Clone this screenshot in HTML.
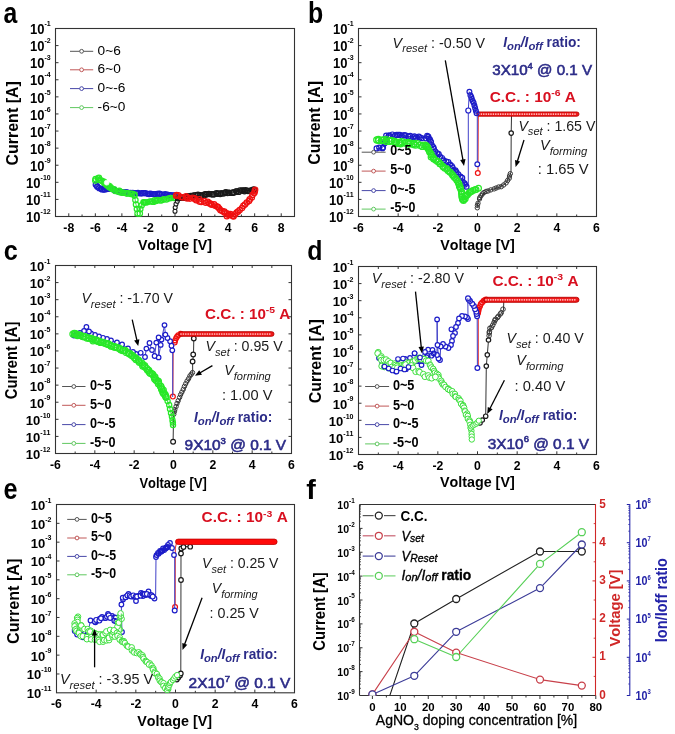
<!DOCTYPE html>
<html><head><meta charset="utf-8"><style>
html,body{margin:0;padding:0;background:#fff;}
svg{display:block;filter:blur(0.3px);}
svg text{font-family:"Liberation Sans", sans-serif;font-kerning:none;font-variant-ligatures:none;}
</style></head><body>
<svg width="675" height="734" viewBox="0 0 675 734">
<rect width="675" height="734" fill="#fff"/>
<text transform="translate(3.40,22.71) scale(0.8626,1)" font-size="28.73" font-weight="bold" font-style="normal" fill="#000">a</text>
<text transform="translate(308.00,22.91) scale(0.8518,1)" font-size="29.25" font-weight="bold" font-style="normal" fill="#000">b</text>
<text transform="translate(3.70,260.12) scale(0.9128,1)" font-size="27.64" font-weight="bold" font-style="normal" fill="#000">c</text>
<text transform="translate(307.20,259.72) scale(0.8763,1)" font-size="28.44" font-weight="bold" font-style="normal" fill="#000">d</text>
<text transform="translate(3.40,498.71) scale(0.8781,1)" font-size="28.73" font-weight="bold" font-style="normal" fill="#000">e</text>
<text transform="translate(306.30,498.60) scale(1.0235,1)" font-size="28.00" font-weight="bold" font-style="normal" fill="#000">f</text>
<rect x="55.5" y="28.5" width="239.00" height="188.00" fill="none" stroke="#333333" stroke-width="1.1"/>
<line x1="68.78" y1="216.50" x2="68.78" y2="213.30" stroke="#333333" stroke-width="1" />
<text transform="translate(63.33,231.70) scale(0.9,1)" font-size="13.6" font-weight="bold" fill="#000">-8</text>
<line x1="82.06" y1="216.50" x2="82.06" y2="214.50" stroke="#333333" stroke-width="1" />
<line x1="95.33" y1="216.50" x2="95.33" y2="213.30" stroke="#333333" stroke-width="1" />
<text transform="translate(89.89,231.70) scale(0.9,1)" font-size="13.6" font-weight="bold" fill="#000">-6</text>
<line x1="108.61" y1="216.50" x2="108.61" y2="214.50" stroke="#333333" stroke-width="1" />
<line x1="121.89" y1="216.50" x2="121.89" y2="213.30" stroke="#333333" stroke-width="1" />
<text transform="translate(116.44,231.70) scale(0.9,1)" font-size="13.6" font-weight="bold" fill="#000">-4</text>
<line x1="135.17" y1="216.50" x2="135.17" y2="214.50" stroke="#333333" stroke-width="1" />
<line x1="148.44" y1="216.50" x2="148.44" y2="213.30" stroke="#333333" stroke-width="1" />
<text transform="translate(143.00,231.70) scale(0.9,1)" font-size="13.6" font-weight="bold" fill="#000">-2</text>
<line x1="161.72" y1="216.50" x2="161.72" y2="214.50" stroke="#333333" stroke-width="1" />
<line x1="175.00" y1="216.50" x2="175.00" y2="213.30" stroke="#333333" stroke-width="1" />
<text transform="translate(171.60,231.70) scale(0.9,1)" font-size="13.6" font-weight="bold" fill="#000">0</text>
<line x1="188.28" y1="216.50" x2="188.28" y2="214.50" stroke="#333333" stroke-width="1" />
<line x1="201.56" y1="216.50" x2="201.56" y2="213.30" stroke="#333333" stroke-width="1" />
<text transform="translate(198.16,231.70) scale(0.9,1)" font-size="13.6" font-weight="bold" fill="#000">2</text>
<line x1="214.83" y1="216.50" x2="214.83" y2="214.50" stroke="#333333" stroke-width="1" />
<line x1="228.11" y1="216.50" x2="228.11" y2="213.30" stroke="#333333" stroke-width="1" />
<text transform="translate(224.71,231.70) scale(0.9,1)" font-size="13.6" font-weight="bold" fill="#000">4</text>
<line x1="241.39" y1="216.50" x2="241.39" y2="214.50" stroke="#333333" stroke-width="1" />
<line x1="254.67" y1="216.50" x2="254.67" y2="213.30" stroke="#333333" stroke-width="1" />
<text transform="translate(251.27,231.70) scale(0.9,1)" font-size="13.6" font-weight="bold" fill="#000">6</text>
<line x1="267.94" y1="216.50" x2="267.94" y2="214.50" stroke="#333333" stroke-width="1" />
<line x1="281.22" y1="216.50" x2="281.22" y2="213.30" stroke="#333333" stroke-width="1" />
<text transform="translate(277.83,231.70) scale(0.9,1)" font-size="13.6" font-weight="bold" fill="#000">8</text>
<text transform="translate(26.10,222.20) scale(0.91,1)" font-size="14.3" font-weight="bold" fill="#000"><tspan>10</tspan><tspan font-size="7.72" dy="-8.0">-12</tspan></text>
<line x1="55.50" y1="199.41" x2="58.50" y2="199.41" stroke="#333333" stroke-width="1" />
<text transform="translate(26.10,205.11) scale(0.91,1)" font-size="14.3" font-weight="bold" fill="#000"><tspan>10</tspan><tspan font-size="7.72" dy="-8.0">-11</tspan></text>
<line x1="55.50" y1="182.32" x2="58.50" y2="182.32" stroke="#333333" stroke-width="1" />
<text transform="translate(26.10,188.02) scale(0.91,1)" font-size="14.3" font-weight="bold" fill="#000"><tspan>10</tspan><tspan font-size="7.72" dy="-8.0">-10</tspan></text>
<line x1="55.50" y1="165.23" x2="58.50" y2="165.23" stroke="#333333" stroke-width="1" />
<text transform="translate(30.00,170.93) scale(0.91,1)" font-size="14.3" font-weight="bold" fill="#000"><tspan>10</tspan><tspan font-size="7.72" dy="-8.0">-9</tspan></text>
<line x1="55.50" y1="148.14" x2="58.50" y2="148.14" stroke="#333333" stroke-width="1" />
<text transform="translate(30.00,153.84) scale(0.91,1)" font-size="14.3" font-weight="bold" fill="#000"><tspan>10</tspan><tspan font-size="7.72" dy="-8.0">-8</tspan></text>
<line x1="55.50" y1="131.05" x2="58.50" y2="131.05" stroke="#333333" stroke-width="1" />
<text transform="translate(30.00,136.75) scale(0.91,1)" font-size="14.3" font-weight="bold" fill="#000"><tspan>10</tspan><tspan font-size="7.72" dy="-8.0">-7</tspan></text>
<line x1="55.50" y1="113.95" x2="58.50" y2="113.95" stroke="#333333" stroke-width="1" />
<text transform="translate(30.00,119.65) scale(0.91,1)" font-size="14.3" font-weight="bold" fill="#000"><tspan>10</tspan><tspan font-size="7.72" dy="-8.0">-6</tspan></text>
<line x1="55.50" y1="96.86" x2="58.50" y2="96.86" stroke="#333333" stroke-width="1" />
<text transform="translate(30.00,102.56) scale(0.91,1)" font-size="14.3" font-weight="bold" fill="#000"><tspan>10</tspan><tspan font-size="7.72" dy="-8.0">-5</tspan></text>
<line x1="55.50" y1="79.77" x2="58.50" y2="79.77" stroke="#333333" stroke-width="1" />
<text transform="translate(30.00,85.47) scale(0.91,1)" font-size="14.3" font-weight="bold" fill="#000"><tspan>10</tspan><tspan font-size="7.72" dy="-8.0">-4</tspan></text>
<line x1="55.50" y1="62.68" x2="58.50" y2="62.68" stroke="#333333" stroke-width="1" />
<text transform="translate(30.00,68.38) scale(0.91,1)" font-size="14.3" font-weight="bold" fill="#000"><tspan>10</tspan><tspan font-size="7.72" dy="-8.0">-3</tspan></text>
<line x1="55.50" y1="45.59" x2="58.50" y2="45.59" stroke="#333333" stroke-width="1" />
<text transform="translate(30.00,51.29) scale(0.91,1)" font-size="14.3" font-weight="bold" fill="#000"><tspan>10</tspan><tspan font-size="7.72" dy="-8.0">-2</tspan></text>
<text transform="translate(30.00,34.20) scale(0.91,1)" font-size="14.3" font-weight="bold" fill="#000"><tspan>10</tspan><tspan font-size="7.72" dy="-8.0">-1</tspan></text>
<text transform="translate(137.90,249.80) scale(0.9794,1)" fill="#000" ><tspan font-size="14.50" font-weight="bold">Voltage [V]</tspan></text>
<text transform="translate(18.40,123.30) rotate(-90) scale(0.9583,1) translate(-44.09,0)" fill="#000"><tspan font-size="16.70" font-weight="bold">Current [A]</tspan></text>
<polyline points="175.0,195.5 165.0,194.5 150.0,193.7 140.0,193.2 134.0,193.2 124.0,192.5 117.0,191.0 111.0,188.5 107.0,189.5 102.0,189.5 97.5,187.0 96.0,185.0" fill="none" stroke="#4040c8" stroke-width="1" stroke-linejoin="round" />
<circle cx="175.0" cy="195.6" r="2.5" fill="none" stroke="#1c1cc8" stroke-width="1.2" />
<circle cx="174.0" cy="195.3" r="2.5" fill="none" stroke="#1c1cc8" stroke-width="1.2" />
<circle cx="172.2" cy="195.3" r="2.5" fill="none" stroke="#1c1cc8" stroke-width="1.2" />
<circle cx="170.4" cy="195.1" r="2.5" fill="none" stroke="#1c1cc8" stroke-width="1.2" />
<circle cx="169.4" cy="195.2" r="2.5" fill="none" stroke="#1c1cc8" stroke-width="1.2" />
<circle cx="167.5" cy="194.6" r="2.5" fill="none" stroke="#1c1cc8" stroke-width="1.2" />
<circle cx="166.0" cy="195.0" r="2.5" fill="none" stroke="#1c1cc8" stroke-width="1.2" />
<circle cx="165.2" cy="194.0" r="2.5" fill="none" stroke="#1c1cc8" stroke-width="1.2" />
<circle cx="164.0" cy="194.9" r="2.5" fill="none" stroke="#1c1cc8" stroke-width="1.2" />
<circle cx="162.2" cy="194.5" r="2.5" fill="none" stroke="#1c1cc8" stroke-width="1.2" />
<circle cx="160.2" cy="193.8" r="2.5" fill="none" stroke="#1c1cc8" stroke-width="1.2" />
<circle cx="159.0" cy="193.7" r="2.5" fill="none" stroke="#1c1cc8" stroke-width="1.2" />
<circle cx="157.2" cy="193.8" r="2.5" fill="none" stroke="#1c1cc8" stroke-width="1.2" />
<circle cx="155.5" cy="194.0" r="2.5" fill="none" stroke="#1c1cc8" stroke-width="1.2" />
<circle cx="154.4" cy="194.3" r="2.5" fill="none" stroke="#1c1cc8" stroke-width="1.2" />
<circle cx="153.0" cy="194.0" r="2.5" fill="none" stroke="#1c1cc8" stroke-width="1.2" />
<circle cx="151.5" cy="193.9" r="2.5" fill="none" stroke="#1c1cc8" stroke-width="1.2" />
<circle cx="150.0" cy="193.5" r="2.5" fill="none" stroke="#1c1cc8" stroke-width="1.2" />
<circle cx="149.1" cy="194.1" r="2.5" fill="none" stroke="#1c1cc8" stroke-width="1.2" />
<circle cx="147.5" cy="193.8" r="2.5" fill="none" stroke="#1c1cc8" stroke-width="1.2" />
<circle cx="145.5" cy="193.2" r="2.5" fill="none" stroke="#1c1cc8" stroke-width="1.2" />
<circle cx="144.1" cy="193.0" r="2.5" fill="none" stroke="#1c1cc8" stroke-width="1.2" />
<circle cx="143.1" cy="193.2" r="2.5" fill="none" stroke="#1c1cc8" stroke-width="1.2" />
<circle cx="141.8" cy="193.2" r="2.5" fill="none" stroke="#1c1cc8" stroke-width="1.2" />
<circle cx="140.5" cy="193.5" r="2.5" fill="none" stroke="#1c1cc8" stroke-width="1.2" />
<circle cx="138.0" cy="192.9" r="2.5" fill="none" stroke="#1c1cc8" stroke-width="1.2" />
<circle cx="137.4" cy="193.2" r="2.5" fill="none" stroke="#1c1cc8" stroke-width="1.2" />
<circle cx="136.0" cy="193.1" r="2.5" fill="none" stroke="#1c1cc8" stroke-width="1.2" />
<circle cx="133.6" cy="193.3" r="2.5" fill="none" stroke="#1c1cc8" stroke-width="1.2" />
<circle cx="132.8" cy="192.9" r="2.5" fill="none" stroke="#1c1cc8" stroke-width="1.2" />
<circle cx="130.7" cy="192.8" r="2.5" fill="none" stroke="#1c1cc8" stroke-width="1.2" />
<circle cx="130.2" cy="193.2" r="2.5" fill="none" stroke="#1c1cc8" stroke-width="1.2" />
<circle cx="127.9" cy="192.5" r="2.5" fill="none" stroke="#1c1cc8" stroke-width="1.2" />
<circle cx="126.5" cy="192.3" r="2.5" fill="none" stroke="#1c1cc8" stroke-width="1.2" />
<circle cx="125.7" cy="192.3" r="2.5" fill="none" stroke="#1c1cc8" stroke-width="1.2" />
<circle cx="124.1" cy="192.4" r="2.5" fill="none" stroke="#1c1cc8" stroke-width="1.2" />
<circle cx="122.3" cy="192.4" r="2.5" fill="none" stroke="#1c1cc8" stroke-width="1.2" />
<circle cx="120.8" cy="192.0" r="2.5" fill="none" stroke="#1c1cc8" stroke-width="1.2" />
<circle cx="119.4" cy="191.5" r="2.5" fill="none" stroke="#1c1cc8" stroke-width="1.2" />
<circle cx="118.1" cy="191.1" r="2.5" fill="none" stroke="#1c1cc8" stroke-width="1.2" />
<circle cx="117.5" cy="191.3" r="2.5" fill="none" stroke="#1c1cc8" stroke-width="1.2" />
<circle cx="115.3" cy="190.8" r="2.5" fill="none" stroke="#1c1cc8" stroke-width="1.2" />
<circle cx="113.7" cy="189.6" r="2.5" fill="none" stroke="#1c1cc8" stroke-width="1.2" />
<circle cx="112.9" cy="189.3" r="2.5" fill="none" stroke="#1c1cc8" stroke-width="1.2" />
<circle cx="110.6" cy="189.0" r="2.5" fill="none" stroke="#1c1cc8" stroke-width="1.2" />
<circle cx="109.4" cy="188.6" r="2.5" fill="none" stroke="#1c1cc8" stroke-width="1.2" />
<circle cx="108.6" cy="189.0" r="2.5" fill="none" stroke="#1c1cc8" stroke-width="1.2" />
<circle cx="106.8" cy="189.1" r="2.5" fill="none" stroke="#1c1cc8" stroke-width="1.2" />
<circle cx="104.9" cy="189.6" r="2.5" fill="none" stroke="#1c1cc8" stroke-width="1.2" />
<circle cx="103.4" cy="189.6" r="2.5" fill="none" stroke="#1c1cc8" stroke-width="1.2" />
<circle cx="101.9" cy="189.5" r="2.5" fill="none" stroke="#1c1cc8" stroke-width="1.2" />
<circle cx="101.0" cy="188.7" r="2.5" fill="none" stroke="#1c1cc8" stroke-width="1.2" />
<circle cx="99.1" cy="188.2" r="2.5" fill="none" stroke="#1c1cc8" stroke-width="1.2" />
<circle cx="97.2" cy="186.7" r="2.5" fill="none" stroke="#1c1cc8" stroke-width="1.2" />
<circle cx="97.2" cy="186.3" r="2.5" fill="none" stroke="#1c1cc8" stroke-width="1.2" />
<circle cx="95.7" cy="184.7" r="2.5" fill="none" stroke="#1c1cc8" stroke-width="1.2" />
<polyline points="95.0,180.0 96.0,178.5 99.0,178.5 103.0,181.0 107.0,185.0 111.0,188.5 117.0,191.0 124.0,192.5 132.0,193.5 134.0,194.0" fill="none" stroke="#50d850" stroke-width="1" stroke-linejoin="round" />
<circle cx="95.3" cy="180.6" r="2.7" fill="none" stroke="#28e828" stroke-width="1.2" />
<circle cx="95.6" cy="179.1" r="2.7" fill="none" stroke="#28e828" stroke-width="1.2" />
<circle cx="98.0" cy="178.6" r="2.7" fill="none" stroke="#28e828" stroke-width="1.2" />
<circle cx="98.9" cy="177.9" r="2.7" fill="none" stroke="#28e828" stroke-width="1.2" />
<circle cx="99.7" cy="180.0" r="2.7" fill="none" stroke="#28e828" stroke-width="1.2" />
<circle cx="101.3" cy="180.5" r="2.7" fill="none" stroke="#28e828" stroke-width="1.2" />
<circle cx="102.7" cy="181.5" r="2.7" fill="none" stroke="#28e828" stroke-width="1.2" />
<circle cx="104.1" cy="181.7" r="2.7" fill="none" stroke="#28e828" stroke-width="1.2" />
<circle cx="104.5" cy="183.3" r="2.7" fill="none" stroke="#28e828" stroke-width="1.2" />
<circle cx="105.4" cy="183.6" r="2.7" fill="none" stroke="#28e828" stroke-width="1.2" />
<circle cx="107.1" cy="185.5" r="2.7" fill="none" stroke="#28e828" stroke-width="1.2" />
<circle cx="108.2" cy="185.6" r="2.7" fill="none" stroke="#28e828" stroke-width="1.2" />
<circle cx="109.6" cy="186.3" r="2.7" fill="none" stroke="#28e828" stroke-width="1.2" />
<circle cx="109.3" cy="187.3" r="2.7" fill="none" stroke="#28e828" stroke-width="1.2" />
<circle cx="110.9" cy="187.9" r="2.7" fill="none" stroke="#28e828" stroke-width="1.2" />
<circle cx="112.0" cy="188.9" r="2.7" fill="none" stroke="#28e828" stroke-width="1.2" />
<circle cx="114.1" cy="189.2" r="2.7" fill="none" stroke="#28e828" stroke-width="1.2" />
<circle cx="115.3" cy="190.9" r="2.7" fill="none" stroke="#28e828" stroke-width="1.2" />
<circle cx="117.7" cy="191.2" r="2.7" fill="none" stroke="#28e828" stroke-width="1.2" />
<circle cx="118.7" cy="191.4" r="2.7" fill="none" stroke="#28e828" stroke-width="1.2" />
<circle cx="119.3" cy="190.9" r="2.7" fill="none" stroke="#28e828" stroke-width="1.2" />
<circle cx="120.5" cy="192.5" r="2.7" fill="none" stroke="#28e828" stroke-width="1.2" />
<circle cx="122.9" cy="192.8" r="2.7" fill="none" stroke="#28e828" stroke-width="1.2" />
<circle cx="123.3" cy="192.7" r="2.7" fill="none" stroke="#28e828" stroke-width="1.2" />
<circle cx="125.6" cy="193.0" r="2.7" fill="none" stroke="#28e828" stroke-width="1.2" />
<circle cx="126.9" cy="193.6" r="2.7" fill="none" stroke="#28e828" stroke-width="1.2" />
<circle cx="128.2" cy="193.2" r="2.7" fill="none" stroke="#28e828" stroke-width="1.2" />
<circle cx="130.7" cy="193.9" r="2.7" fill="none" stroke="#28e828" stroke-width="1.2" />
<circle cx="132.3" cy="193.8" r="2.7" fill="none" stroke="#28e828" stroke-width="1.2" />
<circle cx="134.4" cy="194.6" r="2.7" fill="none" stroke="#28e828" stroke-width="1.2" />
<circle cx="106.7" cy="182.7" r="2.4" fill="#ffffff" stroke="#f4fff4" stroke-width="0.8" />
<polyline points="134.5,195.5 135.2,200.0 136.0,204.5 136.8,209.0 137.6,213.5" fill="none" stroke="#50d850" stroke-width="1" stroke-linejoin="round" />
<circle cx="134.4" cy="195.6" r="2.7" fill="none" stroke="#28e828" stroke-width="1.2" />
<circle cx="135.4" cy="200.1" r="2.7" fill="none" stroke="#28e828" stroke-width="1.2" />
<circle cx="136.0" cy="204.6" r="2.7" fill="none" stroke="#28e828" stroke-width="1.2" />
<circle cx="136.9" cy="209.0" r="2.7" fill="none" stroke="#28e828" stroke-width="1.2" />
<circle cx="137.6" cy="213.5" r="2.7" fill="none" stroke="#28e828" stroke-width="1.2" />
<polyline points="139.8,213.5 140.5,209.0 141.5,205.0 143.5,202.3" fill="none" stroke="#50d850" stroke-width="1" stroke-linejoin="round" />
<circle cx="139.8" cy="213.5" r="2.7" fill="none" stroke="#28e828" stroke-width="1.2" />
<circle cx="140.3" cy="209.1" r="2.7" fill="none" stroke="#28e828" stroke-width="1.2" />
<circle cx="141.7" cy="205.2" r="2.7" fill="none" stroke="#28e828" stroke-width="1.2" />
<circle cx="143.6" cy="202.3" r="2.7" fill="none" stroke="#28e828" stroke-width="1.2" />
<polyline points="143.5,202.3 150.0,201.8 158.0,200.5 166.0,199.0 172.0,198.0 175.0,197.3" fill="none" stroke="#50d850" stroke-width="1" stroke-linejoin="round" />
<circle cx="143.8" cy="202.4" r="2.6" fill="none" stroke="#28e828" stroke-width="1.2" />
<circle cx="145.0" cy="202.6" r="2.6" fill="none" stroke="#28e828" stroke-width="1.2" />
<circle cx="146.2" cy="202.4" r="2.6" fill="none" stroke="#28e828" stroke-width="1.2" />
<circle cx="147.7" cy="202.1" r="2.6" fill="none" stroke="#28e828" stroke-width="1.2" />
<circle cx="150.0" cy="201.4" r="2.6" fill="none" stroke="#28e828" stroke-width="1.2" />
<circle cx="151.9" cy="201.5" r="2.6" fill="none" stroke="#28e828" stroke-width="1.2" />
<circle cx="153.4" cy="201.9" r="2.6" fill="none" stroke="#28e828" stroke-width="1.2" />
<circle cx="154.5" cy="200.3" r="2.6" fill="none" stroke="#28e828" stroke-width="1.2" />
<circle cx="156.1" cy="201.0" r="2.6" fill="none" stroke="#28e828" stroke-width="1.2" />
<circle cx="157.6" cy="200.0" r="2.6" fill="none" stroke="#28e828" stroke-width="1.2" />
<circle cx="160.2" cy="200.4" r="2.6" fill="none" stroke="#28e828" stroke-width="1.2" />
<circle cx="161.1" cy="200.4" r="2.6" fill="none" stroke="#28e828" stroke-width="1.2" />
<circle cx="162.6" cy="199.8" r="2.6" fill="none" stroke="#28e828" stroke-width="1.2" />
<circle cx="164.0" cy="199.2" r="2.6" fill="none" stroke="#28e828" stroke-width="1.2" />
<circle cx="166.4" cy="199.6" r="2.6" fill="none" stroke="#28e828" stroke-width="1.2" />
<circle cx="168.5" cy="198.5" r="2.6" fill="none" stroke="#28e828" stroke-width="1.2" />
<circle cx="170.1" cy="198.1" r="2.6" fill="none" stroke="#28e828" stroke-width="1.2" />
<circle cx="171.5" cy="198.0" r="2.6" fill="none" stroke="#28e828" stroke-width="1.2" />
<circle cx="174.0" cy="198.1" r="2.6" fill="none" stroke="#28e828" stroke-width="1.2" />
<circle cx="175.3" cy="197.9" r="2.6" fill="none" stroke="#28e828" stroke-width="1.2" />
<circle cx="175.0" cy="211.3" r="2.0" fill="#fff" stroke="#1a1a1a" stroke-width="1.1" />
<circle cx="175.2" cy="207.5" r="2.0" fill="#fff" stroke="#1a1a1a" stroke-width="1.1" />
<circle cx="176.0" cy="204.0" r="2.0" fill="#fff" stroke="#1a1a1a" stroke-width="1.1" />
<circle cx="177.3" cy="201.3" r="2.0" fill="#fff" stroke="#1a1a1a" stroke-width="1.1" />
<polyline points="178.5,198.8 182.0,197.8 190.0,196.6 200.0,195.3 210.0,194.3 220.0,193.3 230.0,192.3 240.0,191.3 248.0,190.6 254.5,190.0" fill="none" stroke="#333333" stroke-width="1" stroke-linejoin="round" />
<circle cx="178.1" cy="198.3" r="2.6" fill="none" stroke="#1a1a1a" stroke-width="1.2" />
<circle cx="180.2" cy="197.9" r="2.6" fill="none" stroke="#1a1a1a" stroke-width="1.2" />
<circle cx="181.5" cy="197.7" r="2.6" fill="none" stroke="#1a1a1a" stroke-width="1.2" />
<circle cx="183.8" cy="197.6" r="2.6" fill="none" stroke="#1a1a1a" stroke-width="1.2" />
<circle cx="184.9" cy="197.9" r="2.6" fill="none" stroke="#1a1a1a" stroke-width="1.2" />
<circle cx="187.6" cy="197.0" r="2.6" fill="none" stroke="#1a1a1a" stroke-width="1.2" />
<circle cx="187.7" cy="196.1" r="2.6" fill="none" stroke="#1a1a1a" stroke-width="1.2" />
<circle cx="190.6" cy="195.9" r="2.6" fill="none" stroke="#1a1a1a" stroke-width="1.2" />
<circle cx="191.8" cy="196.5" r="2.6" fill="none" stroke="#1a1a1a" stroke-width="1.2" />
<circle cx="192.6" cy="196.7" r="2.6" fill="none" stroke="#1a1a1a" stroke-width="1.2" />
<circle cx="193.5" cy="195.5" r="2.6" fill="none" stroke="#1a1a1a" stroke-width="1.2" />
<circle cx="195.6" cy="195.1" r="2.6" fill="none" stroke="#1a1a1a" stroke-width="1.2" />
<circle cx="197.7" cy="195.3" r="2.6" fill="none" stroke="#1a1a1a" stroke-width="1.2" />
<circle cx="198.0" cy="194.8" r="2.6" fill="none" stroke="#1a1a1a" stroke-width="1.2" />
<circle cx="200.2" cy="195.2" r="2.6" fill="none" stroke="#1a1a1a" stroke-width="1.2" />
<circle cx="201.6" cy="195.4" r="2.6" fill="none" stroke="#1a1a1a" stroke-width="1.2" />
<circle cx="203.3" cy="195.7" r="2.6" fill="none" stroke="#1a1a1a" stroke-width="1.2" />
<circle cx="204.6" cy="194.4" r="2.6" fill="none" stroke="#1a1a1a" stroke-width="1.2" />
<circle cx="205.7" cy="194.2" r="2.6" fill="none" stroke="#1a1a1a" stroke-width="1.2" />
<circle cx="206.4" cy="194.5" r="2.6" fill="none" stroke="#1a1a1a" stroke-width="1.2" />
<circle cx="208.9" cy="193.9" r="2.6" fill="none" stroke="#1a1a1a" stroke-width="1.2" />
<circle cx="209.6" cy="194.1" r="2.6" fill="none" stroke="#1a1a1a" stroke-width="1.2" />
<circle cx="211.7" cy="194.2" r="2.6" fill="none" stroke="#1a1a1a" stroke-width="1.2" />
<circle cx="213.0" cy="194.4" r="2.6" fill="none" stroke="#1a1a1a" stroke-width="1.2" />
<circle cx="214.1" cy="194.3" r="2.6" fill="none" stroke="#1a1a1a" stroke-width="1.2" />
<circle cx="216.4" cy="193.1" r="2.6" fill="none" stroke="#1a1a1a" stroke-width="1.2" />
<circle cx="217.8" cy="193.9" r="2.6" fill="none" stroke="#1a1a1a" stroke-width="1.2" />
<circle cx="218.0" cy="193.4" r="2.6" fill="none" stroke="#1a1a1a" stroke-width="1.2" />
<circle cx="220.2" cy="194.0" r="2.6" fill="none" stroke="#1a1a1a" stroke-width="1.2" />
<circle cx="221.2" cy="193.3" r="2.6" fill="none" stroke="#1a1a1a" stroke-width="1.2" />
<circle cx="223.5" cy="193.5" r="2.6" fill="none" stroke="#1a1a1a" stroke-width="1.2" />
<circle cx="225.0" cy="192.8" r="2.6" fill="none" stroke="#1a1a1a" stroke-width="1.2" />
<circle cx="226.0" cy="192.3" r="2.6" fill="none" stroke="#1a1a1a" stroke-width="1.2" />
<circle cx="227.5" cy="193.1" r="2.6" fill="none" stroke="#1a1a1a" stroke-width="1.2" />
<circle cx="228.8" cy="192.8" r="2.6" fill="none" stroke="#1a1a1a" stroke-width="1.2" />
<circle cx="229.5" cy="192.9" r="2.6" fill="none" stroke="#1a1a1a" stroke-width="1.2" />
<circle cx="232.2" cy="192.9" r="2.6" fill="none" stroke="#1a1a1a" stroke-width="1.2" />
<circle cx="232.9" cy="192.5" r="2.6" fill="none" stroke="#1a1a1a" stroke-width="1.2" />
<circle cx="234.0" cy="192.5" r="2.6" fill="none" stroke="#1a1a1a" stroke-width="1.2" />
<circle cx="236.3" cy="191.5" r="2.6" fill="none" stroke="#1a1a1a" stroke-width="1.2" />
<circle cx="236.5" cy="191.5" r="2.6" fill="none" stroke="#1a1a1a" stroke-width="1.2" />
<circle cx="238.7" cy="191.9" r="2.6" fill="none" stroke="#1a1a1a" stroke-width="1.2" />
<circle cx="240.0" cy="190.5" r="2.6" fill="none" stroke="#1a1a1a" stroke-width="1.2" />
<circle cx="242.1" cy="190.5" r="2.6" fill="none" stroke="#1a1a1a" stroke-width="1.2" />
<circle cx="243.7" cy="190.5" r="2.6" fill="none" stroke="#1a1a1a" stroke-width="1.2" />
<circle cx="244.5" cy="191.3" r="2.6" fill="none" stroke="#1a1a1a" stroke-width="1.2" />
<circle cx="245.8" cy="190.2" r="2.6" fill="none" stroke="#1a1a1a" stroke-width="1.2" />
<circle cx="248.0" cy="191.0" r="2.6" fill="none" stroke="#1a1a1a" stroke-width="1.2" />
<circle cx="250.2" cy="190.8" r="2.6" fill="none" stroke="#1a1a1a" stroke-width="1.2" />
<circle cx="252.0" cy="190.3" r="2.6" fill="none" stroke="#1a1a1a" stroke-width="1.2" />
<circle cx="253.6" cy="189.5" r="2.6" fill="none" stroke="#1a1a1a" stroke-width="1.2" />
<circle cx="254.1" cy="190.0" r="2.6" fill="none" stroke="#1a1a1a" stroke-width="1.2" />
<polyline points="255.3,189.6 254.0,193.0 251.5,197.0 248.5,201.0 245.0,204.5 241.5,208.0 238.0,211.5 235.0,214.5 233.0,216.0" fill="none" stroke="#e03030" stroke-width="1" stroke-linejoin="round" />
<circle cx="255.1" cy="189.8" r="2.7" fill="none" stroke="#f01010" stroke-width="1.2" />
<circle cx="254.8" cy="191.3" r="2.7" fill="none" stroke="#f01010" stroke-width="1.2" />
<circle cx="254.3" cy="193.1" r="2.7" fill="none" stroke="#f01010" stroke-width="1.2" />
<circle cx="252.6" cy="194.9" r="2.7" fill="none" stroke="#f01010" stroke-width="1.2" />
<circle cx="251.8" cy="197.4" r="2.7" fill="none" stroke="#f01010" stroke-width="1.2" />
<circle cx="249.7" cy="199.4" r="2.7" fill="none" stroke="#f01010" stroke-width="1.2" />
<circle cx="249.0" cy="201.0" r="2.7" fill="none" stroke="#f01010" stroke-width="1.2" />
<circle cx="246.8" cy="202.5" r="2.7" fill="none" stroke="#f01010" stroke-width="1.2" />
<circle cx="245.0" cy="204.5" r="2.7" fill="none" stroke="#f01010" stroke-width="1.2" />
<circle cx="243.4" cy="205.8" r="2.7" fill="none" stroke="#f01010" stroke-width="1.2" />
<circle cx="242.0" cy="208.0" r="2.7" fill="none" stroke="#f01010" stroke-width="1.2" />
<circle cx="239.7" cy="210.1" r="2.7" fill="none" stroke="#f01010" stroke-width="1.2" />
<circle cx="238.1" cy="211.5" r="2.7" fill="none" stroke="#f01010" stroke-width="1.2" />
<circle cx="236.7" cy="212.6" r="2.7" fill="none" stroke="#f01010" stroke-width="1.2" />
<circle cx="235.0" cy="214.4" r="2.7" fill="none" stroke="#f01010" stroke-width="1.2" />
<circle cx="233.5" cy="216.4" r="2.7" fill="none" stroke="#f01010" stroke-width="1.2" />
<polyline points="233.0,216.0 230.0,213.5 227.3,216.0" fill="none" stroke="#e03030" stroke-width="1" stroke-linejoin="round" />
<circle cx="232.7" cy="216.0" r="2.7" fill="none" stroke="#f01010" stroke-width="1.2" />
<circle cx="231.0" cy="214.7" r="2.7" fill="none" stroke="#f01010" stroke-width="1.2" />
<circle cx="230.4" cy="214.1" r="2.7" fill="none" stroke="#f01010" stroke-width="1.2" />
<circle cx="228.6" cy="214.5" r="2.7" fill="none" stroke="#f01010" stroke-width="1.2" />
<circle cx="226.9" cy="216.2" r="2.7" fill="none" stroke="#f01010" stroke-width="1.2" />
<polyline points="227.3,215.5 224.0,212.0 220.0,208.5 214.0,205.0 207.0,202.5 200.0,200.5 192.0,198.5 185.0,197.2 179.0,196.3 176.0,195.8" fill="none" stroke="#e03030" stroke-width="1" stroke-linejoin="round" />
<circle cx="228.2" cy="214.7" r="2.7" fill="none" stroke="#f01010" stroke-width="1.2" />
<circle cx="226.8" cy="213.3" r="2.7" fill="none" stroke="#f01010" stroke-width="1.2" />
<circle cx="224.4" cy="212.6" r="2.7" fill="none" stroke="#f01010" stroke-width="1.2" />
<circle cx="224.4" cy="211.6" r="2.7" fill="none" stroke="#f01010" stroke-width="1.2" />
<circle cx="222.3" cy="211.1" r="2.7" fill="none" stroke="#f01010" stroke-width="1.2" />
<circle cx="220.5" cy="210.2" r="2.7" fill="none" stroke="#f01010" stroke-width="1.2" />
<circle cx="219.2" cy="208.5" r="2.7" fill="none" stroke="#f01010" stroke-width="1.2" />
<circle cx="218.0" cy="207.0" r="2.7" fill="none" stroke="#f01010" stroke-width="1.2" />
<circle cx="217.1" cy="206.6" r="2.7" fill="none" stroke="#f01010" stroke-width="1.2" />
<circle cx="215.2" cy="205.7" r="2.7" fill="none" stroke="#f01010" stroke-width="1.2" />
<circle cx="214.1" cy="204.3" r="2.7" fill="none" stroke="#f01010" stroke-width="1.2" />
<circle cx="211.6" cy="204.7" r="2.7" fill="none" stroke="#f01010" stroke-width="1.2" />
<circle cx="210.8" cy="203.8" r="2.7" fill="none" stroke="#f01010" stroke-width="1.2" />
<circle cx="209.5" cy="203.4" r="2.7" fill="none" stroke="#f01010" stroke-width="1.2" />
<circle cx="207.8" cy="201.9" r="2.7" fill="none" stroke="#f01010" stroke-width="1.2" />
<circle cx="205.8" cy="202.7" r="2.7" fill="none" stroke="#f01010" stroke-width="1.2" />
<circle cx="204.4" cy="201.1" r="2.7" fill="none" stroke="#f01010" stroke-width="1.2" />
<circle cx="201.3" cy="201.9" r="2.7" fill="none" stroke="#f01010" stroke-width="1.2" />
<circle cx="199.4" cy="201.6" r="2.7" fill="none" stroke="#f01010" stroke-width="1.2" />
<circle cx="199.3" cy="199.3" r="2.7" fill="none" stroke="#f01010" stroke-width="1.2" />
<circle cx="196.2" cy="200.2" r="2.7" fill="none" stroke="#f01010" stroke-width="1.2" />
<circle cx="194.7" cy="198.4" r="2.7" fill="none" stroke="#f01010" stroke-width="1.2" />
<circle cx="194.3" cy="198.7" r="2.7" fill="none" stroke="#f01010" stroke-width="1.2" />
<circle cx="192.6" cy="197.7" r="2.7" fill="none" stroke="#f01010" stroke-width="1.2" />
<circle cx="190.0" cy="198.6" r="2.7" fill="none" stroke="#f01010" stroke-width="1.2" />
<circle cx="187.4" cy="197.2" r="2.7" fill="none" stroke="#f01010" stroke-width="1.2" />
<circle cx="187.2" cy="198.4" r="2.7" fill="none" stroke="#f01010" stroke-width="1.2" />
<circle cx="186.0" cy="196.4" r="2.7" fill="none" stroke="#f01010" stroke-width="1.2" />
<circle cx="183.0" cy="197.5" r="2.7" fill="none" stroke="#f01010" stroke-width="1.2" />
<circle cx="181.0" cy="197.0" r="2.7" fill="none" stroke="#f01010" stroke-width="1.2" />
<circle cx="178.3" cy="195.4" r="2.7" fill="none" stroke="#f01010" stroke-width="1.2" />
<circle cx="176.6" cy="195.0" r="2.7" fill="none" stroke="#f01010" stroke-width="1.2" />
<circle cx="176.1" cy="195.8" r="2.7" fill="none" stroke="#f01010" stroke-width="1.2" />
<line x1="70.00" y1="51.30" x2="93.20" y2="51.30" stroke="#555555" stroke-width="1" />
<circle cx="81.6" cy="51.3" r="1.9" fill="#fff" stroke="#555555" stroke-width="1.0" />
<text transform="translate(97.60,54.90) scale(1.0064,1)" fill="#000" ><tspan font-size="13.60" font-weight="normal">0~6</tspan></text>
<line x1="70.00" y1="69.80" x2="93.20" y2="69.80" stroke="#c05858" stroke-width="1" />
<circle cx="81.6" cy="69.8" r="1.9" fill="#fff" stroke="#c05858" stroke-width="1.0" />
<text transform="translate(97.60,73.40) scale(1.0064,1)" fill="#000" ><tspan font-size="13.60" font-weight="normal">6~0</tspan></text>
<line x1="70.00" y1="88.60" x2="93.20" y2="88.60" stroke="#4848a8" stroke-width="1" />
<circle cx="81.6" cy="88.6" r="1.9" fill="#fff" stroke="#4848a8" stroke-width="1.0" />
<text transform="translate(97.60,92.20) scale(1.0064,1)" fill="#000" ><tspan font-size="13.60" font-weight="normal">0~-6</tspan></text>
<line x1="70.00" y1="107.60" x2="93.20" y2="107.60" stroke="#60c860" stroke-width="1" />
<circle cx="81.6" cy="107.6" r="1.9" fill="#fff" stroke="#60c860" stroke-width="1.0" />
<text transform="translate(97.60,111.20) scale(1.0064,1)" fill="#000" ><tspan font-size="13.60" font-weight="normal">-6~0</tspan></text>
<rect x="358.5" y="28.5" width="238.00" height="188.00" fill="none" stroke="#333333" stroke-width="1.1"/>
<text transform="translate(353.05,231.70) scale(0.9,1)" font-size="13.6" font-weight="bold" fill="#000">-6</text>
<line x1="378.33" y1="216.50" x2="378.33" y2="214.50" stroke="#333333" stroke-width="1" />
<line x1="398.17" y1="216.50" x2="398.17" y2="213.30" stroke="#333333" stroke-width="1" />
<text transform="translate(392.72,231.70) scale(0.9,1)" font-size="13.6" font-weight="bold" fill="#000">-4</text>
<line x1="418.00" y1="216.50" x2="418.00" y2="214.50" stroke="#333333" stroke-width="1" />
<line x1="437.83" y1="216.50" x2="437.83" y2="213.30" stroke="#333333" stroke-width="1" />
<text transform="translate(432.39,231.70) scale(0.9,1)" font-size="13.6" font-weight="bold" fill="#000">-2</text>
<line x1="457.67" y1="216.50" x2="457.67" y2="214.50" stroke="#333333" stroke-width="1" />
<line x1="477.50" y1="216.50" x2="477.50" y2="213.30" stroke="#333333" stroke-width="1" />
<text transform="translate(474.10,231.70) scale(0.9,1)" font-size="13.6" font-weight="bold" fill="#000">0</text>
<line x1="497.33" y1="216.50" x2="497.33" y2="214.50" stroke="#333333" stroke-width="1" />
<line x1="517.17" y1="216.50" x2="517.17" y2="213.30" stroke="#333333" stroke-width="1" />
<text transform="translate(513.77,231.70) scale(0.9,1)" font-size="13.6" font-weight="bold" fill="#000">2</text>
<line x1="537.00" y1="216.50" x2="537.00" y2="214.50" stroke="#333333" stroke-width="1" />
<line x1="556.83" y1="216.50" x2="556.83" y2="213.30" stroke="#333333" stroke-width="1" />
<text transform="translate(553.44,231.70) scale(0.9,1)" font-size="13.6" font-weight="bold" fill="#000">4</text>
<line x1="576.67" y1="216.50" x2="576.67" y2="214.50" stroke="#333333" stroke-width="1" />
<text transform="translate(593.10,231.70) scale(0.9,1)" font-size="13.6" font-weight="bold" fill="#000">6</text>
<text transform="translate(329.10,222.20) scale(0.91,1)" font-size="14.3" font-weight="bold" fill="#000"><tspan>10</tspan><tspan font-size="7.72" dy="-8.0">-12</tspan></text>
<line x1="358.50" y1="199.41" x2="361.50" y2="199.41" stroke="#333333" stroke-width="1" />
<text transform="translate(329.10,205.11) scale(0.91,1)" font-size="14.3" font-weight="bold" fill="#000"><tspan>10</tspan><tspan font-size="7.72" dy="-8.0">-11</tspan></text>
<line x1="358.50" y1="182.32" x2="361.50" y2="182.32" stroke="#333333" stroke-width="1" />
<text transform="translate(329.10,188.02) scale(0.91,1)" font-size="14.3" font-weight="bold" fill="#000"><tspan>10</tspan><tspan font-size="7.72" dy="-8.0">-10</tspan></text>
<line x1="358.50" y1="165.23" x2="361.50" y2="165.23" stroke="#333333" stroke-width="1" />
<text transform="translate(333.00,170.93) scale(0.91,1)" font-size="14.3" font-weight="bold" fill="#000"><tspan>10</tspan><tspan font-size="7.72" dy="-8.0">-9</tspan></text>
<line x1="358.50" y1="148.14" x2="361.50" y2="148.14" stroke="#333333" stroke-width="1" />
<text transform="translate(333.00,153.84) scale(0.91,1)" font-size="14.3" font-weight="bold" fill="#000"><tspan>10</tspan><tspan font-size="7.72" dy="-8.0">-8</tspan></text>
<line x1="358.50" y1="131.05" x2="361.50" y2="131.05" stroke="#333333" stroke-width="1" />
<text transform="translate(333.00,136.75) scale(0.91,1)" font-size="14.3" font-weight="bold" fill="#000"><tspan>10</tspan><tspan font-size="7.72" dy="-8.0">-7</tspan></text>
<line x1="358.50" y1="113.95" x2="361.50" y2="113.95" stroke="#333333" stroke-width="1" />
<text transform="translate(333.00,119.65) scale(0.91,1)" font-size="14.3" font-weight="bold" fill="#000"><tspan>10</tspan><tspan font-size="7.72" dy="-8.0">-6</tspan></text>
<line x1="358.50" y1="96.86" x2="361.50" y2="96.86" stroke="#333333" stroke-width="1" />
<text transform="translate(333.00,102.56) scale(0.91,1)" font-size="14.3" font-weight="bold" fill="#000"><tspan>10</tspan><tspan font-size="7.72" dy="-8.0">-5</tspan></text>
<line x1="358.50" y1="79.77" x2="361.50" y2="79.77" stroke="#333333" stroke-width="1" />
<text transform="translate(333.00,85.47) scale(0.91,1)" font-size="14.3" font-weight="bold" fill="#000"><tspan>10</tspan><tspan font-size="7.72" dy="-8.0">-4</tspan></text>
<line x1="358.50" y1="62.68" x2="361.50" y2="62.68" stroke="#333333" stroke-width="1" />
<text transform="translate(333.00,68.38) scale(0.91,1)" font-size="14.3" font-weight="bold" fill="#000"><tspan>10</tspan><tspan font-size="7.72" dy="-8.0">-3</tspan></text>
<line x1="358.50" y1="45.59" x2="361.50" y2="45.59" stroke="#333333" stroke-width="1" />
<text transform="translate(333.00,51.29) scale(0.91,1)" font-size="14.3" font-weight="bold" fill="#000"><tspan>10</tspan><tspan font-size="7.72" dy="-8.0">-2</tspan></text>
<text transform="translate(333.00,34.20) scale(0.91,1)" font-size="14.3" font-weight="bold" fill="#000"><tspan>10</tspan><tspan font-size="7.72" dy="-8.0">-1</tspan></text>
<text transform="translate(440.20,249.60) scale(0.9847,1)" fill="#000" ><tspan font-size="14.50" font-weight="bold">Voltage [V]</tspan></text>
<text transform="translate(320.10,122.80) rotate(-90) scale(0.9526,1) translate(-44.09,0)" fill="#000"><tspan font-size="16.70" font-weight="bold">Current [A]</tspan></text>
<polyline points="477.3,207.6 477.5,204.0 479.0,200.0 481.0,198.5 484.0,192.5 488.0,190.5 494.0,189.0 501.0,186.5 506.0,183.0 509.5,176.5 511.0,172.0 511.2,133.1 511.5,116.0" fill="none" stroke="#333333" stroke-width="1" stroke-linejoin="round" />
<circle cx="477.3" cy="207.8" r="2.2" fill="none" stroke="#383838" stroke-width="1.0" />
<circle cx="477.4" cy="205.3" r="2.2" fill="none" stroke="#383838" stroke-width="1.0" />
<circle cx="478.0" cy="203.3" r="2.2" fill="none" stroke="#383838" stroke-width="1.0" />
<circle cx="479.5" cy="199.0" r="2.2" fill="none" stroke="#383838" stroke-width="1.0" />
<circle cx="479.8" cy="197.6" r="2.2" fill="none" stroke="#383838" stroke-width="1.0" />
<circle cx="481.0" cy="195.7" r="2.2" fill="none" stroke="#383838" stroke-width="1.0" />
<circle cx="482.4" cy="194.0" r="2.2" fill="none" stroke="#383838" stroke-width="1.0" />
<circle cx="484.0" cy="192.5" r="2.2" fill="none" stroke="#383838" stroke-width="1.0" />
<circle cx="486.1" cy="191.4" r="2.2" fill="none" stroke="#383838" stroke-width="1.0" />
<circle cx="488.1" cy="191.0" r="2.2" fill="none" stroke="#383838" stroke-width="1.0" />
<circle cx="490.8" cy="189.9" r="2.2" fill="none" stroke="#383838" stroke-width="1.0" />
<circle cx="494.1" cy="188.9" r="2.2" fill="none" stroke="#383838" stroke-width="1.0" />
<circle cx="496.2" cy="188.0" r="2.2" fill="none" stroke="#383838" stroke-width="1.0" />
<circle cx="498.7" cy="187.0" r="2.2" fill="none" stroke="#383838" stroke-width="1.0" />
<circle cx="501.2" cy="186.7" r="2.2" fill="none" stroke="#383838" stroke-width="1.0" />
<circle cx="503.6" cy="185.0" r="2.2" fill="none" stroke="#383838" stroke-width="1.0" />
<circle cx="506.1" cy="182.9" r="2.2" fill="none" stroke="#383838" stroke-width="1.0" />
<circle cx="507.6" cy="180.5" r="2.2" fill="none" stroke="#383838" stroke-width="1.0" />
<circle cx="509.3" cy="178.2" r="2.2" fill="none" stroke="#383838" stroke-width="1.0" />
<circle cx="509.5" cy="176.0" r="2.2" fill="none" stroke="#383838" stroke-width="1.0" />
<circle cx="510.3" cy="173.7" r="2.2" fill="none" stroke="#383838" stroke-width="1.0" />
<circle cx="511.2" cy="133.1" r="2.2" fill="#fff" stroke="#1a1a1a" stroke-width="1.2" />
<polyline points="478.0,172.0 478.3,118.0 478.6,114.0" fill="none" stroke="#e03030" stroke-width="1" stroke-linejoin="round" />
<circle cx="477.8" cy="173.1" r="2.4" fill="#fff" stroke="#f01010" stroke-width="1.2" />
<rect x="477.0" y="112.0" width="102.0" height="4.2" rx="2.1" fill="#f01818" stroke="#b80000" stroke-width="0.9"/>
<circle cx="479.0" cy="114.1" r="0.85" fill="#ffc8c8"/>
<circle cx="481.4" cy="114.1" r="0.85" fill="#ffc8c8"/>
<circle cx="483.8" cy="114.1" r="0.85" fill="#ffc8c8"/>
<circle cx="486.2" cy="114.1" r="0.85" fill="#ffc8c8"/>
<circle cx="488.6" cy="114.1" r="0.85" fill="#ffc8c8"/>
<circle cx="491.0" cy="114.1" r="0.85" fill="#ffc8c8"/>
<circle cx="493.4" cy="114.1" r="0.85" fill="#ffc8c8"/>
<circle cx="495.8" cy="114.1" r="0.85" fill="#ffc8c8"/>
<circle cx="498.2" cy="114.1" r="0.85" fill="#ffc8c8"/>
<circle cx="500.6" cy="114.1" r="0.85" fill="#ffc8c8"/>
<circle cx="503.0" cy="114.1" r="0.85" fill="#ffc8c8"/>
<circle cx="505.4" cy="114.1" r="0.85" fill="#ffc8c8"/>
<circle cx="507.8" cy="114.1" r="0.85" fill="#ffc8c8"/>
<circle cx="510.2" cy="114.1" r="0.85" fill="#ffc8c8"/>
<circle cx="512.6" cy="114.1" r="0.85" fill="#ffc8c8"/>
<circle cx="515.0" cy="114.1" r="0.85" fill="#ffc8c8"/>
<circle cx="517.4" cy="114.1" r="0.85" fill="#ffc8c8"/>
<circle cx="519.8" cy="114.1" r="0.85" fill="#ffc8c8"/>
<circle cx="522.2" cy="114.1" r="0.85" fill="#ffc8c8"/>
<circle cx="524.6" cy="114.1" r="0.85" fill="#ffc8c8"/>
<circle cx="527.0" cy="114.1" r="0.85" fill="#ffc8c8"/>
<circle cx="529.4" cy="114.1" r="0.85" fill="#ffc8c8"/>
<circle cx="531.8" cy="114.1" r="0.85" fill="#ffc8c8"/>
<circle cx="534.2" cy="114.1" r="0.85" fill="#ffc8c8"/>
<circle cx="536.6" cy="114.1" r="0.85" fill="#ffc8c8"/>
<circle cx="539.0" cy="114.1" r="0.85" fill="#ffc8c8"/>
<circle cx="541.4" cy="114.1" r="0.85" fill="#ffc8c8"/>
<circle cx="543.8" cy="114.1" r="0.85" fill="#ffc8c8"/>
<circle cx="546.2" cy="114.1" r="0.85" fill="#ffc8c8"/>
<circle cx="548.6" cy="114.1" r="0.85" fill="#ffc8c8"/>
<circle cx="551.0" cy="114.1" r="0.85" fill="#ffc8c8"/>
<circle cx="553.4" cy="114.1" r="0.85" fill="#ffc8c8"/>
<circle cx="555.8" cy="114.1" r="0.85" fill="#ffc8c8"/>
<circle cx="558.2" cy="114.1" r="0.85" fill="#ffc8c8"/>
<circle cx="560.6" cy="114.1" r="0.85" fill="#ffc8c8"/>
<circle cx="563.0" cy="114.1" r="0.85" fill="#ffc8c8"/>
<circle cx="565.4" cy="114.1" r="0.85" fill="#ffc8c8"/>
<circle cx="567.8" cy="114.1" r="0.85" fill="#ffc8c8"/>
<circle cx="570.2" cy="114.1" r="0.85" fill="#ffc8c8"/>
<circle cx="572.6" cy="114.1" r="0.85" fill="#ffc8c8"/>
<circle cx="575.0" cy="114.1" r="0.85" fill="#ffc8c8"/>
<polyline points="477.3,164.3 477.3,116.0 476.5,113.3" fill="none" stroke="#4040c8" stroke-width="1" stroke-linejoin="round" />
<circle cx="477.3" cy="164.3" r="2.4" fill="#fff" stroke="#1c1cc8" stroke-width="1.2" />
<polyline points="476.5,113.3 475.0,108.0 473.5,103.0 472.0,99.0 470.5,95.0 469.3,91.8" fill="none" stroke="#4040c8" stroke-width="1" stroke-linejoin="round" />
<circle cx="476.6" cy="113.3" r="2.4" fill="none" stroke="#1c1cc8" stroke-width="1.2" />
<circle cx="475.9" cy="110.8" r="2.4" fill="none" stroke="#1c1cc8" stroke-width="1.2" />
<circle cx="475.1" cy="108.1" r="2.4" fill="none" stroke="#1c1cc8" stroke-width="1.2" />
<circle cx="474.4" cy="105.5" r="2.4" fill="none" stroke="#1c1cc8" stroke-width="1.2" />
<circle cx="473.6" cy="102.8" r="2.4" fill="none" stroke="#1c1cc8" stroke-width="1.2" />
<circle cx="472.7" cy="101.0" r="2.4" fill="none" stroke="#1c1cc8" stroke-width="1.2" />
<circle cx="471.8" cy="98.9" r="2.4" fill="none" stroke="#1c1cc8" stroke-width="1.2" />
<circle cx="471.3" cy="97.0" r="2.4" fill="none" stroke="#1c1cc8" stroke-width="1.2" />
<circle cx="470.4" cy="95.2" r="2.4" fill="none" stroke="#1c1cc8" stroke-width="1.2" />
<circle cx="469.4" cy="91.7" r="2.4" fill="none" stroke="#1c1cc8" stroke-width="1.2" />
<polyline points="469.3,91.8 468.3,110.5 468.3,186.6" fill="none" stroke="#4040c8" stroke-width="1" stroke-linejoin="round" />
<circle cx="468.3" cy="110.5" r="2.5" fill="#fff" stroke="#1c1cc8" stroke-width="1.2" />
<polyline points="466.2,186.6 462.3,181.2 460.3,176.3 452.5,167.5 444.6,159.6 436.5,153.5 433.0,147.0 430.5,140.5 428.5,136.0 425.0,137.5 420.0,137.5 414.0,136.5 408.0,136.5 402.0,135.5 396.0,134.8 390.0,135.0 386.5,136.0 385.0,141.0 383.5,146.5 380.0,148.5 377.0,148.5" fill="none" stroke="#4040c8" stroke-width="1" stroke-linejoin="round" />
<circle cx="466.5" cy="186.7" r="2.5" fill="none" stroke="#1c1cc8" stroke-width="1.2" />
<circle cx="465.0" cy="184.6" r="2.5" fill="none" stroke="#1c1cc8" stroke-width="1.2" />
<circle cx="464.5" cy="183.3" r="2.5" fill="none" stroke="#1c1cc8" stroke-width="1.2" />
<circle cx="462.7" cy="181.7" r="2.5" fill="none" stroke="#1c1cc8" stroke-width="1.2" />
<circle cx="462.2" cy="177.9" r="2.5" fill="none" stroke="#1c1cc8" stroke-width="1.2" />
<circle cx="460.5" cy="176.7" r="2.5" fill="none" stroke="#1c1cc8" stroke-width="1.2" />
<circle cx="458.3" cy="174.4" r="2.5" fill="none" stroke="#1c1cc8" stroke-width="1.2" />
<circle cx="456.4" cy="172.2" r="2.5" fill="none" stroke="#1c1cc8" stroke-width="1.2" />
<circle cx="455.4" cy="170.3" r="2.5" fill="none" stroke="#1c1cc8" stroke-width="1.2" />
<circle cx="453.6" cy="170.0" r="2.5" fill="none" stroke="#1c1cc8" stroke-width="1.2" />
<circle cx="452.6" cy="167.5" r="2.5" fill="none" stroke="#1c1cc8" stroke-width="1.2" />
<circle cx="451.8" cy="166.0" r="2.5" fill="none" stroke="#1c1cc8" stroke-width="1.2" />
<circle cx="450.2" cy="164.6" r="2.5" fill="none" stroke="#1c1cc8" stroke-width="1.2" />
<circle cx="448.3" cy="162.0" r="2.5" fill="none" stroke="#1c1cc8" stroke-width="1.2" />
<circle cx="446.4" cy="161.6" r="2.5" fill="none" stroke="#1c1cc8" stroke-width="1.2" />
<circle cx="443.8" cy="160.4" r="2.5" fill="none" stroke="#1c1cc8" stroke-width="1.2" />
<circle cx="442.0" cy="158.0" r="2.5" fill="none" stroke="#1c1cc8" stroke-width="1.2" />
<circle cx="440.0" cy="156.5" r="2.5" fill="none" stroke="#1c1cc8" stroke-width="1.2" />
<circle cx="438.7" cy="154.2" r="2.5" fill="none" stroke="#1c1cc8" stroke-width="1.2" />
<circle cx="437.3" cy="153.4" r="2.5" fill="none" stroke="#1c1cc8" stroke-width="1.2" />
<circle cx="435.4" cy="151.5" r="2.5" fill="none" stroke="#1c1cc8" stroke-width="1.2" />
<circle cx="433.9" cy="148.8" r="2.5" fill="none" stroke="#1c1cc8" stroke-width="1.2" />
<circle cx="433.3" cy="147.1" r="2.5" fill="none" stroke="#1c1cc8" stroke-width="1.2" />
<circle cx="431.8" cy="145.2" r="2.5" fill="none" stroke="#1c1cc8" stroke-width="1.2" />
<circle cx="431.0" cy="141.8" r="2.5" fill="none" stroke="#1c1cc8" stroke-width="1.2" />
<circle cx="430.0" cy="139.7" r="2.5" fill="none" stroke="#1c1cc8" stroke-width="1.2" />
<circle cx="428.9" cy="138.7" r="2.5" fill="none" stroke="#1c1cc8" stroke-width="1.2" />
<circle cx="428.3" cy="136.7" r="2.5" fill="none" stroke="#1c1cc8" stroke-width="1.2" />
<circle cx="427.2" cy="135.9" r="2.5" fill="none" stroke="#1c1cc8" stroke-width="1.2" />
<circle cx="425.9" cy="138.3" r="2.5" fill="none" stroke="#1c1cc8" stroke-width="1.2" />
<circle cx="421.7" cy="138.2" r="2.5" fill="none" stroke="#1c1cc8" stroke-width="1.2" />
<circle cx="419.9" cy="137.5" r="2.5" fill="none" stroke="#1c1cc8" stroke-width="1.2" />
<circle cx="418.9" cy="136.7" r="2.5" fill="none" stroke="#1c1cc8" stroke-width="1.2" />
<circle cx="416.0" cy="137.6" r="2.5" fill="none" stroke="#1c1cc8" stroke-width="1.2" />
<circle cx="414.4" cy="136.4" r="2.5" fill="none" stroke="#1c1cc8" stroke-width="1.2" />
<circle cx="412.9" cy="137.1" r="2.5" fill="none" stroke="#1c1cc8" stroke-width="1.2" />
<circle cx="410.2" cy="135.8" r="2.5" fill="none" stroke="#1c1cc8" stroke-width="1.2" />
<circle cx="408.2" cy="136.4" r="2.5" fill="none" stroke="#1c1cc8" stroke-width="1.2" />
<circle cx="405.5" cy="135.4" r="2.5" fill="none" stroke="#1c1cc8" stroke-width="1.2" />
<circle cx="404.1" cy="135.2" r="2.5" fill="none" stroke="#1c1cc8" stroke-width="1.2" />
<circle cx="401.9" cy="135.8" r="2.5" fill="none" stroke="#1c1cc8" stroke-width="1.2" />
<circle cx="399.9" cy="134.8" r="2.5" fill="none" stroke="#1c1cc8" stroke-width="1.2" />
<circle cx="398.1" cy="134.9" r="2.5" fill="none" stroke="#1c1cc8" stroke-width="1.2" />
<circle cx="396.5" cy="134.9" r="2.5" fill="none" stroke="#1c1cc8" stroke-width="1.2" />
<circle cx="394.9" cy="135.7" r="2.5" fill="none" stroke="#1c1cc8" stroke-width="1.2" />
<circle cx="392.4" cy="134.5" r="2.5" fill="none" stroke="#1c1cc8" stroke-width="1.2" />
<circle cx="389.3" cy="135.7" r="2.5" fill="none" stroke="#1c1cc8" stroke-width="1.2" />
<circle cx="388.8" cy="135.7" r="2.5" fill="none" stroke="#1c1cc8" stroke-width="1.2" />
<circle cx="386.2" cy="135.6" r="2.5" fill="none" stroke="#1c1cc8" stroke-width="1.2" />
<circle cx="386.1" cy="138.6" r="2.5" fill="none" stroke="#1c1cc8" stroke-width="1.2" />
<circle cx="385.2" cy="141.2" r="2.5" fill="none" stroke="#1c1cc8" stroke-width="1.2" />
<circle cx="384.7" cy="143.2" r="2.5" fill="none" stroke="#1c1cc8" stroke-width="1.2" />
<circle cx="383.0" cy="147.4" r="2.5" fill="none" stroke="#1c1cc8" stroke-width="1.2" />
<circle cx="382.5" cy="148.2" r="2.5" fill="none" stroke="#1c1cc8" stroke-width="1.2" />
<circle cx="379.2" cy="147.7" r="2.5" fill="none" stroke="#1c1cc8" stroke-width="1.2" />
<circle cx="376.6" cy="148.4" r="2.5" fill="none" stroke="#1c1cc8" stroke-width="1.2" />
<polyline points="376.5,141.0 380.0,140.0 386.0,140.5 392.0,141.5 400.0,142.5 408.0,143.5 416.0,144.5 423.0,145.5 427.0,146.5" fill="none" stroke="#50d850" stroke-width="1" stroke-linejoin="round" />
<circle cx="376.8" cy="140.0" r="3.1" fill="none" stroke="#28e828" stroke-width="1.2" />
<circle cx="378.4" cy="139.4" r="3.1" fill="none" stroke="#28e828" stroke-width="1.2" />
<circle cx="378.9" cy="140.5" r="3.1" fill="none" stroke="#28e828" stroke-width="1.2" />
<circle cx="381.6" cy="140.5" r="3.1" fill="none" stroke="#28e828" stroke-width="1.2" />
<circle cx="382.7" cy="140.2" r="3.1" fill="none" stroke="#28e828" stroke-width="1.2" />
<circle cx="383.7" cy="140.0" r="3.1" fill="none" stroke="#28e828" stroke-width="1.2" />
<circle cx="386.6" cy="141.4" r="3.1" fill="none" stroke="#28e828" stroke-width="1.2" />
<circle cx="386.4" cy="139.8" r="3.1" fill="none" stroke="#28e828" stroke-width="1.2" />
<circle cx="389.8" cy="141.3" r="3.1" fill="none" stroke="#28e828" stroke-width="1.2" />
<circle cx="391.2" cy="140.5" r="3.1" fill="none" stroke="#28e828" stroke-width="1.2" />
<circle cx="391.8" cy="140.9" r="3.1" fill="none" stroke="#28e828" stroke-width="1.2" />
<circle cx="394.4" cy="141.4" r="3.1" fill="none" stroke="#28e828" stroke-width="1.2" />
<circle cx="395.6" cy="143.2" r="3.1" fill="none" stroke="#28e828" stroke-width="1.2" />
<circle cx="396.3" cy="142.2" r="3.1" fill="none" stroke="#28e828" stroke-width="1.2" />
<circle cx="399.0" cy="143.4" r="3.1" fill="none" stroke="#28e828" stroke-width="1.2" />
<circle cx="399.8" cy="142.2" r="3.1" fill="none" stroke="#28e828" stroke-width="1.2" />
<circle cx="400.6" cy="143.7" r="3.1" fill="none" stroke="#28e828" stroke-width="1.2" />
<circle cx="402.1" cy="141.8" r="3.1" fill="none" stroke="#28e828" stroke-width="1.2" />
<circle cx="405.0" cy="143.1" r="3.1" fill="none" stroke="#28e828" stroke-width="1.2" />
<circle cx="406.9" cy="142.8" r="3.1" fill="none" stroke="#28e828" stroke-width="1.2" />
<circle cx="408.7" cy="142.4" r="3.1" fill="none" stroke="#28e828" stroke-width="1.2" />
<circle cx="408.9" cy="144.1" r="3.1" fill="none" stroke="#28e828" stroke-width="1.2" />
<circle cx="410.1" cy="143.4" r="3.1" fill="none" stroke="#28e828" stroke-width="1.2" />
<circle cx="413.4" cy="144.6" r="3.1" fill="none" stroke="#28e828" stroke-width="1.2" />
<circle cx="413.8" cy="143.4" r="3.1" fill="none" stroke="#28e828" stroke-width="1.2" />
<circle cx="415.6" cy="145.1" r="3.1" fill="none" stroke="#28e828" stroke-width="1.2" />
<circle cx="417.4" cy="143.8" r="3.1" fill="none" stroke="#28e828" stroke-width="1.2" />
<circle cx="420.0" cy="145.2" r="3.1" fill="none" stroke="#28e828" stroke-width="1.2" />
<circle cx="422.3" cy="146.4" r="3.1" fill="none" stroke="#28e828" stroke-width="1.2" />
<circle cx="424.1" cy="145.3" r="3.1" fill="none" stroke="#28e828" stroke-width="1.2" />
<circle cx="425.8" cy="145.5" r="3.1" fill="none" stroke="#28e828" stroke-width="1.2" />
<circle cx="426.5" cy="146.2" r="3.1" fill="none" stroke="#28e828" stroke-width="1.2" />
<polyline points="427.0,146.5 430.0,152.0 431.5,156.7 439.7,163.5 449.5,171.4 457.4,181.2 461.3,191.0 463.2,200.8 466.0,197.0 469.1,193.0 473.0,190.5 478.0,188.5" fill="none" stroke="#50d850" stroke-width="1" stroke-linejoin="round" />
<circle cx="427.5" cy="147.0" r="2.9" fill="none" stroke="#28e828" stroke-width="1.2" />
<circle cx="427.4" cy="147.7" r="2.9" fill="none" stroke="#28e828" stroke-width="1.2" />
<circle cx="428.3" cy="149.1" r="2.9" fill="none" stroke="#28e828" stroke-width="1.2" />
<circle cx="429.1" cy="150.5" r="2.9" fill="none" stroke="#28e828" stroke-width="1.2" />
<circle cx="429.6" cy="152.1" r="2.9" fill="none" stroke="#28e828" stroke-width="1.2" />
<circle cx="430.9" cy="153.6" r="2.9" fill="none" stroke="#28e828" stroke-width="1.2" />
<circle cx="431.4" cy="155.2" r="2.9" fill="none" stroke="#28e828" stroke-width="1.2" />
<circle cx="431.1" cy="157.0" r="2.9" fill="none" stroke="#28e828" stroke-width="1.2" />
<circle cx="433.3" cy="157.6" r="2.9" fill="none" stroke="#28e828" stroke-width="1.2" />
<circle cx="433.7" cy="159.0" r="2.9" fill="none" stroke="#28e828" stroke-width="1.2" />
<circle cx="435.7" cy="160.2" r="2.9" fill="none" stroke="#28e828" stroke-width="1.2" />
<circle cx="437.5" cy="161.4" r="2.9" fill="none" stroke="#28e828" stroke-width="1.2" />
<circle cx="438.7" cy="161.8" r="2.9" fill="none" stroke="#28e828" stroke-width="1.2" />
<circle cx="439.8" cy="163.8" r="2.9" fill="none" stroke="#28e828" stroke-width="1.2" />
<circle cx="440.6" cy="164.1" r="2.9" fill="none" stroke="#28e828" stroke-width="1.2" />
<circle cx="442.8" cy="166.2" r="2.9" fill="none" stroke="#28e828" stroke-width="1.2" />
<circle cx="443.4" cy="167.0" r="2.9" fill="none" stroke="#28e828" stroke-width="1.2" />
<circle cx="444.9" cy="168.3" r="2.9" fill="none" stroke="#28e828" stroke-width="1.2" />
<circle cx="446.9" cy="168.8" r="2.9" fill="none" stroke="#28e828" stroke-width="1.2" />
<circle cx="447.8" cy="170.6" r="2.9" fill="none" stroke="#28e828" stroke-width="1.2" />
<circle cx="449.5" cy="171.7" r="2.9" fill="none" stroke="#28e828" stroke-width="1.2" />
<circle cx="450.5" cy="172.6" r="2.9" fill="none" stroke="#28e828" stroke-width="1.2" />
<circle cx="452.3" cy="174.4" r="2.9" fill="none" stroke="#28e828" stroke-width="1.2" />
<circle cx="452.9" cy="175.6" r="2.9" fill="none" stroke="#28e828" stroke-width="1.2" />
<circle cx="454.3" cy="177.2" r="2.9" fill="none" stroke="#28e828" stroke-width="1.2" />
<circle cx="455.6" cy="178.3" r="2.9" fill="none" stroke="#28e828" stroke-width="1.2" />
<circle cx="456.7" cy="180.0" r="2.9" fill="none" stroke="#28e828" stroke-width="1.2" />
<circle cx="457.8" cy="181.6" r="2.9" fill="none" stroke="#28e828" stroke-width="1.2" />
<circle cx="458.5" cy="183.3" r="2.9" fill="none" stroke="#28e828" stroke-width="1.2" />
<circle cx="459.2" cy="184.6" r="2.9" fill="none" stroke="#28e828" stroke-width="1.2" />
<circle cx="459.4" cy="186.4" r="2.9" fill="none" stroke="#28e828" stroke-width="1.2" />
<circle cx="460.4" cy="187.6" r="2.9" fill="none" stroke="#28e828" stroke-width="1.2" />
<circle cx="460.6" cy="188.9" r="2.9" fill="none" stroke="#28e828" stroke-width="1.2" />
<circle cx="461.6" cy="191.6" r="2.9" fill="none" stroke="#28e828" stroke-width="1.2" />
<circle cx="461.5" cy="192.2" r="2.9" fill="none" stroke="#28e828" stroke-width="1.2" />
<circle cx="461.6" cy="194.2" r="2.9" fill="none" stroke="#28e828" stroke-width="1.2" />
<circle cx="462.0" cy="196.5" r="2.9" fill="none" stroke="#28e828" stroke-width="1.2" />
<circle cx="462.0" cy="197.3" r="2.9" fill="none" stroke="#28e828" stroke-width="1.2" />
<circle cx="462.4" cy="199.3" r="2.9" fill="none" stroke="#28e828" stroke-width="1.2" />
<circle cx="463.5" cy="200.4" r="2.9" fill="none" stroke="#28e828" stroke-width="1.2" />
<circle cx="463.6" cy="199.5" r="2.9" fill="none" stroke="#28e828" stroke-width="1.2" />
<circle cx="465.2" cy="198.8" r="2.9" fill="none" stroke="#28e828" stroke-width="1.2" />
<circle cx="465.4" cy="196.5" r="2.9" fill="none" stroke="#28e828" stroke-width="1.2" />
<circle cx="466.7" cy="195.3" r="2.9" fill="none" stroke="#28e828" stroke-width="1.2" />
<circle cx="467.7" cy="194.6" r="2.9" fill="none" stroke="#28e828" stroke-width="1.2" />
<circle cx="469.2" cy="192.7" r="2.9" fill="none" stroke="#28e828" stroke-width="1.2" />
<circle cx="470.0" cy="191.9" r="2.9" fill="none" stroke="#28e828" stroke-width="1.2" />
<circle cx="471.3" cy="191.6" r="2.9" fill="none" stroke="#28e828" stroke-width="1.2" />
<circle cx="472.8" cy="190.6" r="2.9" fill="none" stroke="#28e828" stroke-width="1.2" />
<circle cx="475.0" cy="189.8" r="2.9" fill="none" stroke="#28e828" stroke-width="1.2" />
<circle cx="476.0" cy="189.6" r="2.9" fill="none" stroke="#28e828" stroke-width="1.2" />
<circle cx="478.5" cy="188.3" r="2.9" fill="none" stroke="#28e828" stroke-width="1.2" />
<text transform="translate(392.60,47.60) scale(0.9888,1)" fill="#1a1a1a" ><tspan font-size="14.50" font-weight="normal" font-style="italic">V</tspan><tspan font-size="11.31" font-weight="normal" font-style="italic" dy="4.80">reset</tspan><tspan font-size="14.50" font-weight="normal" dy="-4.80"> : -0.50 V</tspan></text>
<line x1="445.30" y1="60.40" x2="463.13" y2="161.08" stroke="#000" stroke-width="1.3" />
<polygon points="464.0,166.0 460.2,160.1 465.5,159.1" fill="#000"/>
<text transform="translate(503.20,46.80) scale(0.9818,1)" fill="#2c2c88" ><tspan font-size="14.00" font-weight="bold" font-style="italic">I</tspan><tspan font-size="11.48" font-weight="bold" font-style="italic" dy="3.20">on</tspan><tspan font-size="14.00" font-weight="bold" font-style="italic" dy="-3.20">/I</tspan><tspan font-size="11.48" font-weight="bold" font-style="italic" dy="3.20">off</tspan><tspan font-size="14.00" font-weight="bold" dy="-3.20"> ratio:</tspan></text>
<text transform="translate(492.20,75.40) scale(1.0838,1)" fill="#2c2c88" stroke="#2c2c88" stroke-width="0.55"><tspan font-size="14.00" font-weight="normal">3X10</tspan><tspan font-size="8.68" font-weight="normal" dy="-6.20">4</tspan><tspan font-size="14.00" font-weight="normal" dy="6.20"> @ 0.1 V</tspan></text>
<text transform="translate(489.70,101.60) scale(1.1000,1)" fill="#d81020" ><tspan font-size="14.00" font-weight="bold">C.C. : 10</tspan><tspan font-size="9.52" font-weight="bold" dy="-5.80">-6</tspan><tspan font-size="14.00" font-weight="bold" dy="5.80"> A</tspan></text>
<text transform="translate(518.40,130.60) scale(0.9781,1)" fill="#1a1a1a" ><tspan font-size="14.50" font-weight="normal" font-style="italic">V</tspan><tspan font-size="11.31" font-weight="normal" font-style="italic" dy="4.80">set</tspan><tspan font-size="14.50" font-weight="normal" dy="-4.80"> : 1.65 V</tspan></text>
<text transform="translate(540.00,150.00) scale(1.0008,1)" fill="#1a1a1a" ><tspan font-size="14.50" font-weight="normal" font-style="italic">V</tspan><tspan font-size="11.31" font-weight="normal" font-style="italic" dy="4.80">forming</tspan></text>
<text transform="translate(537.80,173.50) scale(1.0175,1)" fill="#1a1a1a" ><tspan font-size="14.50" font-weight="normal">: 1.65 V</tspan></text>
<line x1="524.00" y1="140.00" x2="517.09" y2="162.23" stroke="#000" stroke-width="1.3" />
<polygon points="515.6,167.0 515.0,160.0 520.1,161.6" fill="#000"/>
<line x1="361.70" y1="152.20" x2="385.60" y2="152.20" stroke="#555555" stroke-width="1" />
<circle cx="373.6" cy="152.2" r="1.9" fill="#fff" stroke="#555555" stroke-width="1.0" />
<text transform="translate(390.30,155.30) scale(0.8892,1)" fill="#000" ><tspan font-size="14.00" font-weight="bold">0~5</tspan></text>
<line x1="361.70" y1="171.10" x2="385.60" y2="171.10" stroke="#c05858" stroke-width="1" />
<circle cx="373.6" cy="171.1" r="1.9" fill="#fff" stroke="#c05858" stroke-width="1.0" />
<text transform="translate(390.30,174.20) scale(0.8892,1)" fill="#000" ><tspan font-size="14.00" font-weight="bold">5~0</tspan></text>
<line x1="361.70" y1="190.60" x2="385.60" y2="190.60" stroke="#4848a8" stroke-width="1" />
<circle cx="373.6" cy="190.6" r="1.9" fill="#fff" stroke="#4848a8" stroke-width="1.0" />
<text transform="translate(390.30,193.70) scale(0.8892,1)" fill="#000" ><tspan font-size="14.00" font-weight="bold">0~-5</tspan></text>
<line x1="361.70" y1="209.10" x2="385.60" y2="209.10" stroke="#60c860" stroke-width="1" />
<circle cx="373.6" cy="209.1" r="1.9" fill="#fff" stroke="#60c860" stroke-width="1.0" />
<text transform="translate(390.30,212.20) scale(0.8892,1)" fill="#000" ><tspan font-size="14.00" font-weight="bold">-5~0</tspan></text>
<rect x="55.5" y="265.5" width="236.00" height="188.00" fill="none" stroke="#333333" stroke-width="1.1"/>
<text transform="translate(50.05,468.70) scale(0.9,1)" font-size="13.6" font-weight="bold" fill="#000">-6</text>
<line x1="75.17" y1="453.50" x2="75.17" y2="451.50" stroke="#333333" stroke-width="1" />
<line x1="75.17" y1="265.50" x2="75.17" y2="268.00" stroke="#333333" stroke-width="1" />
<line x1="94.83" y1="453.50" x2="94.83" y2="450.30" stroke="#333333" stroke-width="1" />
<line x1="94.83" y1="265.50" x2="94.83" y2="268.00" stroke="#333333" stroke-width="1" />
<text transform="translate(89.39,468.70) scale(0.9,1)" font-size="13.6" font-weight="bold" fill="#000">-4</text>
<line x1="114.50" y1="453.50" x2="114.50" y2="451.50" stroke="#333333" stroke-width="1" />
<line x1="114.50" y1="265.50" x2="114.50" y2="268.00" stroke="#333333" stroke-width="1" />
<line x1="134.17" y1="453.50" x2="134.17" y2="450.30" stroke="#333333" stroke-width="1" />
<line x1="134.17" y1="265.50" x2="134.17" y2="268.00" stroke="#333333" stroke-width="1" />
<text transform="translate(128.72,468.70) scale(0.9,1)" font-size="13.6" font-weight="bold" fill="#000">-2</text>
<line x1="153.83" y1="453.50" x2="153.83" y2="451.50" stroke="#333333" stroke-width="1" />
<line x1="153.83" y1="265.50" x2="153.83" y2="268.00" stroke="#333333" stroke-width="1" />
<line x1="173.50" y1="453.50" x2="173.50" y2="450.30" stroke="#333333" stroke-width="1" />
<line x1="173.50" y1="265.50" x2="173.50" y2="268.00" stroke="#333333" stroke-width="1" />
<text transform="translate(170.10,468.70) scale(0.9,1)" font-size="13.6" font-weight="bold" fill="#000">0</text>
<line x1="193.17" y1="453.50" x2="193.17" y2="451.50" stroke="#333333" stroke-width="1" />
<line x1="193.17" y1="265.50" x2="193.17" y2="268.00" stroke="#333333" stroke-width="1" />
<line x1="212.83" y1="453.50" x2="212.83" y2="450.30" stroke="#333333" stroke-width="1" />
<line x1="212.83" y1="265.50" x2="212.83" y2="268.00" stroke="#333333" stroke-width="1" />
<text transform="translate(209.44,468.70) scale(0.9,1)" font-size="13.6" font-weight="bold" fill="#000">2</text>
<line x1="232.50" y1="453.50" x2="232.50" y2="451.50" stroke="#333333" stroke-width="1" />
<line x1="232.50" y1="265.50" x2="232.50" y2="268.00" stroke="#333333" stroke-width="1" />
<line x1="252.17" y1="453.50" x2="252.17" y2="450.30" stroke="#333333" stroke-width="1" />
<line x1="252.17" y1="265.50" x2="252.17" y2="268.00" stroke="#333333" stroke-width="1" />
<text transform="translate(248.77,468.70) scale(0.9,1)" font-size="13.6" font-weight="bold" fill="#000">4</text>
<line x1="271.83" y1="453.50" x2="271.83" y2="451.50" stroke="#333333" stroke-width="1" />
<line x1="271.83" y1="265.50" x2="271.83" y2="268.00" stroke="#333333" stroke-width="1" />
<text transform="translate(288.10,468.70) scale(0.9,1)" font-size="13.6" font-weight="bold" fill="#000">6</text>
<text transform="translate(25.82,458.90) scale(0.96,1)" font-size="13.6" font-weight="bold" fill="#000"><tspan>10</tspan><tspan font-size="7.34" dy="-7.2">-12</tspan></text>
<line x1="55.50" y1="436.41" x2="58.50" y2="436.41" stroke="#333333" stroke-width="1" />
<line x1="291.50" y1="436.41" x2="288.50" y2="436.41" stroke="#333333" stroke-width="1" />
<text transform="translate(25.82,441.81) scale(0.96,1)" font-size="13.6" font-weight="bold" fill="#000"><tspan>10</tspan><tspan font-size="7.34" dy="-7.2">-11</tspan></text>
<line x1="55.50" y1="419.32" x2="58.50" y2="419.32" stroke="#333333" stroke-width="1" />
<line x1="291.50" y1="419.32" x2="288.50" y2="419.32" stroke="#333333" stroke-width="1" />
<text transform="translate(25.82,424.72) scale(0.96,1)" font-size="13.6" font-weight="bold" fill="#000"><tspan>10</tspan><tspan font-size="7.34" dy="-7.2">-10</tspan></text>
<line x1="55.50" y1="402.23" x2="58.50" y2="402.23" stroke="#333333" stroke-width="1" />
<line x1="291.50" y1="402.23" x2="288.50" y2="402.23" stroke="#333333" stroke-width="1" />
<text transform="translate(29.73,407.63) scale(0.96,1)" font-size="13.6" font-weight="bold" fill="#000"><tspan>10</tspan><tspan font-size="7.34" dy="-7.2">-9</tspan></text>
<line x1="55.50" y1="385.14" x2="58.50" y2="385.14" stroke="#333333" stroke-width="1" />
<line x1="291.50" y1="385.14" x2="288.50" y2="385.14" stroke="#333333" stroke-width="1" />
<text transform="translate(29.73,390.54) scale(0.96,1)" font-size="13.6" font-weight="bold" fill="#000"><tspan>10</tspan><tspan font-size="7.34" dy="-7.2">-8</tspan></text>
<line x1="55.50" y1="368.05" x2="58.50" y2="368.05" stroke="#333333" stroke-width="1" />
<line x1="291.50" y1="368.05" x2="288.50" y2="368.05" stroke="#333333" stroke-width="1" />
<text transform="translate(29.73,373.45) scale(0.96,1)" font-size="13.6" font-weight="bold" fill="#000"><tspan>10</tspan><tspan font-size="7.34" dy="-7.2">-7</tspan></text>
<line x1="55.50" y1="350.95" x2="58.50" y2="350.95" stroke="#333333" stroke-width="1" />
<line x1="291.50" y1="350.95" x2="288.50" y2="350.95" stroke="#333333" stroke-width="1" />
<text transform="translate(29.73,356.35) scale(0.96,1)" font-size="13.6" font-weight="bold" fill="#000"><tspan>10</tspan><tspan font-size="7.34" dy="-7.2">-6</tspan></text>
<line x1="55.50" y1="333.86" x2="58.50" y2="333.86" stroke="#333333" stroke-width="1" />
<line x1="291.50" y1="333.86" x2="288.50" y2="333.86" stroke="#333333" stroke-width="1" />
<text transform="translate(29.73,339.26) scale(0.96,1)" font-size="13.6" font-weight="bold" fill="#000"><tspan>10</tspan><tspan font-size="7.34" dy="-7.2">-5</tspan></text>
<line x1="55.50" y1="316.77" x2="58.50" y2="316.77" stroke="#333333" stroke-width="1" />
<line x1="291.50" y1="316.77" x2="288.50" y2="316.77" stroke="#333333" stroke-width="1" />
<text transform="translate(29.73,322.17) scale(0.96,1)" font-size="13.6" font-weight="bold" fill="#000"><tspan>10</tspan><tspan font-size="7.34" dy="-7.2">-4</tspan></text>
<line x1="55.50" y1="299.68" x2="58.50" y2="299.68" stroke="#333333" stroke-width="1" />
<line x1="291.50" y1="299.68" x2="288.50" y2="299.68" stroke="#333333" stroke-width="1" />
<text transform="translate(29.73,305.08) scale(0.96,1)" font-size="13.6" font-weight="bold" fill="#000"><tspan>10</tspan><tspan font-size="7.34" dy="-7.2">-3</tspan></text>
<line x1="55.50" y1="282.59" x2="58.50" y2="282.59" stroke="#333333" stroke-width="1" />
<line x1="291.50" y1="282.59" x2="288.50" y2="282.59" stroke="#333333" stroke-width="1" />
<text transform="translate(29.73,287.99) scale(0.96,1)" font-size="13.6" font-weight="bold" fill="#000"><tspan>10</tspan><tspan font-size="7.34" dy="-7.2">-2</tspan></text>
<text transform="translate(29.73,270.90) scale(0.96,1)" font-size="13.6" font-weight="bold" fill="#000"><tspan>10</tspan><tspan font-size="7.34" dy="-7.2">-1</tspan></text>
<text transform="translate(139.40,487.70) scale(0.8909,1)" fill="#000" ><tspan font-size="14.50" font-weight="bold">Voltage [V]</tspan></text>
<text transform="translate(16.90,360.40) rotate(-90) scale(0.8789,1) translate(-44.09,0)" fill="#000"><tspan font-size="16.70" font-weight="bold">Current [A]</tspan></text>
<polyline points="173.1,441.7 173.4,425.0 173.8,414.0 175.0,410.0 192.7,372.5 192.6,361.5 193.5,355.0 193.8,338.5 194.0,334.0" fill="none" stroke="#333333" stroke-width="1" stroke-linejoin="round" />
<circle cx="173.1" cy="441.7" r="2.4" fill="#fff" stroke="#1a1a1a" stroke-width="1.2" />
<circle cx="173.8" cy="414.2" r="2.2" fill="none" stroke="#3a3a3a" stroke-width="1.0" />
<circle cx="174.4" cy="411.6" r="2.2" fill="none" stroke="#3a3a3a" stroke-width="1.0" />
<circle cx="174.8" cy="409.7" r="2.2" fill="none" stroke="#3a3a3a" stroke-width="1.0" />
<circle cx="176.1" cy="406.5" r="2.2" fill="none" stroke="#3a3a3a" stroke-width="1.0" />
<circle cx="177.0" cy="403.5" r="2.2" fill="none" stroke="#3a3a3a" stroke-width="1.0" />
<circle cx="178.2" cy="400.7" r="2.2" fill="none" stroke="#3a3a3a" stroke-width="1.0" />
<circle cx="179.6" cy="397.4" r="2.2" fill="none" stroke="#3a3a3a" stroke-width="1.0" />
<circle cx="180.6" cy="394.7" r="2.2" fill="none" stroke="#3a3a3a" stroke-width="1.0" />
<circle cx="181.9" cy="392.1" r="2.2" fill="none" stroke="#3a3a3a" stroke-width="1.0" />
<circle cx="183.3" cy="389.3" r="2.2" fill="none" stroke="#3a3a3a" stroke-width="1.0" />
<circle cx="184.4" cy="386.4" r="2.2" fill="none" stroke="#3a3a3a" stroke-width="1.0" />
<circle cx="185.7" cy="383.7" r="2.2" fill="none" stroke="#3a3a3a" stroke-width="1.0" />
<circle cx="187.1" cy="381.0" r="2.2" fill="none" stroke="#3a3a3a" stroke-width="1.0" />
<circle cx="188.6" cy="378.7" r="2.2" fill="none" stroke="#3a3a3a" stroke-width="1.0" />
<circle cx="189.9" cy="376.0" r="2.2" fill="none" stroke="#3a3a3a" stroke-width="1.0" />
<circle cx="191.2" cy="374.4" r="2.2" fill="none" stroke="#3a3a3a" stroke-width="1.0" />
<circle cx="192.5" cy="372.6" r="2.2" fill="none" stroke="#3a3a3a" stroke-width="1.0" />
<circle cx="192.6" cy="361.5" r="2.3" fill="#fff" stroke="#1a1a1a" stroke-width="1.2" />
<circle cx="193.2" cy="354.5" r="2.3" fill="#fff" stroke="#1a1a1a" stroke-width="1.2" />
<circle cx="193.8" cy="338.5" r="2.3" fill="#fff" stroke="#1a1a1a" stroke-width="1.2" />
<polyline points="172.9,396.6 173.2,345.0 174.5,342.0" fill="none" stroke="#e03030" stroke-width="1" stroke-linejoin="round" />
<circle cx="172.9" cy="396.6" r="2.4" fill="#fff" stroke="#f01010" stroke-width="1.2" />
<circle cx="174.7" cy="342.6" r="2.4" fill="none" stroke="#f01010" stroke-width="1.2" />
<circle cx="175.1" cy="340.4" r="2.4" fill="none" stroke="#f01010" stroke-width="1.2" />
<circle cx="176.1" cy="338.3" r="2.4" fill="none" stroke="#f01010" stroke-width="1.2" />
<circle cx="177.0" cy="336.8" r="2.4" fill="none" stroke="#f01010" stroke-width="1.2" />
<circle cx="178.2" cy="335.2" r="2.4" fill="none" stroke="#f01010" stroke-width="1.2" />
<circle cx="180.6" cy="333.7" r="2.4" fill="none" stroke="#f01010" stroke-width="1.2" />
<rect x="179.0" y="331.7" width="95.0" height="4.6" rx="2.3" fill="#f01818" stroke="#b80000" stroke-width="0.9"/>
<circle cx="181.0" cy="334.0" r="0.85" fill="#ffc8c8"/>
<circle cx="183.4" cy="334.0" r="0.85" fill="#ffc8c8"/>
<circle cx="185.8" cy="334.0" r="0.85" fill="#ffc8c8"/>
<circle cx="188.2" cy="334.0" r="0.85" fill="#ffc8c8"/>
<circle cx="190.6" cy="334.0" r="0.85" fill="#ffc8c8"/>
<circle cx="193.0" cy="334.0" r="0.85" fill="#ffc8c8"/>
<circle cx="195.4" cy="334.0" r="0.85" fill="#ffc8c8"/>
<circle cx="197.8" cy="334.0" r="0.85" fill="#ffc8c8"/>
<circle cx="200.2" cy="334.0" r="0.85" fill="#ffc8c8"/>
<circle cx="202.6" cy="334.0" r="0.85" fill="#ffc8c8"/>
<circle cx="205.0" cy="334.0" r="0.85" fill="#ffc8c8"/>
<circle cx="207.4" cy="334.0" r="0.85" fill="#ffc8c8"/>
<circle cx="209.8" cy="334.0" r="0.85" fill="#ffc8c8"/>
<circle cx="212.2" cy="334.0" r="0.85" fill="#ffc8c8"/>
<circle cx="214.6" cy="334.0" r="0.85" fill="#ffc8c8"/>
<circle cx="217.0" cy="334.0" r="0.85" fill="#ffc8c8"/>
<circle cx="219.4" cy="334.0" r="0.85" fill="#ffc8c8"/>
<circle cx="221.8" cy="334.0" r="0.85" fill="#ffc8c8"/>
<circle cx="224.2" cy="334.0" r="0.85" fill="#ffc8c8"/>
<circle cx="226.6" cy="334.0" r="0.85" fill="#ffc8c8"/>
<circle cx="229.0" cy="334.0" r="0.85" fill="#ffc8c8"/>
<circle cx="231.4" cy="334.0" r="0.85" fill="#ffc8c8"/>
<circle cx="233.8" cy="334.0" r="0.85" fill="#ffc8c8"/>
<circle cx="236.2" cy="334.0" r="0.85" fill="#ffc8c8"/>
<circle cx="238.6" cy="334.0" r="0.85" fill="#ffc8c8"/>
<circle cx="241.0" cy="334.0" r="0.85" fill="#ffc8c8"/>
<circle cx="243.4" cy="334.0" r="0.85" fill="#ffc8c8"/>
<circle cx="245.8" cy="334.0" r="0.85" fill="#ffc8c8"/>
<circle cx="248.2" cy="334.0" r="0.85" fill="#ffc8c8"/>
<circle cx="250.6" cy="334.0" r="0.85" fill="#ffc8c8"/>
<circle cx="253.0" cy="334.0" r="0.85" fill="#ffc8c8"/>
<circle cx="255.4" cy="334.0" r="0.85" fill="#ffc8c8"/>
<circle cx="257.8" cy="334.0" r="0.85" fill="#ffc8c8"/>
<circle cx="260.2" cy="334.0" r="0.85" fill="#ffc8c8"/>
<circle cx="262.6" cy="334.0" r="0.85" fill="#ffc8c8"/>
<circle cx="265.0" cy="334.0" r="0.85" fill="#ffc8c8"/>
<circle cx="267.4" cy="334.0" r="0.85" fill="#ffc8c8"/>
<circle cx="269.8" cy="334.0" r="0.85" fill="#ffc8c8"/>
<polyline points="172.7,397.0 172.7,352.0" fill="none" stroke="#4040c8" stroke-width="1" stroke-linejoin="round" />
<polyline points="172.3,350.3 171.5,345.7 170.1,341.2 167.5,338.0 165.4,334.6 164.5,325.1 161.5,339.6 160.7,344.9 158.6,357.4 158.6,337.4 156.3,342.6 154.6,356.0 152.0,350.0 149.5,343.0 146.4,348.6 145.0,357.0 140.7,352.8 136.0,354.0 133.0,352.0 128.0,348.5 122.1,344.5 117.0,342.5 111.0,340.5 107.0,339.0 103.0,337.8 99.0,336.5 95.0,335.0 91.0,333.5 89.0,331.5 86.4,327.0 84.0,331.0 80.0,333.0 76.0,335.0 74.0,335.5" fill="none" stroke="#4040c8" stroke-width="1" stroke-linejoin="round" />
<circle cx="172.3" cy="350.3" r="2.3" fill="#fff" stroke="#1c1cc8" stroke-width="1.2" />
<circle cx="171.5" cy="345.7" r="2.3" fill="#fff" stroke="#1c1cc8" stroke-width="1.2" />
<circle cx="170.1" cy="341.2" r="2.3" fill="#fff" stroke="#1c1cc8" stroke-width="1.2" />
<circle cx="167.5" cy="338.0" r="2.3" fill="#fff" stroke="#1c1cc8" stroke-width="1.2" />
<circle cx="165.4" cy="334.6" r="2.3" fill="#fff" stroke="#1c1cc8" stroke-width="1.2" />
<circle cx="164.5" cy="325.1" r="2.3" fill="#fff" stroke="#1c1cc8" stroke-width="1.2" />
<circle cx="161.5" cy="339.6" r="2.3" fill="#fff" stroke="#1c1cc8" stroke-width="1.2" />
<circle cx="160.7" cy="344.9" r="2.3" fill="#fff" stroke="#1c1cc8" stroke-width="1.2" />
<circle cx="158.6" cy="357.4" r="2.3" fill="#fff" stroke="#1c1cc8" stroke-width="1.2" />
<circle cx="158.6" cy="337.4" r="2.3" fill="#fff" stroke="#1c1cc8" stroke-width="1.2" />
<circle cx="156.3" cy="342.6" r="2.3" fill="#fff" stroke="#1c1cc8" stroke-width="1.2" />
<circle cx="154.6" cy="356.0" r="2.3" fill="#fff" stroke="#1c1cc8" stroke-width="1.2" />
<circle cx="152.0" cy="350.0" r="2.3" fill="#fff" stroke="#1c1cc8" stroke-width="1.2" />
<circle cx="149.5" cy="343.0" r="2.3" fill="#fff" stroke="#1c1cc8" stroke-width="1.2" />
<circle cx="146.4" cy="348.6" r="2.3" fill="#fff" stroke="#1c1cc8" stroke-width="1.2" />
<circle cx="145.0" cy="357.0" r="2.3" fill="#fff" stroke="#1c1cc8" stroke-width="1.2" />
<circle cx="140.7" cy="352.8" r="2.3" fill="#fff" stroke="#1c1cc8" stroke-width="1.2" />
<circle cx="136.0" cy="354.0" r="2.3" fill="#fff" stroke="#1c1cc8" stroke-width="1.2" />
<circle cx="133.0" cy="352.0" r="2.3" fill="#fff" stroke="#1c1cc8" stroke-width="1.2" />
<circle cx="128.0" cy="348.5" r="2.3" fill="#fff" stroke="#1c1cc8" stroke-width="1.2" />
<circle cx="122.1" cy="344.5" r="2.3" fill="#fff" stroke="#1c1cc8" stroke-width="1.2" />
<circle cx="117.0" cy="342.5" r="2.3" fill="#fff" stroke="#1c1cc8" stroke-width="1.2" />
<circle cx="111.0" cy="340.5" r="2.3" fill="#fff" stroke="#1c1cc8" stroke-width="1.2" />
<circle cx="107.0" cy="339.0" r="2.3" fill="#fff" stroke="#1c1cc8" stroke-width="1.2" />
<circle cx="103.0" cy="337.8" r="2.3" fill="#fff" stroke="#1c1cc8" stroke-width="1.2" />
<circle cx="99.0" cy="336.5" r="2.3" fill="#fff" stroke="#1c1cc8" stroke-width="1.2" />
<circle cx="95.0" cy="335.0" r="2.3" fill="#fff" stroke="#1c1cc8" stroke-width="1.2" />
<circle cx="91.0" cy="333.5" r="2.3" fill="#fff" stroke="#1c1cc8" stroke-width="1.2" />
<circle cx="89.0" cy="331.5" r="2.3" fill="#fff" stroke="#1c1cc8" stroke-width="1.2" />
<circle cx="86.4" cy="327.0" r="2.3" fill="#fff" stroke="#1c1cc8" stroke-width="1.2" />
<circle cx="84.0" cy="331.0" r="2.3" fill="#fff" stroke="#1c1cc8" stroke-width="1.2" />
<circle cx="80.0" cy="333.0" r="2.3" fill="#fff" stroke="#1c1cc8" stroke-width="1.2" />
<circle cx="76.0" cy="335.0" r="2.3" fill="#fff" stroke="#1c1cc8" stroke-width="1.2" />
<circle cx="74.0" cy="335.5" r="2.3" fill="#fff" stroke="#1c1cc8" stroke-width="1.2" />
<polyline points="72.5,334.2 75.0,334.2 85.7,336.8 95.1,340.4 105.0,343.5 114.8,347.2 125.2,351.3 132.0,355.0 140.0,362.0 150.0,371.5 157.0,380.5 162.0,389.5 166.0,397.5" fill="none" stroke="#50d850" stroke-width="1" stroke-linejoin="round" />
<circle cx="73.0" cy="334.1" r="3.1" fill="none" stroke="#28e828" stroke-width="1.2" />
<circle cx="74.4" cy="333.5" r="3.1" fill="none" stroke="#28e828" stroke-width="1.2" />
<circle cx="75.5" cy="333.7" r="3.1" fill="none" stroke="#28e828" stroke-width="1.2" />
<circle cx="76.6" cy="334.6" r="3.1" fill="none" stroke="#28e828" stroke-width="1.2" />
<circle cx="77.5" cy="335.5" r="3.1" fill="none" stroke="#28e828" stroke-width="1.2" />
<circle cx="79.3" cy="335.0" r="3.1" fill="none" stroke="#28e828" stroke-width="1.2" />
<circle cx="80.4" cy="335.4" r="3.1" fill="none" stroke="#28e828" stroke-width="1.2" />
<circle cx="82.6" cy="336.4" r="3.1" fill="none" stroke="#28e828" stroke-width="1.2" />
<circle cx="83.9" cy="336.7" r="3.1" fill="none" stroke="#28e828" stroke-width="1.2" />
<circle cx="85.1" cy="336.6" r="3.1" fill="none" stroke="#28e828" stroke-width="1.2" />
<circle cx="87.0" cy="338.1" r="3.1" fill="none" stroke="#28e828" stroke-width="1.2" />
<circle cx="88.9" cy="338.1" r="3.1" fill="none" stroke="#28e828" stroke-width="1.2" />
<circle cx="88.9" cy="338.1" r="3.1" fill="none" stroke="#28e828" stroke-width="1.2" />
<circle cx="91.4" cy="338.4" r="3.1" fill="none" stroke="#28e828" stroke-width="1.2" />
<circle cx="92.5" cy="339.3" r="3.1" fill="none" stroke="#28e828" stroke-width="1.2" />
<circle cx="93.0" cy="340.7" r="3.1" fill="none" stroke="#28e828" stroke-width="1.2" />
<circle cx="95.6" cy="339.9" r="3.1" fill="none" stroke="#28e828" stroke-width="1.2" />
<circle cx="96.7" cy="340.5" r="3.1" fill="none" stroke="#28e828" stroke-width="1.2" />
<circle cx="97.7" cy="341.3" r="3.1" fill="none" stroke="#28e828" stroke-width="1.2" />
<circle cx="99.0" cy="341.5" r="3.1" fill="none" stroke="#28e828" stroke-width="1.2" />
<circle cx="100.6" cy="342.4" r="3.1" fill="none" stroke="#28e828" stroke-width="1.2" />
<circle cx="101.8" cy="342.1" r="3.1" fill="none" stroke="#28e828" stroke-width="1.2" />
<circle cx="104.0" cy="342.8" r="3.1" fill="none" stroke="#28e828" stroke-width="1.2" />
<circle cx="105.7" cy="343.6" r="3.1" fill="none" stroke="#28e828" stroke-width="1.2" />
<circle cx="106.8" cy="343.8" r="3.1" fill="none" stroke="#28e828" stroke-width="1.2" />
<circle cx="108.3" cy="343.9" r="3.1" fill="none" stroke="#28e828" stroke-width="1.2" />
<circle cx="108.6" cy="344.4" r="3.1" fill="none" stroke="#28e828" stroke-width="1.2" />
<circle cx="110.9" cy="345.9" r="3.1" fill="none" stroke="#28e828" stroke-width="1.2" />
<circle cx="111.5" cy="346.0" r="3.1" fill="none" stroke="#28e828" stroke-width="1.2" />
<circle cx="113.9" cy="346.8" r="3.1" fill="none" stroke="#28e828" stroke-width="1.2" />
<circle cx="114.1" cy="346.8" r="3.1" fill="none" stroke="#28e828" stroke-width="1.2" />
<circle cx="115.7" cy="347.2" r="3.1" fill="none" stroke="#28e828" stroke-width="1.2" />
<circle cx="117.6" cy="347.7" r="3.1" fill="none" stroke="#28e828" stroke-width="1.2" />
<circle cx="119.9" cy="348.8" r="3.1" fill="none" stroke="#28e828" stroke-width="1.2" />
<circle cx="120.8" cy="349.8" r="3.1" fill="none" stroke="#28e828" stroke-width="1.2" />
<circle cx="122.7" cy="350.6" r="3.1" fill="none" stroke="#28e828" stroke-width="1.2" />
<circle cx="123.5" cy="350.4" r="3.1" fill="none" stroke="#28e828" stroke-width="1.2" />
<circle cx="125.1" cy="350.5" r="3.1" fill="none" stroke="#28e828" stroke-width="1.2" />
<circle cx="126.4" cy="352.4" r="3.1" fill="none" stroke="#28e828" stroke-width="1.2" />
<circle cx="128.7" cy="353.2" r="3.1" fill="none" stroke="#28e828" stroke-width="1.2" />
<circle cx="129.5" cy="353.7" r="3.1" fill="none" stroke="#28e828" stroke-width="1.2" />
<circle cx="129.9" cy="354.0" r="3.1" fill="none" stroke="#28e828" stroke-width="1.2" />
<circle cx="131.7" cy="355.2" r="3.1" fill="none" stroke="#28e828" stroke-width="1.2" />
<circle cx="132.5" cy="355.8" r="3.1" fill="none" stroke="#28e828" stroke-width="1.2" />
<circle cx="134.3" cy="357.5" r="3.1" fill="none" stroke="#28e828" stroke-width="1.2" />
<circle cx="135.9" cy="358.2" r="3.1" fill="none" stroke="#28e828" stroke-width="1.2" />
<circle cx="136.0" cy="359.4" r="3.1" fill="none" stroke="#28e828" stroke-width="1.2" />
<circle cx="138.4" cy="360.1" r="3.1" fill="none" stroke="#28e828" stroke-width="1.2" />
<circle cx="138.6" cy="361.0" r="3.1" fill="none" stroke="#28e828" stroke-width="1.2" />
<circle cx="139.4" cy="362.3" r="3.1" fill="none" stroke="#28e828" stroke-width="1.2" />
<circle cx="141.9" cy="363.1" r="3.1" fill="none" stroke="#28e828" stroke-width="1.2" />
<circle cx="142.6" cy="364.6" r="3.1" fill="none" stroke="#28e828" stroke-width="1.2" />
<circle cx="142.8" cy="365.9" r="3.1" fill="none" stroke="#28e828" stroke-width="1.2" />
<circle cx="144.6" cy="365.7" r="3.1" fill="none" stroke="#28e828" stroke-width="1.2" />
<circle cx="144.9" cy="366.9" r="3.1" fill="none" stroke="#28e828" stroke-width="1.2" />
<circle cx="146.8" cy="368.6" r="3.1" fill="none" stroke="#28e828" stroke-width="1.2" />
<circle cx="147.5" cy="370.1" r="3.1" fill="none" stroke="#28e828" stroke-width="1.2" />
<circle cx="148.7" cy="370.4" r="3.1" fill="none" stroke="#28e828" stroke-width="1.2" />
<circle cx="149.4" cy="372.3" r="3.1" fill="none" stroke="#28e828" stroke-width="1.2" />
<circle cx="150.3" cy="373.3" r="3.1" fill="none" stroke="#28e828" stroke-width="1.2" />
<circle cx="151.8" cy="373.8" r="3.1" fill="none" stroke="#28e828" stroke-width="1.2" />
<circle cx="152.7" cy="374.5" r="3.1" fill="none" stroke="#28e828" stroke-width="1.2" />
<circle cx="154.2" cy="376.8" r="3.1" fill="none" stroke="#28e828" stroke-width="1.2" />
<circle cx="154.9" cy="377.3" r="3.1" fill="none" stroke="#28e828" stroke-width="1.2" />
<circle cx="154.6" cy="378.8" r="3.1" fill="none" stroke="#28e828" stroke-width="1.2" />
<circle cx="155.8" cy="380.0" r="3.1" fill="none" stroke="#28e828" stroke-width="1.2" />
<circle cx="156.6" cy="380.6" r="3.1" fill="none" stroke="#28e828" stroke-width="1.2" />
<circle cx="158.2" cy="381.3" r="3.1" fill="none" stroke="#28e828" stroke-width="1.2" />
<circle cx="158.5" cy="382.4" r="3.1" fill="none" stroke="#28e828" stroke-width="1.2" />
<circle cx="158.4" cy="383.8" r="3.1" fill="none" stroke="#28e828" stroke-width="1.2" />
<circle cx="160.6" cy="386.3" r="3.1" fill="none" stroke="#28e828" stroke-width="1.2" />
<circle cx="160.8" cy="386.6" r="3.1" fill="none" stroke="#28e828" stroke-width="1.2" />
<circle cx="161.6" cy="388.6" r="3.1" fill="none" stroke="#28e828" stroke-width="1.2" />
<circle cx="161.8" cy="389.6" r="3.1" fill="none" stroke="#28e828" stroke-width="1.2" />
<circle cx="163.2" cy="390.1" r="3.1" fill="none" stroke="#28e828" stroke-width="1.2" />
<circle cx="162.9" cy="392.1" r="3.1" fill="none" stroke="#28e828" stroke-width="1.2" />
<circle cx="163.4" cy="393.3" r="3.1" fill="none" stroke="#28e828" stroke-width="1.2" />
<circle cx="164.8" cy="394.3" r="3.1" fill="none" stroke="#28e828" stroke-width="1.2" />
<circle cx="165.4" cy="395.8" r="3.1" fill="none" stroke="#28e828" stroke-width="1.2" />
<circle cx="166.1" cy="397.2" r="3.1" fill="none" stroke="#28e828" stroke-width="1.2" />
<polyline points="166.0,397.5 169.0,405.0 171.0,413.0 172.5,420.0 173.0,425.0" fill="none" stroke="#50d850" stroke-width="1" stroke-linejoin="round" />
<circle cx="166.1" cy="397.3" r="2.6" fill="none" stroke="#28e828" stroke-width="1.2" />
<circle cx="167.6" cy="401.1" r="2.6" fill="none" stroke="#28e828" stroke-width="1.2" />
<circle cx="169.2" cy="405.0" r="2.6" fill="none" stroke="#28e828" stroke-width="1.2" />
<circle cx="170.0" cy="409.0" r="2.6" fill="none" stroke="#28e828" stroke-width="1.2" />
<circle cx="171.0" cy="413.1" r="2.6" fill="none" stroke="#28e828" stroke-width="1.2" />
<circle cx="171.9" cy="416.6" r="2.6" fill="none" stroke="#28e828" stroke-width="1.2" />
<circle cx="172.5" cy="420.2" r="2.6" fill="none" stroke="#28e828" stroke-width="1.2" />
<circle cx="172.9" cy="422.6" r="2.6" fill="none" stroke="#28e828" stroke-width="1.2" />
<circle cx="173.0" cy="425.0" r="2.6" fill="none" stroke="#28e828" stroke-width="1.2" />
<line x1="62.10" y1="386.50" x2="85.50" y2="386.50" stroke="#555555" stroke-width="1" />
<circle cx="73.8" cy="386.5" r="1.9" fill="#fff" stroke="#555555" stroke-width="1.0" />
<text transform="translate(90.00,390.00) scale(0.9018,1)" fill="#000" ><tspan font-size="14.00" font-weight="bold">0~5</tspan></text>
<line x1="62.10" y1="405.30" x2="85.50" y2="405.30" stroke="#c05858" stroke-width="1" />
<circle cx="73.8" cy="405.3" r="1.9" fill="#fff" stroke="#c05858" stroke-width="1.0" />
<text transform="translate(90.00,408.80) scale(0.9018,1)" fill="#000" ><tspan font-size="14.00" font-weight="bold">5~0</tspan></text>
<line x1="62.10" y1="424.60" x2="85.50" y2="424.60" stroke="#4848a8" stroke-width="1" />
<circle cx="73.8" cy="424.6" r="1.9" fill="#fff" stroke="#4848a8" stroke-width="1.0" />
<text transform="translate(90.00,428.10) scale(0.9018,1)" fill="#000" ><tspan font-size="14.00" font-weight="bold">0~-5</tspan></text>
<line x1="62.10" y1="443.40" x2="85.50" y2="443.40" stroke="#60c860" stroke-width="1" />
<circle cx="73.8" cy="443.4" r="1.9" fill="#fff" stroke="#60c860" stroke-width="1.0" />
<text transform="translate(90.00,446.90) scale(0.9018,1)" fill="#000" ><tspan font-size="14.00" font-weight="bold">-5~0</tspan></text>
<text transform="translate(81.40,302.90) scale(0.9792,1)" fill="#1a1a1a" ><tspan font-size="14.50" font-weight="normal" font-style="italic">V</tspan><tspan font-size="11.31" font-weight="normal" font-style="italic" dy="4.80">reset</tspan><tspan font-size="14.50" font-weight="normal" dy="-4.80"> : -1.70 V</tspan></text>
<line x1="132.20" y1="319.70" x2="137.09" y2="341.22" stroke="#000" stroke-width="1.3" />
<polygon points="138.2,346.1 134.1,340.4 139.4,339.2" fill="#000"/>
<text transform="translate(205.00,318.70) scale(1.0873,1)" fill="#d81020" ><tspan font-size="14.00" font-weight="bold">C.C. : 10</tspan><tspan font-size="9.52" font-weight="bold" dy="-5.80">-5</tspan><tspan font-size="14.00" font-weight="bold" dy="5.80"> A</tspan></text>
<text transform="translate(205.50,351.10) scale(0.9794,1)" fill="#1a1a1a" ><tspan font-size="14.50" font-weight="normal" font-style="italic">V</tspan><tspan font-size="11.31" font-weight="normal" font-style="italic" dy="4.80">set</tspan><tspan font-size="14.50" font-weight="normal" dy="-4.80"> : 0.95 V</tspan></text>
<text transform="translate(224.30,375.00) scale(0.9818,1)" fill="#1a1a1a" ><tspan font-size="14.50" font-weight="normal" font-style="italic">V</tspan><tspan font-size="11.31" font-weight="normal" font-style="italic" dy="4.80">forming</tspan></text>
<text transform="translate(222.00,400.30) scale(1.0095,1)" fill="#1a1a1a" ><tspan font-size="14.50" font-weight="normal">: 1.00 V</tspan></text>
<line x1="212.40" y1="365.60" x2="199.31" y2="373.27" stroke="#000" stroke-width="1.3" />
<polygon points="195.0,375.8 199.2,370.2 202.0,374.8" fill="#000"/>
<text transform="translate(194.00,422.00) scale(0.9881,1)" fill="#2c2c88" ><tspan font-size="14.00" font-weight="bold" font-style="italic">I</tspan><tspan font-size="11.48" font-weight="bold" font-style="italic" dy="3.20">on</tspan><tspan font-size="14.00" font-weight="bold" font-style="italic" dy="-3.20">/I</tspan><tspan font-size="11.48" font-weight="bold" font-style="italic" dy="3.20">off</tspan><tspan font-size="14.00" font-weight="bold" dy="-3.20"> ratio:</tspan></text>
<text transform="translate(184.60,450.00) scale(1.1022,1)" fill="#2c2c88" stroke="#2c2c88" stroke-width="0.55"><tspan font-size="14.00" font-weight="normal">9X10</tspan><tspan font-size="8.68" font-weight="normal" dy="-6.20">3</tspan><tspan font-size="14.00" font-weight="normal" dy="6.20"> @ 0.1 V</tspan></text>
<rect x="358.5" y="266.5" width="238.00" height="188.00" fill="none" stroke="#333333" stroke-width="1.1"/>
<text transform="translate(353.05,469.70) scale(0.9,1)" font-size="13.6" font-weight="bold" fill="#000">-6</text>
<line x1="378.33" y1="454.50" x2="378.33" y2="452.50" stroke="#333333" stroke-width="1" />
<line x1="378.33" y1="266.50" x2="378.33" y2="269.00" stroke="#333333" stroke-width="1" />
<line x1="398.17" y1="454.50" x2="398.17" y2="451.30" stroke="#333333" stroke-width="1" />
<line x1="398.17" y1="266.50" x2="398.17" y2="269.00" stroke="#333333" stroke-width="1" />
<text transform="translate(392.72,469.70) scale(0.9,1)" font-size="13.6" font-weight="bold" fill="#000">-4</text>
<line x1="418.00" y1="454.50" x2="418.00" y2="452.50" stroke="#333333" stroke-width="1" />
<line x1="418.00" y1="266.50" x2="418.00" y2="269.00" stroke="#333333" stroke-width="1" />
<line x1="437.83" y1="454.50" x2="437.83" y2="451.30" stroke="#333333" stroke-width="1" />
<line x1="437.83" y1="266.50" x2="437.83" y2="269.00" stroke="#333333" stroke-width="1" />
<text transform="translate(432.39,469.70) scale(0.9,1)" font-size="13.6" font-weight="bold" fill="#000">-2</text>
<line x1="457.67" y1="454.50" x2="457.67" y2="452.50" stroke="#333333" stroke-width="1" />
<line x1="457.67" y1="266.50" x2="457.67" y2="269.00" stroke="#333333" stroke-width="1" />
<line x1="477.50" y1="454.50" x2="477.50" y2="451.30" stroke="#333333" stroke-width="1" />
<line x1="477.50" y1="266.50" x2="477.50" y2="269.00" stroke="#333333" stroke-width="1" />
<text transform="translate(474.10,469.70) scale(0.9,1)" font-size="13.6" font-weight="bold" fill="#000">0</text>
<line x1="497.33" y1="454.50" x2="497.33" y2="452.50" stroke="#333333" stroke-width="1" />
<line x1="497.33" y1="266.50" x2="497.33" y2="269.00" stroke="#333333" stroke-width="1" />
<line x1="517.17" y1="454.50" x2="517.17" y2="451.30" stroke="#333333" stroke-width="1" />
<line x1="517.17" y1="266.50" x2="517.17" y2="269.00" stroke="#333333" stroke-width="1" />
<text transform="translate(513.77,469.70) scale(0.9,1)" font-size="13.6" font-weight="bold" fill="#000">2</text>
<line x1="537.00" y1="454.50" x2="537.00" y2="452.50" stroke="#333333" stroke-width="1" />
<line x1="537.00" y1="266.50" x2="537.00" y2="269.00" stroke="#333333" stroke-width="1" />
<line x1="556.83" y1="454.50" x2="556.83" y2="451.30" stroke="#333333" stroke-width="1" />
<line x1="556.83" y1="266.50" x2="556.83" y2="269.00" stroke="#333333" stroke-width="1" />
<text transform="translate(553.44,469.70) scale(0.9,1)" font-size="13.6" font-weight="bold" fill="#000">4</text>
<line x1="576.67" y1="454.50" x2="576.67" y2="452.50" stroke="#333333" stroke-width="1" />
<line x1="576.67" y1="266.50" x2="576.67" y2="269.00" stroke="#333333" stroke-width="1" />
<text transform="translate(593.10,469.70) scale(0.9,1)" font-size="13.6" font-weight="bold" fill="#000">6</text>
<text transform="translate(328.82,459.90) scale(0.96,1)" font-size="13.6" font-weight="bold" fill="#000"><tspan>10</tspan><tspan font-size="7.34" dy="-7.2">-12</tspan></text>
<line x1="358.50" y1="437.41" x2="361.50" y2="437.41" stroke="#333333" stroke-width="1" />
<text transform="translate(328.82,442.81) scale(0.96,1)" font-size="13.6" font-weight="bold" fill="#000"><tspan>10</tspan><tspan font-size="7.34" dy="-7.2">-11</tspan></text>
<line x1="358.50" y1="420.32" x2="361.50" y2="420.32" stroke="#333333" stroke-width="1" />
<text transform="translate(328.82,425.72) scale(0.96,1)" font-size="13.6" font-weight="bold" fill="#000"><tspan>10</tspan><tspan font-size="7.34" dy="-7.2">-10</tspan></text>
<line x1="358.50" y1="403.23" x2="361.50" y2="403.23" stroke="#333333" stroke-width="1" />
<text transform="translate(332.73,408.63) scale(0.96,1)" font-size="13.6" font-weight="bold" fill="#000"><tspan>10</tspan><tspan font-size="7.34" dy="-7.2">-9</tspan></text>
<line x1="358.50" y1="386.14" x2="361.50" y2="386.14" stroke="#333333" stroke-width="1" />
<text transform="translate(332.73,391.54) scale(0.96,1)" font-size="13.6" font-weight="bold" fill="#000"><tspan>10</tspan><tspan font-size="7.34" dy="-7.2">-8</tspan></text>
<line x1="358.50" y1="369.05" x2="361.50" y2="369.05" stroke="#333333" stroke-width="1" />
<text transform="translate(332.73,374.45) scale(0.96,1)" font-size="13.6" font-weight="bold" fill="#000"><tspan>10</tspan><tspan font-size="7.34" dy="-7.2">-7</tspan></text>
<line x1="358.50" y1="351.95" x2="361.50" y2="351.95" stroke="#333333" stroke-width="1" />
<text transform="translate(332.73,357.35) scale(0.96,1)" font-size="13.6" font-weight="bold" fill="#000"><tspan>10</tspan><tspan font-size="7.34" dy="-7.2">-6</tspan></text>
<line x1="358.50" y1="334.86" x2="361.50" y2="334.86" stroke="#333333" stroke-width="1" />
<text transform="translate(332.73,340.26) scale(0.96,1)" font-size="13.6" font-weight="bold" fill="#000"><tspan>10</tspan><tspan font-size="7.34" dy="-7.2">-5</tspan></text>
<line x1="358.50" y1="317.77" x2="361.50" y2="317.77" stroke="#333333" stroke-width="1" />
<text transform="translate(332.73,323.17) scale(0.96,1)" font-size="13.6" font-weight="bold" fill="#000"><tspan>10</tspan><tspan font-size="7.34" dy="-7.2">-4</tspan></text>
<line x1="358.50" y1="300.68" x2="361.50" y2="300.68" stroke="#333333" stroke-width="1" />
<text transform="translate(332.73,306.08) scale(0.96,1)" font-size="13.6" font-weight="bold" fill="#000"><tspan>10</tspan><tspan font-size="7.34" dy="-7.2">-3</tspan></text>
<line x1="358.50" y1="283.59" x2="361.50" y2="283.59" stroke="#333333" stroke-width="1" />
<text transform="translate(332.73,288.99) scale(0.96,1)" font-size="13.6" font-weight="bold" fill="#000"><tspan>10</tspan><tspan font-size="7.34" dy="-7.2">-2</tspan></text>
<text transform="translate(332.73,271.90) scale(0.96,1)" font-size="13.6" font-weight="bold" fill="#000"><tspan>10</tspan><tspan font-size="7.34" dy="-7.2">-1</tspan></text>
<text transform="translate(439.90,487.40) scale(0.9886,1)" fill="#000" ><tspan font-size="14.50" font-weight="bold">Voltage [V]</tspan></text>
<text transform="translate(320.80,361.20) rotate(-90) scale(0.9526,1) translate(-44.09,0)" fill="#000"><tspan font-size="16.70" font-weight="bold">Current [A]</tspan></text>
<polyline points="480.0,423.0 482.0,420.0 485.7,416.2 486.3,366.1 487.3,354.8 488.5,340.0 489.0,335.0" fill="none" stroke="#333333" stroke-width="1" stroke-linejoin="round" />
<circle cx="480.0" cy="423.0" r="2.2" fill="#fff" stroke="#1a1a1a" stroke-width="1.2" />
<circle cx="482.3" cy="420.0" r="2.2" fill="#fff" stroke="#1a1a1a" stroke-width="1.2" />
<circle cx="485.7" cy="416.2" r="2.2" fill="#fff" stroke="#1a1a1a" stroke-width="1.2" />
<circle cx="486.3" cy="366.1" r="2.2" fill="#fff" stroke="#1a1a1a" stroke-width="1.2" />
<circle cx="487.3" cy="354.8" r="2.2" fill="#fff" stroke="#1a1a1a" stroke-width="1.2" />
<circle cx="488.5" cy="340.0" r="2.2" fill="#fff" stroke="#1a1a1a" stroke-width="1.2" />
<polyline points="489.0,335.0 489.5,331.0 491.0,327.0 493.5,323.0 496.0,319.5 499.0,316.0 501.5,313.0 503.5,310.0" fill="none" stroke="#333333" stroke-width="1" stroke-linejoin="round" />
<circle cx="489.1" cy="335.7" r="2.3" fill="none" stroke="#383838" stroke-width="1.0" />
<circle cx="489.3" cy="333.0" r="2.3" fill="none" stroke="#383838" stroke-width="1.0" />
<circle cx="489.4" cy="331.7" r="2.3" fill="none" stroke="#383838" stroke-width="1.0" />
<circle cx="489.9" cy="328.2" r="2.3" fill="none" stroke="#383838" stroke-width="1.0" />
<circle cx="491.4" cy="327.7" r="2.3" fill="none" stroke="#383838" stroke-width="1.0" />
<circle cx="492.7" cy="325.2" r="2.3" fill="none" stroke="#383838" stroke-width="1.0" />
<circle cx="494.0" cy="322.6" r="2.3" fill="none" stroke="#383838" stroke-width="1.0" />
<circle cx="494.9" cy="320.5" r="2.3" fill="none" stroke="#383838" stroke-width="1.0" />
<circle cx="495.3" cy="319.4" r="2.3" fill="none" stroke="#383838" stroke-width="1.0" />
<circle cx="497.5" cy="317.6" r="2.3" fill="none" stroke="#383838" stroke-width="1.0" />
<circle cx="498.2" cy="316.4" r="2.3" fill="none" stroke="#383838" stroke-width="1.0" />
<circle cx="500.3" cy="314.0" r="2.3" fill="none" stroke="#383838" stroke-width="1.0" />
<circle cx="501.2" cy="312.8" r="2.3" fill="none" stroke="#383838" stroke-width="1.0" />
<circle cx="503.0" cy="309.2" r="2.3" fill="none" stroke="#383838" stroke-width="1.0" />
<polyline points="503.5,310.0 503.8,301.0" fill="none" stroke="#333333" stroke-width="1" stroke-linejoin="round" />
<polyline points="478.3,366.0 478.3,313.0" fill="none" stroke="#e03030" stroke-width="1" stroke-linejoin="round" />
<circle cx="478.0" cy="313.2" r="2.4" fill="none" stroke="#f01010" stroke-width="1.2" />
<circle cx="478.3" cy="311.5" r="2.4" fill="none" stroke="#f01010" stroke-width="1.2" />
<circle cx="478.6" cy="309.8" r="2.4" fill="none" stroke="#f01010" stroke-width="1.2" />
<circle cx="478.9" cy="308.1" r="2.4" fill="none" stroke="#f01010" stroke-width="1.2" />
<circle cx="480.0" cy="306.2" r="2.4" fill="none" stroke="#f01010" stroke-width="1.2" />
<circle cx="480.8" cy="304.1" r="2.4" fill="none" stroke="#f01010" stroke-width="1.2" />
<circle cx="482.1" cy="302.5" r="2.4" fill="none" stroke="#f01010" stroke-width="1.2" />
<circle cx="483.7" cy="300.8" r="2.4" fill="none" stroke="#f01010" stroke-width="1.2" />
<circle cx="484.6" cy="300.2" r="2.4" fill="none" stroke="#f01010" stroke-width="1.2" />
<circle cx="485.9" cy="299.4" r="2.4" fill="none" stroke="#f01010" stroke-width="1.2" />
<rect x="484.0" y="297.3" width="95.0" height="5.0" rx="2.5" fill="#f01818" stroke="#b80000" stroke-width="0.9"/>
<circle cx="486.0" cy="299.8" r="0.85" fill="#ffc8c8"/>
<circle cx="488.4" cy="299.8" r="0.85" fill="#ffc8c8"/>
<circle cx="490.8" cy="299.8" r="0.85" fill="#ffc8c8"/>
<circle cx="493.2" cy="299.8" r="0.85" fill="#ffc8c8"/>
<circle cx="495.6" cy="299.8" r="0.85" fill="#ffc8c8"/>
<circle cx="498.0" cy="299.8" r="0.85" fill="#ffc8c8"/>
<circle cx="500.4" cy="299.8" r="0.85" fill="#ffc8c8"/>
<circle cx="502.8" cy="299.8" r="0.85" fill="#ffc8c8"/>
<circle cx="505.2" cy="299.8" r="0.85" fill="#ffc8c8"/>
<circle cx="507.6" cy="299.8" r="0.85" fill="#ffc8c8"/>
<circle cx="510.0" cy="299.8" r="0.85" fill="#ffc8c8"/>
<circle cx="512.4" cy="299.8" r="0.85" fill="#ffc8c8"/>
<circle cx="514.8" cy="299.8" r="0.85" fill="#ffc8c8"/>
<circle cx="517.2" cy="299.8" r="0.85" fill="#ffc8c8"/>
<circle cx="519.6" cy="299.8" r="0.85" fill="#ffc8c8"/>
<circle cx="522.0" cy="299.8" r="0.85" fill="#ffc8c8"/>
<circle cx="524.4" cy="299.8" r="0.85" fill="#ffc8c8"/>
<circle cx="526.8" cy="299.8" r="0.85" fill="#ffc8c8"/>
<circle cx="529.2" cy="299.8" r="0.85" fill="#ffc8c8"/>
<circle cx="531.6" cy="299.8" r="0.85" fill="#ffc8c8"/>
<circle cx="534.0" cy="299.8" r="0.85" fill="#ffc8c8"/>
<circle cx="536.4" cy="299.8" r="0.85" fill="#ffc8c8"/>
<circle cx="538.8" cy="299.8" r="0.85" fill="#ffc8c8"/>
<circle cx="541.2" cy="299.8" r="0.85" fill="#ffc8c8"/>
<circle cx="543.6" cy="299.8" r="0.85" fill="#ffc8c8"/>
<circle cx="546.0" cy="299.8" r="0.85" fill="#ffc8c8"/>
<circle cx="548.4" cy="299.8" r="0.85" fill="#ffc8c8"/>
<circle cx="550.8" cy="299.8" r="0.85" fill="#ffc8c8"/>
<circle cx="553.2" cy="299.8" r="0.85" fill="#ffc8c8"/>
<circle cx="555.6" cy="299.8" r="0.85" fill="#ffc8c8"/>
<circle cx="558.0" cy="299.8" r="0.85" fill="#ffc8c8"/>
<circle cx="560.4" cy="299.8" r="0.85" fill="#ffc8c8"/>
<circle cx="562.8" cy="299.8" r="0.85" fill="#ffc8c8"/>
<circle cx="565.2" cy="299.8" r="0.85" fill="#ffc8c8"/>
<circle cx="567.6" cy="299.8" r="0.85" fill="#ffc8c8"/>
<circle cx="570.0" cy="299.8" r="0.85" fill="#ffc8c8"/>
<circle cx="572.4" cy="299.8" r="0.85" fill="#ffc8c8"/>
<circle cx="574.8" cy="299.8" r="0.85" fill="#ffc8c8"/>
<polyline points="477.4,368.0 477.2,316.5" fill="none" stroke="#4040c8" stroke-width="1" stroke-linejoin="round" />
<circle cx="477.4" cy="368.0" r="2.4" fill="#fff" stroke="#1c1cc8" stroke-width="1.2" />
<circle cx="477.1" cy="316.3" r="2.4" fill="#fff" stroke="#1c1cc8" stroke-width="1.2" />
<circle cx="476.6" cy="314.0" r="2.4" fill="#fff" stroke="#1c1cc8" stroke-width="1.2" />
<circle cx="476.3" cy="311.8" r="2.4" fill="#fff" stroke="#1c1cc8" stroke-width="1.2" />
<circle cx="475.1" cy="309.2" r="2.4" fill="#fff" stroke="#1c1cc8" stroke-width="1.2" />
<circle cx="473.9" cy="306.0" r="2.4" fill="#fff" stroke="#1c1cc8" stroke-width="1.2" />
<circle cx="472.2" cy="303.7" r="2.4" fill="#fff" stroke="#1c1cc8" stroke-width="1.2" />
<circle cx="470.0" cy="300.9" r="2.4" fill="#fff" stroke="#1c1cc8" stroke-width="1.2" />
<circle cx="468.8" cy="299.8" r="2.4" fill="#fff" stroke="#1c1cc8" stroke-width="1.2" />
<circle cx="468.0" cy="298.2" r="2.4" fill="#fff" stroke="#1c1cc8" stroke-width="1.2" />
<polyline points="467.8,298.3 468.0,319.0 467.0,317.5 465.0,316.5 462.0,316.0 459.0,318.5 458.0,323.0 456.0,327.0 451.4,329.3 455.0,333.0 453.0,336.0 452.0,341.0 451.0,345.0 448.5,348.0 445.5,346.5 443.0,344.0 440.7,346.5 440.0,360.0 438.5,358.5 437.5,345.0 437.1,319.4 437.0,355.0 432.5,350.0 428.1,349.7 425.0,352.0 420.0,358.0 414.6,353.3 410.0,358.0 405.0,359.0 400.0,362.0 396.0,371.5 392.0,368.0 388.7,367.9 385.0,364.0 382.0,362.0 379.0,358.0" fill="none" stroke="#4040c8" stroke-width="1" stroke-linejoin="round" />
<circle cx="468.0" cy="319.0" r="2.3" fill="#fff" stroke="#1c1cc8" stroke-width="1.2" />
<circle cx="467.0" cy="317.5" r="2.3" fill="#fff" stroke="#1c1cc8" stroke-width="1.2" />
<circle cx="465.0" cy="316.5" r="2.3" fill="#fff" stroke="#1c1cc8" stroke-width="1.2" />
<circle cx="462.0" cy="316.0" r="2.3" fill="#fff" stroke="#1c1cc8" stroke-width="1.2" />
<circle cx="459.0" cy="318.5" r="2.3" fill="#fff" stroke="#1c1cc8" stroke-width="1.2" />
<circle cx="458.0" cy="323.0" r="2.3" fill="#fff" stroke="#1c1cc8" stroke-width="1.2" />
<circle cx="456.0" cy="327.0" r="2.3" fill="#fff" stroke="#1c1cc8" stroke-width="1.2" />
<circle cx="451.4" cy="329.3" r="2.3" fill="#fff" stroke="#1c1cc8" stroke-width="1.2" />
<circle cx="455.0" cy="333.0" r="2.3" fill="#fff" stroke="#1c1cc8" stroke-width="1.2" />
<circle cx="453.0" cy="336.0" r="2.3" fill="#fff" stroke="#1c1cc8" stroke-width="1.2" />
<circle cx="452.0" cy="341.0" r="2.3" fill="#fff" stroke="#1c1cc8" stroke-width="1.2" />
<circle cx="451.0" cy="345.0" r="2.3" fill="#fff" stroke="#1c1cc8" stroke-width="1.2" />
<circle cx="448.5" cy="348.0" r="2.3" fill="#fff" stroke="#1c1cc8" stroke-width="1.2" />
<circle cx="445.5" cy="346.5" r="2.3" fill="#fff" stroke="#1c1cc8" stroke-width="1.2" />
<circle cx="443.0" cy="344.0" r="2.3" fill="#fff" stroke="#1c1cc8" stroke-width="1.2" />
<circle cx="440.7" cy="346.5" r="2.3" fill="#fff" stroke="#1c1cc8" stroke-width="1.2" />
<circle cx="440.0" cy="360.0" r="2.3" fill="#fff" stroke="#1c1cc8" stroke-width="1.2" />
<circle cx="438.5" cy="358.5" r="2.3" fill="#fff" stroke="#1c1cc8" stroke-width="1.2" />
<circle cx="437.5" cy="345.0" r="2.3" fill="#fff" stroke="#1c1cc8" stroke-width="1.2" />
<circle cx="437.1" cy="319.4" r="2.3" fill="#fff" stroke="#1c1cc8" stroke-width="1.2" />
<circle cx="437.0" cy="355.0" r="2.3" fill="#fff" stroke="#1c1cc8" stroke-width="1.2" />
<circle cx="432.5" cy="350.0" r="2.3" fill="#fff" stroke="#1c1cc8" stroke-width="1.2" />
<circle cx="428.1" cy="349.7" r="2.3" fill="#fff" stroke="#1c1cc8" stroke-width="1.2" />
<circle cx="425.0" cy="352.0" r="2.3" fill="#fff" stroke="#1c1cc8" stroke-width="1.2" />
<circle cx="420.0" cy="358.0" r="2.3" fill="#fff" stroke="#1c1cc8" stroke-width="1.2" />
<circle cx="414.6" cy="353.3" r="2.3" fill="#fff" stroke="#1c1cc8" stroke-width="1.2" />
<circle cx="410.0" cy="358.0" r="2.3" fill="#fff" stroke="#1c1cc8" stroke-width="1.2" />
<circle cx="405.0" cy="359.0" r="2.3" fill="#fff" stroke="#1c1cc8" stroke-width="1.2" />
<circle cx="400.0" cy="362.0" r="2.3" fill="#fff" stroke="#1c1cc8" stroke-width="1.2" />
<circle cx="396.0" cy="371.5" r="2.3" fill="#fff" stroke="#1c1cc8" stroke-width="1.2" />
<circle cx="392.0" cy="368.0" r="2.3" fill="#fff" stroke="#1c1cc8" stroke-width="1.2" />
<circle cx="388.7" cy="367.9" r="2.3" fill="#fff" stroke="#1c1cc8" stroke-width="1.2" />
<circle cx="385.0" cy="364.0" r="2.3" fill="#fff" stroke="#1c1cc8" stroke-width="1.2" />
<circle cx="382.0" cy="362.0" r="2.3" fill="#fff" stroke="#1c1cc8" stroke-width="1.2" />
<circle cx="379.0" cy="358.0" r="2.3" fill="#fff" stroke="#1c1cc8" stroke-width="1.2" />
<circle cx="400.8" cy="365.6" r="2.3" fill="none" stroke="#1c1cc8" stroke-width="1.2" />
<circle cx="402.4" cy="366.2" r="2.3" fill="none" stroke="#1c1cc8" stroke-width="1.2" />
<circle cx="405.9" cy="369.2" r="2.3" fill="none" stroke="#1c1cc8" stroke-width="1.2" />
<circle cx="406.8" cy="367.3" r="2.3" fill="none" stroke="#1c1cc8" stroke-width="1.2" />
<circle cx="409.3" cy="366.9" r="2.3" fill="none" stroke="#1c1cc8" stroke-width="1.2" />
<circle cx="410.9" cy="363.1" r="2.3" fill="none" stroke="#1c1cc8" stroke-width="1.2" />
<circle cx="414.5" cy="361.6" r="2.3" fill="none" stroke="#1c1cc8" stroke-width="1.2" />
<circle cx="417.0" cy="360.9" r="2.3" fill="none" stroke="#1c1cc8" stroke-width="1.2" />
<circle cx="419.0" cy="361.1" r="2.3" fill="none" stroke="#1c1cc8" stroke-width="1.2" />
<circle cx="421.5" cy="365.1" r="2.3" fill="none" stroke="#1c1cc8" stroke-width="1.2" />
<circle cx="422.5" cy="361.0" r="2.3" fill="none" stroke="#1c1cc8" stroke-width="1.2" />
<circle cx="423.7" cy="359.5" r="2.3" fill="none" stroke="#1c1cc8" stroke-width="1.2" />
<circle cx="426.5" cy="357.3" r="2.3" fill="none" stroke="#1c1cc8" stroke-width="1.2" />
<circle cx="427.7" cy="355.9" r="2.3" fill="none" stroke="#1c1cc8" stroke-width="1.2" />
<circle cx="431.4" cy="355.7" r="2.3" fill="none" stroke="#1c1cc8" stroke-width="1.2" />
<circle cx="433.7" cy="353.4" r="2.3" fill="none" stroke="#1c1cc8" stroke-width="1.2" />
<polyline points="377.0,352.0 380.0,356.0 384.0,360.0 390.0,363.0 396.0,365.0 402.0,364.5 408.0,363.0 413.0,361.0 418.0,359.0 423.0,358.0 427.0,360.5 431.0,366.0" fill="none" stroke="#50d850" stroke-width="1" stroke-linejoin="round" />
<circle cx="378.2" cy="352.3" r="2.9" fill="#fff" stroke="#3ee03e" stroke-width="1.0" />
<circle cx="377.7" cy="353.4" r="2.9" fill="#fff" stroke="#3ee03e" stroke-width="1.0" />
<circle cx="381.3" cy="356.5" r="2.9" fill="#fff" stroke="#3ee03e" stroke-width="1.0" />
<circle cx="380.7" cy="357.8" r="2.9" fill="#fff" stroke="#3ee03e" stroke-width="1.0" />
<circle cx="381.4" cy="360.1" r="2.9" fill="#fff" stroke="#3ee03e" stroke-width="1.0" />
<circle cx="383.8" cy="360.1" r="2.9" fill="#fff" stroke="#3ee03e" stroke-width="1.0" />
<circle cx="386.1" cy="359.6" r="2.9" fill="#fff" stroke="#3ee03e" stroke-width="1.0" />
<circle cx="388.3" cy="361.4" r="2.9" fill="#fff" stroke="#3ee03e" stroke-width="1.0" />
<circle cx="389.3" cy="363.9" r="2.9" fill="#fff" stroke="#3ee03e" stroke-width="1.0" />
<circle cx="390.8" cy="363.0" r="2.9" fill="#fff" stroke="#3ee03e" stroke-width="1.0" />
<circle cx="394.8" cy="363.6" r="2.9" fill="#fff" stroke="#3ee03e" stroke-width="1.0" />
<circle cx="395.3" cy="365.1" r="2.9" fill="#fff" stroke="#3ee03e" stroke-width="1.0" />
<circle cx="397.1" cy="366.0" r="2.9" fill="#fff" stroke="#3ee03e" stroke-width="1.0" />
<circle cx="401.5" cy="363.3" r="2.9" fill="#fff" stroke="#3ee03e" stroke-width="1.0" />
<circle cx="401.9" cy="365.3" r="2.9" fill="#fff" stroke="#3ee03e" stroke-width="1.0" />
<circle cx="403.7" cy="365.3" r="2.9" fill="#fff" stroke="#3ee03e" stroke-width="1.0" />
<circle cx="406.0" cy="362.5" r="2.9" fill="#fff" stroke="#3ee03e" stroke-width="1.0" />
<circle cx="408.2" cy="363.4" r="2.9" fill="#fff" stroke="#3ee03e" stroke-width="1.0" />
<circle cx="409.2" cy="362.8" r="2.9" fill="#fff" stroke="#3ee03e" stroke-width="1.0" />
<circle cx="412.2" cy="361.7" r="2.9" fill="#fff" stroke="#3ee03e" stroke-width="1.0" />
<circle cx="413.0" cy="362.0" r="2.9" fill="#fff" stroke="#3ee03e" stroke-width="1.0" />
<circle cx="415.2" cy="360.4" r="2.9" fill="#fff" stroke="#3ee03e" stroke-width="1.0" />
<circle cx="417.7" cy="358.7" r="2.9" fill="#fff" stroke="#3ee03e" stroke-width="1.0" />
<circle cx="418.8" cy="358.0" r="2.9" fill="#fff" stroke="#3ee03e" stroke-width="1.0" />
<circle cx="420.0" cy="357.9" r="2.9" fill="#fff" stroke="#3ee03e" stroke-width="1.0" />
<circle cx="421.2" cy="359.2" r="2.9" fill="#fff" stroke="#3ee03e" stroke-width="1.0" />
<circle cx="423.9" cy="358.9" r="2.9" fill="#fff" stroke="#3ee03e" stroke-width="1.0" />
<circle cx="424.2" cy="359.2" r="2.9" fill="#fff" stroke="#3ee03e" stroke-width="1.0" />
<circle cx="426.2" cy="360.7" r="2.9" fill="#fff" stroke="#3ee03e" stroke-width="1.0" />
<circle cx="428.3" cy="360.9" r="2.9" fill="#fff" stroke="#3ee03e" stroke-width="1.0" />
<circle cx="430.0" cy="364.8" r="2.9" fill="#fff" stroke="#3ee03e" stroke-width="1.0" />
<circle cx="431.2" cy="367.1" r="2.9" fill="#fff" stroke="#3ee03e" stroke-width="1.0" />
<polyline points="431.0,366.0 435.7,372.0 442.2,382.5 448.8,389.4 455.3,396.0 461.9,403.0 466.2,413.4 469.5,422.0" fill="none" stroke="#50d850" stroke-width="1" stroke-linejoin="round" />
<circle cx="430.4" cy="365.4" r="2.8" fill="#fff" stroke="#3ee03e" stroke-width="1.0" />
<circle cx="431.3" cy="367.5" r="2.8" fill="#fff" stroke="#3ee03e" stroke-width="1.0" />
<circle cx="433.2" cy="368.9" r="2.8" fill="#fff" stroke="#3ee03e" stroke-width="1.0" />
<circle cx="434.1" cy="371.0" r="2.8" fill="#fff" stroke="#3ee03e" stroke-width="1.0" />
<circle cx="434.9" cy="372.7" r="2.8" fill="#fff" stroke="#3ee03e" stroke-width="1.0" />
<circle cx="436.9" cy="373.8" r="2.8" fill="#fff" stroke="#3ee03e" stroke-width="1.0" />
<circle cx="438.4" cy="375.0" r="2.8" fill="#fff" stroke="#3ee03e" stroke-width="1.0" />
<circle cx="438.3" cy="376.9" r="2.8" fill="#fff" stroke="#3ee03e" stroke-width="1.0" />
<circle cx="439.2" cy="378.7" r="2.8" fill="#fff" stroke="#3ee03e" stroke-width="1.0" />
<circle cx="441.3" cy="380.8" r="2.8" fill="#fff" stroke="#3ee03e" stroke-width="1.0" />
<circle cx="441.8" cy="382.7" r="2.8" fill="#fff" stroke="#3ee03e" stroke-width="1.0" />
<circle cx="442.8" cy="384.5" r="2.8" fill="#fff" stroke="#3ee03e" stroke-width="1.0" />
<circle cx="444.2" cy="384.8" r="2.8" fill="#fff" stroke="#3ee03e" stroke-width="1.0" />
<circle cx="445.5" cy="387.0" r="2.8" fill="#fff" stroke="#3ee03e" stroke-width="1.0" />
<circle cx="448.1" cy="388.5" r="2.8" fill="#fff" stroke="#3ee03e" stroke-width="1.0" />
<circle cx="448.0" cy="389.2" r="2.8" fill="#fff" stroke="#3ee03e" stroke-width="1.0" />
<circle cx="449.9" cy="390.2" r="2.8" fill="#fff" stroke="#3ee03e" stroke-width="1.0" />
<circle cx="452.2" cy="391.2" r="2.8" fill="#fff" stroke="#3ee03e" stroke-width="1.0" />
<circle cx="452.7" cy="393.8" r="2.8" fill="#fff" stroke="#3ee03e" stroke-width="1.0" />
<circle cx="454.9" cy="394.0" r="2.8" fill="#fff" stroke="#3ee03e" stroke-width="1.0" />
<circle cx="455.2" cy="396.4" r="2.8" fill="#fff" stroke="#3ee03e" stroke-width="1.0" />
<circle cx="455.8" cy="396.9" r="2.8" fill="#fff" stroke="#3ee03e" stroke-width="1.0" />
<circle cx="458.6" cy="398.2" r="2.8" fill="#fff" stroke="#3ee03e" stroke-width="1.0" />
<circle cx="459.1" cy="399.8" r="2.8" fill="#fff" stroke="#3ee03e" stroke-width="1.0" />
<circle cx="460.4" cy="400.8" r="2.8" fill="#fff" stroke="#3ee03e" stroke-width="1.0" />
<circle cx="461.1" cy="403.9" r="2.8" fill="#fff" stroke="#3ee03e" stroke-width="1.0" />
<circle cx="463.1" cy="405.2" r="2.8" fill="#fff" stroke="#3ee03e" stroke-width="1.0" />
<circle cx="462.8" cy="406.0" r="2.8" fill="#fff" stroke="#3ee03e" stroke-width="1.0" />
<circle cx="464.1" cy="407.7" r="2.8" fill="#fff" stroke="#3ee03e" stroke-width="1.0" />
<circle cx="464.7" cy="410.7" r="2.8" fill="#fff" stroke="#3ee03e" stroke-width="1.0" />
<circle cx="465.2" cy="411.4" r="2.8" fill="#fff" stroke="#3ee03e" stroke-width="1.0" />
<circle cx="467.1" cy="413.6" r="2.8" fill="#fff" stroke="#3ee03e" stroke-width="1.0" />
<circle cx="466.0" cy="414.9" r="2.8" fill="#fff" stroke="#3ee03e" stroke-width="1.0" />
<circle cx="467.8" cy="416.0" r="2.8" fill="#fff" stroke="#3ee03e" stroke-width="1.0" />
<circle cx="467.9" cy="418.9" r="2.8" fill="#fff" stroke="#3ee03e" stroke-width="1.0" />
<circle cx="469.5" cy="420.4" r="2.8" fill="#fff" stroke="#3ee03e" stroke-width="1.0" />
<circle cx="470.2" cy="421.9" r="2.8" fill="#fff" stroke="#3ee03e" stroke-width="1.0" />
<circle cx="381.7" cy="366.1" r="2.9" fill="#fff" stroke="#3ee03e" stroke-width="1.0" />
<circle cx="384.3" cy="366.9" r="2.9" fill="#fff" stroke="#3ee03e" stroke-width="1.0" />
<circle cx="386.4" cy="366.5" r="2.9" fill="#fff" stroke="#3ee03e" stroke-width="1.0" />
<circle cx="389.0" cy="368.2" r="2.9" fill="#fff" stroke="#3ee03e" stroke-width="1.0" />
<circle cx="391.6" cy="367.1" r="2.9" fill="#fff" stroke="#3ee03e" stroke-width="1.0" />
<circle cx="394.4" cy="367.9" r="2.9" fill="#fff" stroke="#3ee03e" stroke-width="1.0" />
<circle cx="397.4" cy="367.8" r="2.9" fill="#fff" stroke="#3ee03e" stroke-width="1.0" />
<circle cx="402.2" cy="367.9" r="2.9" fill="#fff" stroke="#3ee03e" stroke-width="1.0" />
<circle cx="404.5" cy="365.7" r="2.9" fill="#fff" stroke="#3ee03e" stroke-width="1.0" />
<circle cx="405.6" cy="364.6" r="2.9" fill="#fff" stroke="#3ee03e" stroke-width="1.0" />
<circle cx="409.6" cy="366.1" r="2.9" fill="#fff" stroke="#3ee03e" stroke-width="1.0" />
<circle cx="411.3" cy="365.5" r="2.9" fill="#fff" stroke="#3ee03e" stroke-width="1.0" />
<circle cx="413.0" cy="367.9" r="2.9" fill="#fff" stroke="#3ee03e" stroke-width="1.0" />
<circle cx="415.7" cy="371.7" r="2.9" fill="#fff" stroke="#3ee03e" stroke-width="1.0" />
<circle cx="418.7" cy="371.3" r="2.9" fill="#fff" stroke="#3ee03e" stroke-width="1.0" />
<circle cx="419.6" cy="372.2" r="2.9" fill="#fff" stroke="#3ee03e" stroke-width="1.0" />
<circle cx="423.4" cy="374.2" r="2.9" fill="#fff" stroke="#3ee03e" stroke-width="1.0" />
<circle cx="424.9" cy="376.7" r="2.9" fill="#fff" stroke="#3ee03e" stroke-width="1.0" />
<circle cx="428.3" cy="375.5" r="2.9" fill="#fff" stroke="#3ee03e" stroke-width="1.0" />
<circle cx="429.4" cy="377.6" r="2.9" fill="#fff" stroke="#3ee03e" stroke-width="1.0" />
<circle cx="431.7" cy="378.2" r="2.9" fill="#fff" stroke="#3ee03e" stroke-width="1.0" />
<circle cx="435.4" cy="376.9" r="2.9" fill="#fff" stroke="#3ee03e" stroke-width="1.0" />
<polyline points="469.5,422.0 471.0,428.0 471.7,434.0 471.7,439.6" fill="none" stroke="#50d850" stroke-width="1" stroke-linejoin="round" />
<circle cx="469.5" cy="421.7" r="2.7" fill="#fff" stroke="#3ee03e" stroke-width="1.0" />
<circle cx="470.2" cy="424.8" r="2.7" fill="#fff" stroke="#3ee03e" stroke-width="1.0" />
<circle cx="470.7" cy="427.8" r="2.7" fill="#fff" stroke="#3ee03e" stroke-width="1.0" />
<circle cx="471.4" cy="430.7" r="2.7" fill="#fff" stroke="#3ee03e" stroke-width="1.0" />
<circle cx="471.6" cy="434.0" r="2.7" fill="#fff" stroke="#3ee03e" stroke-width="1.0" />
<circle cx="471.7" cy="436.6" r="2.7" fill="#fff" stroke="#3ee03e" stroke-width="1.0" />
<circle cx="471.8" cy="439.5" r="2.7" fill="#fff" stroke="#3ee03e" stroke-width="1.0" />
<polyline points="470.5,428.0 473.0,425.5 476.0,424.0 479.0,421.0" fill="none" stroke="#50d850" stroke-width="1" stroke-linejoin="round" />
<circle cx="470.6" cy="428.1" r="2.6" fill="#fff" stroke="#3ee03e" stroke-width="1.0" />
<circle cx="471.5" cy="426.6" r="2.6" fill="#fff" stroke="#3ee03e" stroke-width="1.0" />
<circle cx="472.9" cy="425.6" r="2.6" fill="#fff" stroke="#3ee03e" stroke-width="1.0" />
<circle cx="474.4" cy="424.7" r="2.6" fill="#fff" stroke="#3ee03e" stroke-width="1.0" />
<circle cx="476.2" cy="423.8" r="2.6" fill="#fff" stroke="#3ee03e" stroke-width="1.0" />
<circle cx="477.4" cy="422.4" r="2.6" fill="#fff" stroke="#3ee03e" stroke-width="1.0" />
<circle cx="478.8" cy="420.7" r="2.6" fill="#fff" stroke="#3ee03e" stroke-width="1.0" />
<circle cx="384.5" cy="366.5" r="2.3" fill="#fff" stroke="#1c1cc8" stroke-width="1.1" />
<circle cx="388.7" cy="368.5" r="2.3" fill="#fff" stroke="#1c1cc8" stroke-width="1.1" />
<circle cx="392.5" cy="370.5" r="2.3" fill="#fff" stroke="#1c1cc8" stroke-width="1.1" />
<circle cx="396.5" cy="371.5" r="2.3" fill="#fff" stroke="#1c1cc8" stroke-width="1.1" />
<circle cx="400.5" cy="368.5" r="2.3" fill="#fff" stroke="#1c1cc8" stroke-width="1.1" />
<circle cx="404.5" cy="369.5" r="2.3" fill="#fff" stroke="#1c1cc8" stroke-width="1.1" />
<circle cx="408.5" cy="367.0" r="2.3" fill="#fff" stroke="#1c1cc8" stroke-width="1.1" />
<circle cx="398.0" cy="359.0" r="2.3" fill="#fff" stroke="#1c1cc8" stroke-width="1.1" />
<circle cx="403.0" cy="358.5" r="2.3" fill="#fff" stroke="#1c1cc8" stroke-width="1.1" />
<circle cx="414.6" cy="353.3" r="2.3" fill="#fff" stroke="#1c1cc8" stroke-width="1.1" />
<circle cx="420.0" cy="357.5" r="2.3" fill="#fff" stroke="#1c1cc8" stroke-width="1.1" />
<line x1="365.10" y1="386.50" x2="389.10" y2="386.50" stroke="#555555" stroke-width="1" />
<circle cx="377.1" cy="386.5" r="1.9" fill="#fff" stroke="#555555" stroke-width="1.0" />
<text transform="translate(392.90,390.00) scale(0.9060,1)" fill="#000" ><tspan font-size="14.00" font-weight="bold">0~5</tspan></text>
<line x1="365.10" y1="406.10" x2="389.10" y2="406.10" stroke="#c05858" stroke-width="1" />
<circle cx="377.1" cy="406.1" r="1.9" fill="#fff" stroke="#c05858" stroke-width="1.0" />
<text transform="translate(392.90,409.60) scale(0.9060,1)" fill="#000" ><tspan font-size="14.00" font-weight="bold">5~0</tspan></text>
<line x1="365.10" y1="424.60" x2="389.10" y2="424.60" stroke="#4848a8" stroke-width="1" />
<circle cx="377.1" cy="424.6" r="1.9" fill="#fff" stroke="#4848a8" stroke-width="1.0" />
<text transform="translate(392.90,428.10) scale(0.9060,1)" fill="#000" ><tspan font-size="14.00" font-weight="bold">0~-5</tspan></text>
<line x1="365.10" y1="443.90" x2="389.10" y2="443.90" stroke="#60c860" stroke-width="1" />
<circle cx="377.1" cy="443.9" r="1.9" fill="#fff" stroke="#60c860" stroke-width="1.0" />
<text transform="translate(392.90,447.40) scale(0.9060,1)" fill="#000" ><tspan font-size="14.00" font-weight="bold">-5~0</tspan></text>
<text transform="translate(371.80,282.70) scale(0.9845,1)" fill="#1a1a1a" ><tspan font-size="14.50" font-weight="normal" font-style="italic">V</tspan><tspan font-size="11.31" font-weight="normal" font-style="italic" dy="4.80">reset</tspan><tspan font-size="14.50" font-weight="normal" dy="-4.80"> : -2.80 V</tspan></text>
<line x1="415.50" y1="291.60" x2="421.38" y2="348.33" stroke="#000" stroke-width="1.3" />
<polygon points="421.9,353.3 418.5,347.1 423.9,346.6" fill="#000"/>
<text transform="translate(492.40,285.80) scale(1.0975,1)" fill="#d81020" ><tspan font-size="14.00" font-weight="bold">C.C. : 10</tspan><tspan font-size="9.52" font-weight="bold" dy="-5.80">-3</tspan><tspan font-size="14.00" font-weight="bold" dy="5.80"> A</tspan></text>
<text transform="translate(506.60,343.30) scale(0.9806,1)" fill="#1a1a1a" ><tspan font-size="14.50" font-weight="normal" font-style="italic">V</tspan><tspan font-size="11.31" font-weight="normal" font-style="italic" dy="4.80">set</tspan><tspan font-size="14.50" font-weight="normal" dy="-4.80"> : 0.40 V</tspan></text>
<text transform="translate(516.30,364.80) scale(0.9987,1)" fill="#1a1a1a" ><tspan font-size="14.50" font-weight="normal" font-style="italic">V</tspan><tspan font-size="11.31" font-weight="normal" font-style="italic" dy="4.80">forming</tspan></text>
<text transform="translate(514.50,391.20) scale(1.0155,1)" fill="#1a1a1a" ><tspan font-size="14.50" font-weight="normal">: 0.40 V</tspan></text>
<line x1="504.40" y1="380.20" x2="489.47" y2="409.45" stroke="#000" stroke-width="1.3" />
<polygon points="487.2,413.9 487.8,406.9 492.6,409.3" fill="#000"/>
<text transform="translate(499.00,419.60) scale(0.9881,1)" fill="#2c2c88" ><tspan font-size="14.00" font-weight="bold" font-style="italic">I</tspan><tspan font-size="11.48" font-weight="bold" font-style="italic" dy="3.20">on</tspan><tspan font-size="14.00" font-weight="bold" font-style="italic" dy="-3.20">/I</tspan><tspan font-size="11.48" font-weight="bold" font-style="italic" dy="3.20">off</tspan><tspan font-size="14.00" font-weight="bold" dy="-3.20"> ratio:</tspan></text>
<text transform="translate(487.80,448.60) scale(1.0979,1)" fill="#2c2c88" stroke="#2c2c88" stroke-width="0.55"><tspan font-size="14.00" font-weight="normal">3X10</tspan><tspan font-size="8.68" font-weight="normal" dy="-6.20">6</tspan><tspan font-size="14.00" font-weight="normal" dy="6.20"> @ 0.1 V</tspan></text>
<rect x="56.5" y="504.5" width="238.00" height="188.30" fill="none" stroke="#333333" stroke-width="1.1"/>
<text transform="translate(51.05,708.00) scale(0.9,1)" font-size="13.6" font-weight="bold" fill="#000">-6</text>
<line x1="76.33" y1="692.80" x2="76.33" y2="690.80" stroke="#333333" stroke-width="1" />
<line x1="96.17" y1="692.80" x2="96.17" y2="689.60" stroke="#333333" stroke-width="1" />
<text transform="translate(90.72,708.00) scale(0.9,1)" font-size="13.6" font-weight="bold" fill="#000">-4</text>
<line x1="116.00" y1="692.80" x2="116.00" y2="690.80" stroke="#333333" stroke-width="1" />
<line x1="135.83" y1="692.80" x2="135.83" y2="689.60" stroke="#333333" stroke-width="1" />
<text transform="translate(130.39,708.00) scale(0.9,1)" font-size="13.6" font-weight="bold" fill="#000">-2</text>
<line x1="155.67" y1="692.80" x2="155.67" y2="690.80" stroke="#333333" stroke-width="1" />
<line x1="175.50" y1="692.80" x2="175.50" y2="689.60" stroke="#333333" stroke-width="1" />
<text transform="translate(172.10,708.00) scale(0.9,1)" font-size="13.6" font-weight="bold" fill="#000">0</text>
<line x1="195.33" y1="692.80" x2="195.33" y2="690.80" stroke="#333333" stroke-width="1" />
<line x1="215.17" y1="692.80" x2="215.17" y2="689.60" stroke="#333333" stroke-width="1" />
<text transform="translate(211.77,708.00) scale(0.9,1)" font-size="13.6" font-weight="bold" fill="#000">2</text>
<line x1="235.00" y1="692.80" x2="235.00" y2="690.80" stroke="#333333" stroke-width="1" />
<line x1="254.83" y1="692.80" x2="254.83" y2="689.60" stroke="#333333" stroke-width="1" />
<text transform="translate(251.44,708.00) scale(0.9,1)" font-size="13.6" font-weight="bold" fill="#000">4</text>
<line x1="274.67" y1="692.80" x2="274.67" y2="690.80" stroke="#333333" stroke-width="1" />
<text transform="translate(291.10,708.00) scale(0.9,1)" font-size="13.6" font-weight="bold" fill="#000">6</text>
<text transform="translate(26.82,698.20) scale(0.96,1)" font-size="13.6" font-weight="bold" fill="#000"><tspan>10</tspan><tspan font-size="7.34" dy="-7.2">-11</tspan></text>
<line x1="56.50" y1="673.97" x2="59.50" y2="673.97" stroke="#333333" stroke-width="1" />
<text transform="translate(26.82,679.37) scale(0.96,1)" font-size="13.6" font-weight="bold" fill="#000"><tspan>10</tspan><tspan font-size="7.34" dy="-7.2">-10</tspan></text>
<line x1="56.50" y1="655.14" x2="59.50" y2="655.14" stroke="#333333" stroke-width="1" />
<text transform="translate(30.73,660.54) scale(0.96,1)" font-size="13.6" font-weight="bold" fill="#000"><tspan>10</tspan><tspan font-size="7.34" dy="-7.2">-9</tspan></text>
<line x1="56.50" y1="636.31" x2="59.50" y2="636.31" stroke="#333333" stroke-width="1" />
<text transform="translate(30.73,641.71) scale(0.96,1)" font-size="13.6" font-weight="bold" fill="#000"><tspan>10</tspan><tspan font-size="7.34" dy="-7.2">-8</tspan></text>
<line x1="56.50" y1="617.48" x2="59.50" y2="617.48" stroke="#333333" stroke-width="1" />
<text transform="translate(30.73,622.88) scale(0.96,1)" font-size="13.6" font-weight="bold" fill="#000"><tspan>10</tspan><tspan font-size="7.34" dy="-7.2">-7</tspan></text>
<line x1="56.50" y1="598.65" x2="59.50" y2="598.65" stroke="#333333" stroke-width="1" />
<text transform="translate(30.73,604.05) scale(0.96,1)" font-size="13.6" font-weight="bold" fill="#000"><tspan>10</tspan><tspan font-size="7.34" dy="-7.2">-6</tspan></text>
<line x1="56.50" y1="579.82" x2="59.50" y2="579.82" stroke="#333333" stroke-width="1" />
<text transform="translate(30.73,585.22) scale(0.96,1)" font-size="13.6" font-weight="bold" fill="#000"><tspan>10</tspan><tspan font-size="7.34" dy="-7.2">-5</tspan></text>
<line x1="56.50" y1="560.99" x2="59.50" y2="560.99" stroke="#333333" stroke-width="1" />
<text transform="translate(30.73,566.39) scale(0.96,1)" font-size="13.6" font-weight="bold" fill="#000"><tspan>10</tspan><tspan font-size="7.34" dy="-7.2">-4</tspan></text>
<line x1="56.50" y1="542.16" x2="59.50" y2="542.16" stroke="#333333" stroke-width="1" />
<text transform="translate(30.73,547.56) scale(0.96,1)" font-size="13.6" font-weight="bold" fill="#000"><tspan>10</tspan><tspan font-size="7.34" dy="-7.2">-3</tspan></text>
<line x1="56.50" y1="523.33" x2="59.50" y2="523.33" stroke="#333333" stroke-width="1" />
<text transform="translate(30.73,528.73) scale(0.96,1)" font-size="13.6" font-weight="bold" fill="#000"><tspan>10</tspan><tspan font-size="7.34" dy="-7.2">-2</tspan></text>
<text transform="translate(30.73,509.90) scale(0.96,1)" font-size="13.6" font-weight="bold" fill="#000"><tspan>10</tspan><tspan font-size="7.34" dy="-7.2">-1</tspan></text>
<text transform="translate(137.20,725.50) scale(0.9886,1)" fill="#000" ><tspan font-size="14.50" font-weight="bold">Voltage [V]</tspan></text>
<text transform="translate(19.20,601.20) rotate(-90) scale(0.9697,1) translate(-44.09,0)" fill="#000"><tspan font-size="16.70" font-weight="bold">Current [A]</tspan></text>
<polyline points="176.5,679.0 178.5,676.5 180.8,673.5 181.0,548.5 183.0,546.5 190.2,546.7" fill="none" stroke="#333333" stroke-width="1" stroke-linejoin="round" />
<circle cx="176.8" cy="679.5" r="2.3" fill="#fff" stroke="#1a1a1a" stroke-width="1.2" />
<circle cx="178.3" cy="677.5" r="2.3" fill="#fff" stroke="#1a1a1a" stroke-width="1.2" />
<circle cx="180.0" cy="675.5" r="2.3" fill="#fff" stroke="#1a1a1a" stroke-width="1.2" />
<circle cx="180.8" cy="673.5" r="2.3" fill="#fff" stroke="#1a1a1a" stroke-width="1.2" />
<circle cx="181.0" cy="580.0" r="2.3" fill="#fff" stroke="#1a1a1a" stroke-width="1.2" />
<circle cx="181.0" cy="553.5" r="2.3" fill="#fff" stroke="#1a1a1a" stroke-width="1.2" />
<circle cx="181.3" cy="548.5" r="2.3" fill="#fff" stroke="#1a1a1a" stroke-width="1.2" />
<circle cx="183.5" cy="547.0" r="2.3" fill="#fff" stroke="#1a1a1a" stroke-width="1.2" />
<circle cx="190.2" cy="546.7" r="2.3" fill="#fff" stroke="#1a1a1a" stroke-width="1.2" />
<polyline points="175.2,607.0 175.3,548.0 176.5,543.0" fill="none" stroke="#e03030" stroke-width="1" stroke-linejoin="round" />
<circle cx="175.1" cy="607.0" r="2.4" fill="#fff" stroke="#f01010" stroke-width="1.2" />
<rect x="175.5" y="539.1" width="101.6" height="5.4" rx="2.7" fill="#ff0a0a" stroke="#c00000" stroke-width="0.8"/>
<polyline points="174.7,610.5 174.7,555.0" fill="none" stroke="#4040c8" stroke-width="1" stroke-linejoin="round" />
<circle cx="174.7" cy="610.5" r="2.4" fill="#fff" stroke="#1c1cc8" stroke-width="1.2" />
<polyline points="174.0,555.0 172.0,548.0 170.0,543.0 168.0,545.0 166.0,547.5 163.0,548.5 160.0,551.0 158.0,553.0 156.0,557.0 155.6,599.0 154.5,598.5 151.0,596.0 148.5,591.5 146.0,595.0 143.0,596.0 141.0,593.0 138.0,596.0 136.0,601.0 133.0,596.5 131.0,596.0 128.5,594.0 126.0,597.0 123.0,599.5 121.4,604.5 121.4,613.0 122.0,632.0 118.0,625.0 115.0,619.0 112.0,616.0 108.0,614.0 105.0,618.0 102.0,617.0 99.5,619.0 96.5,621.0 90.5,620.5 88.0,632.0 85.0,636.0 81.0,634.0 77.0,632.0 75.0,629.5" fill="none" stroke="#4040c8" stroke-width="1" stroke-linejoin="round" />
<circle cx="174.0" cy="555.0" r="2.3" fill="#fff" stroke="#1c1cc8" stroke-width="1.2" />
<circle cx="172.0" cy="548.0" r="2.3" fill="#fff" stroke="#1c1cc8" stroke-width="1.2" />
<circle cx="170.0" cy="543.0" r="2.3" fill="#fff" stroke="#1c1cc8" stroke-width="1.2" />
<circle cx="168.0" cy="545.0" r="2.3" fill="#fff" stroke="#1c1cc8" stroke-width="1.2" />
<circle cx="166.0" cy="547.5" r="2.3" fill="#fff" stroke="#1c1cc8" stroke-width="1.2" />
<circle cx="163.0" cy="548.5" r="2.3" fill="#fff" stroke="#1c1cc8" stroke-width="1.2" />
<circle cx="160.0" cy="551.0" r="2.3" fill="#fff" stroke="#1c1cc8" stroke-width="1.2" />
<circle cx="158.0" cy="553.0" r="2.3" fill="#fff" stroke="#1c1cc8" stroke-width="1.2" />
<circle cx="156.0" cy="557.0" r="2.3" fill="#fff" stroke="#1c1cc8" stroke-width="1.2" />
<circle cx="154.5" cy="598.5" r="2.3" fill="#fff" stroke="#1c1cc8" stroke-width="1.2" />
<circle cx="151.0" cy="596.0" r="2.3" fill="#fff" stroke="#1c1cc8" stroke-width="1.2" />
<circle cx="148.5" cy="591.5" r="2.3" fill="#fff" stroke="#1c1cc8" stroke-width="1.2" />
<circle cx="146.0" cy="595.0" r="2.3" fill="#fff" stroke="#1c1cc8" stroke-width="1.2" />
<circle cx="143.0" cy="596.0" r="2.3" fill="#fff" stroke="#1c1cc8" stroke-width="1.2" />
<circle cx="141.0" cy="593.0" r="2.3" fill="#fff" stroke="#1c1cc8" stroke-width="1.2" />
<circle cx="138.0" cy="596.0" r="2.3" fill="#fff" stroke="#1c1cc8" stroke-width="1.2" />
<circle cx="136.0" cy="601.0" r="2.3" fill="#fff" stroke="#1c1cc8" stroke-width="1.2" />
<circle cx="133.0" cy="596.5" r="2.3" fill="#fff" stroke="#1c1cc8" stroke-width="1.2" />
<circle cx="131.0" cy="596.0" r="2.3" fill="#fff" stroke="#1c1cc8" stroke-width="1.2" />
<circle cx="128.5" cy="594.0" r="2.3" fill="#fff" stroke="#1c1cc8" stroke-width="1.2" />
<circle cx="126.0" cy="597.0" r="2.3" fill="#fff" stroke="#1c1cc8" stroke-width="1.2" />
<circle cx="123.0" cy="599.5" r="2.3" fill="#fff" stroke="#1c1cc8" stroke-width="1.2" />
<circle cx="121.4" cy="604.5" r="2.3" fill="#fff" stroke="#1c1cc8" stroke-width="1.2" />
<circle cx="122.0" cy="632.0" r="2.3" fill="#fff" stroke="#1c1cc8" stroke-width="1.2" />
<circle cx="118.0" cy="625.0" r="2.3" fill="#fff" stroke="#1c1cc8" stroke-width="1.2" />
<circle cx="115.0" cy="619.0" r="2.3" fill="#fff" stroke="#1c1cc8" stroke-width="1.2" />
<circle cx="112.0" cy="616.0" r="2.3" fill="#fff" stroke="#1c1cc8" stroke-width="1.2" />
<circle cx="108.0" cy="614.0" r="2.3" fill="#fff" stroke="#1c1cc8" stroke-width="1.2" />
<circle cx="105.0" cy="618.0" r="2.3" fill="#fff" stroke="#1c1cc8" stroke-width="1.2" />
<circle cx="102.0" cy="617.0" r="2.3" fill="#fff" stroke="#1c1cc8" stroke-width="1.2" />
<circle cx="99.5" cy="619.0" r="2.3" fill="#fff" stroke="#1c1cc8" stroke-width="1.2" />
<circle cx="96.5" cy="621.0" r="2.3" fill="#fff" stroke="#1c1cc8" stroke-width="1.2" />
<circle cx="90.5" cy="620.5" r="2.3" fill="#fff" stroke="#1c1cc8" stroke-width="1.2" />
<circle cx="88.0" cy="632.0" r="2.3" fill="#fff" stroke="#1c1cc8" stroke-width="1.2" />
<circle cx="85.0" cy="636.0" r="2.3" fill="#fff" stroke="#1c1cc8" stroke-width="1.2" />
<circle cx="81.0" cy="634.0" r="2.3" fill="#fff" stroke="#1c1cc8" stroke-width="1.2" />
<circle cx="77.0" cy="632.0" r="2.3" fill="#fff" stroke="#1c1cc8" stroke-width="1.2" />
<circle cx="75.0" cy="629.5" r="2.3" fill="#fff" stroke="#1c1cc8" stroke-width="1.2" />
<circle cx="156.5" cy="555.1" r="2.3" fill="none" stroke="#1c1cc8" stroke-width="1.2" />
<circle cx="158.6" cy="553.8" r="2.3" fill="none" stroke="#1c1cc8" stroke-width="1.2" />
<circle cx="160.5" cy="551.8" r="2.3" fill="none" stroke="#1c1cc8" stroke-width="1.2" />
<circle cx="161.5" cy="551.6" r="2.3" fill="none" stroke="#1c1cc8" stroke-width="1.2" />
<circle cx="162.4" cy="550.5" r="2.3" fill="none" stroke="#1c1cc8" stroke-width="1.2" />
<circle cx="164.2" cy="550.0" r="2.3" fill="none" stroke="#1c1cc8" stroke-width="1.2" />
<circle cx="165.7" cy="548.4" r="2.3" fill="none" stroke="#1c1cc8" stroke-width="1.2" />
<circle cx="166.8" cy="547.4" r="2.3" fill="none" stroke="#1c1cc8" stroke-width="1.2" />
<circle cx="167.9" cy="546.9" r="2.3" fill="none" stroke="#1c1cc8" stroke-width="1.2" />
<circle cx="122.8" cy="597.7" r="2.4" fill="#fff" stroke="#1c1cc8" stroke-width="1.2" />
<circle cx="125.5" cy="597.2" r="2.4" fill="#fff" stroke="#1c1cc8" stroke-width="1.2" />
<circle cx="127.4" cy="595.4" r="2.4" fill="#fff" stroke="#1c1cc8" stroke-width="1.2" />
<circle cx="129.7" cy="595.4" r="2.4" fill="#fff" stroke="#1c1cc8" stroke-width="1.2" />
<circle cx="131.1" cy="596.5" r="2.4" fill="#fff" stroke="#1c1cc8" stroke-width="1.2" />
<circle cx="133.3" cy="595.4" r="2.4" fill="#fff" stroke="#1c1cc8" stroke-width="1.2" />
<circle cx="135.6" cy="596.8" r="2.4" fill="#fff" stroke="#1c1cc8" stroke-width="1.2" />
<circle cx="137.0" cy="596.6" r="2.4" fill="#fff" stroke="#1c1cc8" stroke-width="1.2" />
<circle cx="140.6" cy="595.8" r="2.4" fill="#fff" stroke="#1c1cc8" stroke-width="1.2" />
<circle cx="142.6" cy="593.7" r="2.4" fill="#fff" stroke="#1c1cc8" stroke-width="1.2" />
<circle cx="143.7" cy="594.3" r="2.4" fill="#fff" stroke="#1c1cc8" stroke-width="1.2" />
<circle cx="144.8" cy="594.1" r="2.4" fill="#fff" stroke="#1c1cc8" stroke-width="1.2" />
<circle cx="146.8" cy="594.0" r="2.4" fill="#fff" stroke="#1c1cc8" stroke-width="1.2" />
<circle cx="150.2" cy="594.9" r="2.4" fill="#fff" stroke="#1c1cc8" stroke-width="1.2" />
<circle cx="151.5" cy="595.3" r="2.4" fill="#fff" stroke="#1c1cc8" stroke-width="1.2" />
<circle cx="152.7" cy="596.6" r="2.4" fill="#fff" stroke="#1c1cc8" stroke-width="1.2" />
<circle cx="95.4" cy="622.2" r="2.4" fill="#fff" stroke="#1c1cc8" stroke-width="1.2" />
<circle cx="94.8" cy="621.6" r="2.4" fill="#fff" stroke="#1c1cc8" stroke-width="1.2" />
<circle cx="96.2" cy="619.9" r="2.4" fill="#fff" stroke="#1c1cc8" stroke-width="1.2" />
<circle cx="99.4" cy="620.6" r="2.4" fill="#fff" stroke="#1c1cc8" stroke-width="1.2" />
<circle cx="101.0" cy="618.3" r="2.4" fill="#fff" stroke="#1c1cc8" stroke-width="1.2" />
<circle cx="105.6" cy="618.0" r="2.4" fill="#fff" stroke="#1c1cc8" stroke-width="1.2" />
<circle cx="107.0" cy="616.7" r="2.4" fill="#fff" stroke="#1c1cc8" stroke-width="1.2" />
<circle cx="108.7" cy="615.2" r="2.4" fill="#fff" stroke="#1c1cc8" stroke-width="1.2" />
<circle cx="110.2" cy="617.9" r="2.4" fill="#fff" stroke="#1c1cc8" stroke-width="1.2" />
<circle cx="114.4" cy="617.6" r="2.4" fill="#fff" stroke="#1c1cc8" stroke-width="1.2" />
<circle cx="115.8" cy="617.7" r="2.4" fill="#fff" stroke="#1c1cc8" stroke-width="1.2" />
<circle cx="114.4" cy="620.7" r="2.4" fill="#fff" stroke="#1c1cc8" stroke-width="1.2" />
<circle cx="116.3" cy="621.5" r="2.4" fill="#fff" stroke="#1c1cc8" stroke-width="1.2" />
<circle cx="74.8" cy="629.4" r="2.4" fill="#fff" stroke="#1c1cc8" stroke-width="1.2" />
<circle cx="74.8" cy="631.1" r="2.4" fill="#fff" stroke="#1c1cc8" stroke-width="1.2" />
<circle cx="77.0" cy="632.6" r="2.4" fill="#fff" stroke="#1c1cc8" stroke-width="1.2" />
<circle cx="77.2" cy="634.6" r="2.4" fill="#fff" stroke="#1c1cc8" stroke-width="1.2" />
<circle cx="80.3" cy="635.3" r="2.4" fill="#fff" stroke="#1c1cc8" stroke-width="1.2" />
<circle cx="83.0" cy="637.2" r="2.4" fill="#fff" stroke="#1c1cc8" stroke-width="1.2" />
<circle cx="84.7" cy="636.2" r="2.4" fill="#fff" stroke="#1c1cc8" stroke-width="1.2" />
<circle cx="86.4" cy="635.5" r="2.4" fill="#fff" stroke="#1c1cc8" stroke-width="1.2" />
<circle cx="88.8" cy="633.7" r="2.4" fill="#fff" stroke="#1c1cc8" stroke-width="1.2" />
<polyline points="78.5,615.5 76.0,621.0 75.0,627.0 77.0,632.0 82.0,635.5 88.0,638.0 94.0,640.0 100.0,641.0 106.0,640.0 112.0,637.5 116.0,634.0 118.5,628.0 120.0,620.0 121.0,614.0" fill="none" stroke="#50d850" stroke-width="1" stroke-linejoin="round" />
<circle cx="78.0" cy="616.7" r="2.8" fill="#fff" stroke="#3ee03e" stroke-width="1.0" />
<circle cx="77.1" cy="618.0" r="2.8" fill="#fff" stroke="#3ee03e" stroke-width="1.0" />
<circle cx="77.5" cy="619.8" r="2.8" fill="#fff" stroke="#3ee03e" stroke-width="1.0" />
<circle cx="77.5" cy="622.0" r="2.8" fill="#fff" stroke="#3ee03e" stroke-width="1.0" />
<circle cx="74.6" cy="623.4" r="2.8" fill="#fff" stroke="#3ee03e" stroke-width="1.0" />
<circle cx="75.3" cy="625.2" r="2.8" fill="#fff" stroke="#3ee03e" stroke-width="1.0" />
<circle cx="74.6" cy="626.3" r="2.8" fill="#fff" stroke="#3ee03e" stroke-width="1.0" />
<circle cx="76.5" cy="628.8" r="2.8" fill="#fff" stroke="#3ee03e" stroke-width="1.0" />
<circle cx="75.5" cy="629.5" r="2.8" fill="#fff" stroke="#3ee03e" stroke-width="1.0" />
<circle cx="76.4" cy="631.0" r="2.8" fill="#fff" stroke="#3ee03e" stroke-width="1.0" />
<circle cx="78.7" cy="632.0" r="2.8" fill="#fff" stroke="#3ee03e" stroke-width="1.0" />
<circle cx="78.9" cy="633.0" r="2.8" fill="#fff" stroke="#3ee03e" stroke-width="1.0" />
<circle cx="80.7" cy="636.2" r="2.8" fill="#fff" stroke="#3ee03e" stroke-width="1.0" />
<circle cx="82.8" cy="636.2" r="2.8" fill="#fff" stroke="#3ee03e" stroke-width="1.0" />
<circle cx="86.9" cy="637.1" r="2.8" fill="#fff" stroke="#3ee03e" stroke-width="1.0" />
<circle cx="86.9" cy="639.2" r="2.8" fill="#fff" stroke="#3ee03e" stroke-width="1.0" />
<circle cx="91.2" cy="637.2" r="2.8" fill="#fff" stroke="#3ee03e" stroke-width="1.0" />
<circle cx="91.2" cy="639.4" r="2.8" fill="#fff" stroke="#3ee03e" stroke-width="1.0" />
<circle cx="94.9" cy="639.7" r="2.8" fill="#fff" stroke="#3ee03e" stroke-width="1.0" />
<circle cx="96.7" cy="639.5" r="2.8" fill="#fff" stroke="#3ee03e" stroke-width="1.0" />
<circle cx="98.7" cy="640.1" r="2.8" fill="#fff" stroke="#3ee03e" stroke-width="1.0" />
<circle cx="99.5" cy="641.8" r="2.8" fill="#fff" stroke="#3ee03e" stroke-width="1.0" />
<circle cx="103.1" cy="641.7" r="2.8" fill="#fff" stroke="#3ee03e" stroke-width="1.0" />
<circle cx="104.2" cy="640.1" r="2.8" fill="#fff" stroke="#3ee03e" stroke-width="1.0" />
<circle cx="106.7" cy="640.4" r="2.8" fill="#fff" stroke="#3ee03e" stroke-width="1.0" />
<circle cx="109.1" cy="640.1" r="2.8" fill="#fff" stroke="#3ee03e" stroke-width="1.0" />
<circle cx="108.8" cy="637.9" r="2.8" fill="#fff" stroke="#3ee03e" stroke-width="1.0" />
<circle cx="112.5" cy="636.6" r="2.8" fill="#fff" stroke="#3ee03e" stroke-width="1.0" />
<circle cx="112.3" cy="634.8" r="2.8" fill="#fff" stroke="#3ee03e" stroke-width="1.0" />
<circle cx="114.9" cy="636.6" r="2.8" fill="#fff" stroke="#3ee03e" stroke-width="1.0" />
<circle cx="117.5" cy="632.8" r="2.8" fill="#fff" stroke="#3ee03e" stroke-width="1.0" />
<circle cx="117.4" cy="631.7" r="2.8" fill="#fff" stroke="#3ee03e" stroke-width="1.0" />
<circle cx="118.1" cy="629.7" r="2.8" fill="#fff" stroke="#3ee03e" stroke-width="1.0" />
<circle cx="119.9" cy="629.6" r="2.8" fill="#fff" stroke="#3ee03e" stroke-width="1.0" />
<circle cx="117.4" cy="626.7" r="2.8" fill="#fff" stroke="#3ee03e" stroke-width="1.0" />
<circle cx="118.0" cy="622.5" r="2.8" fill="#fff" stroke="#3ee03e" stroke-width="1.0" />
<circle cx="118.9" cy="622.7" r="2.8" fill="#fff" stroke="#3ee03e" stroke-width="1.0" />
<circle cx="121.6" cy="618.8" r="2.8" fill="#fff" stroke="#3ee03e" stroke-width="1.0" />
<circle cx="119.8" cy="616.5" r="2.8" fill="#fff" stroke="#3ee03e" stroke-width="1.0" />
<circle cx="120.8" cy="615.9" r="2.8" fill="#fff" stroke="#3ee03e" stroke-width="1.0" />
<circle cx="120.6" cy="613.4" r="2.8" fill="#fff" stroke="#3ee03e" stroke-width="1.0" />
<circle cx="81.1" cy="625.2" r="2.8" fill="#fff" stroke="#3ee03e" stroke-width="1.0" />
<circle cx="81.2" cy="625.6" r="2.8" fill="#fff" stroke="#3ee03e" stroke-width="1.0" />
<circle cx="84.4" cy="629.0" r="2.8" fill="#fff" stroke="#3ee03e" stroke-width="1.0" />
<circle cx="87.7" cy="629.1" r="2.8" fill="#fff" stroke="#3ee03e" stroke-width="1.0" />
<circle cx="88.7" cy="631.2" r="2.8" fill="#fff" stroke="#3ee03e" stroke-width="1.0" />
<circle cx="90.7" cy="630.7" r="2.8" fill="#fff" stroke="#3ee03e" stroke-width="1.0" />
<circle cx="90.2" cy="631.6" r="2.8" fill="#fff" stroke="#3ee03e" stroke-width="1.0" />
<circle cx="94.6" cy="633.1" r="2.8" fill="#fff" stroke="#3ee03e" stroke-width="1.0" />
<circle cx="95.5" cy="633.6" r="2.8" fill="#fff" stroke="#3ee03e" stroke-width="1.0" />
<circle cx="97.4" cy="634.3" r="2.8" fill="#fff" stroke="#3ee03e" stroke-width="1.0" />
<circle cx="100.2" cy="634.4" r="2.8" fill="#fff" stroke="#3ee03e" stroke-width="1.0" />
<circle cx="102.5" cy="634.5" r="2.8" fill="#fff" stroke="#3ee03e" stroke-width="1.0" />
<circle cx="103.0" cy="634.9" r="2.8" fill="#fff" stroke="#3ee03e" stroke-width="1.0" />
<circle cx="105.5" cy="633.1" r="2.8" fill="#fff" stroke="#3ee03e" stroke-width="1.0" />
<circle cx="106.4" cy="631.4" r="2.8" fill="#fff" stroke="#3ee03e" stroke-width="1.0" />
<circle cx="111.4" cy="631.3" r="2.8" fill="#fff" stroke="#3ee03e" stroke-width="1.0" />
<circle cx="110.1" cy="629.9" r="2.8" fill="#fff" stroke="#3ee03e" stroke-width="1.0" />
<circle cx="113.3" cy="631.8" r="2.8" fill="#fff" stroke="#3ee03e" stroke-width="1.0" />
<circle cx="113.9" cy="630.3" r="2.8" fill="#fff" stroke="#3ee03e" stroke-width="1.0" />
<polyline points="121.3,613.5 121.3,632.0" fill="none" stroke="#50d850" stroke-width="1" stroke-linejoin="round" />
<polyline points="117.0,633.0 121.0,640.0 127.0,645.0 133.0,651.0 139.0,654.0 144.0,659.0 150.0,665.0 155.0,672.0 160.0,678.0 163.0,684.0 167.0,690.0" fill="none" stroke="#50d850" stroke-width="1" stroke-linejoin="round" />
<circle cx="117.0" cy="632.8" r="2.8" fill="#fff" stroke="#3ee03e" stroke-width="1.0" />
<circle cx="118.5" cy="634.2" r="2.8" fill="#fff" stroke="#3ee03e" stroke-width="1.0" />
<circle cx="117.5" cy="635.9" r="2.8" fill="#fff" stroke="#3ee03e" stroke-width="1.0" />
<circle cx="119.8" cy="637.5" r="2.8" fill="#fff" stroke="#3ee03e" stroke-width="1.0" />
<circle cx="119.7" cy="639.7" r="2.8" fill="#fff" stroke="#3ee03e" stroke-width="1.0" />
<circle cx="121.9" cy="641.2" r="2.8" fill="#fff" stroke="#3ee03e" stroke-width="1.0" />
<circle cx="122.1" cy="641.8" r="2.8" fill="#fff" stroke="#3ee03e" stroke-width="1.0" />
<circle cx="123.9" cy="641.2" r="2.8" fill="#fff" stroke="#3ee03e" stroke-width="1.0" />
<circle cx="123.5" cy="642.2" r="2.8" fill="#fff" stroke="#3ee03e" stroke-width="1.0" />
<circle cx="124.9" cy="643.0" r="2.8" fill="#fff" stroke="#3ee03e" stroke-width="1.0" />
<circle cx="126.7" cy="645.6" r="2.8" fill="#fff" stroke="#3ee03e" stroke-width="1.0" />
<circle cx="127.7" cy="646.2" r="2.8" fill="#fff" stroke="#3ee03e" stroke-width="1.0" />
<circle cx="128.2" cy="646.7" r="2.8" fill="#fff" stroke="#3ee03e" stroke-width="1.0" />
<circle cx="131.7" cy="647.4" r="2.8" fill="#fff" stroke="#3ee03e" stroke-width="1.0" />
<circle cx="131.9" cy="650.5" r="2.8" fill="#fff" stroke="#3ee03e" stroke-width="1.0" />
<circle cx="133.7" cy="651.6" r="2.8" fill="#fff" stroke="#3ee03e" stroke-width="1.0" />
<circle cx="134.3" cy="652.5" r="2.8" fill="#fff" stroke="#3ee03e" stroke-width="1.0" />
<circle cx="136.8" cy="653.1" r="2.8" fill="#fff" stroke="#3ee03e" stroke-width="1.0" />
<circle cx="138.7" cy="652.3" r="2.8" fill="#fff" stroke="#3ee03e" stroke-width="1.0" />
<circle cx="140.1" cy="653.8" r="2.8" fill="#fff" stroke="#3ee03e" stroke-width="1.0" />
<circle cx="140.7" cy="654.7" r="2.8" fill="#fff" stroke="#3ee03e" stroke-width="1.0" />
<circle cx="142.5" cy="655.4" r="2.8" fill="#fff" stroke="#3ee03e" stroke-width="1.0" />
<circle cx="142.9" cy="657.1" r="2.8" fill="#fff" stroke="#3ee03e" stroke-width="1.0" />
<circle cx="143.7" cy="658.7" r="2.8" fill="#fff" stroke="#3ee03e" stroke-width="1.0" />
<circle cx="145.6" cy="660.9" r="2.8" fill="#fff" stroke="#3ee03e" stroke-width="1.0" />
<circle cx="146.1" cy="661.7" r="2.8" fill="#fff" stroke="#3ee03e" stroke-width="1.0" />
<circle cx="147.2" cy="662.1" r="2.8" fill="#fff" stroke="#3ee03e" stroke-width="1.0" />
<circle cx="149.8" cy="663.4" r="2.8" fill="#fff" stroke="#3ee03e" stroke-width="1.0" />
<circle cx="149.0" cy="664.6" r="2.8" fill="#fff" stroke="#3ee03e" stroke-width="1.0" />
<circle cx="151.6" cy="665.7" r="2.8" fill="#fff" stroke="#3ee03e" stroke-width="1.0" />
<circle cx="152.6" cy="667.9" r="2.8" fill="#fff" stroke="#3ee03e" stroke-width="1.0" />
<circle cx="153.4" cy="668.4" r="2.8" fill="#fff" stroke="#3ee03e" stroke-width="1.0" />
<circle cx="153.1" cy="669.7" r="2.8" fill="#fff" stroke="#3ee03e" stroke-width="1.0" />
<circle cx="154.6" cy="671.8" r="2.8" fill="#fff" stroke="#3ee03e" stroke-width="1.0" />
<circle cx="154.8" cy="673.2" r="2.8" fill="#fff" stroke="#3ee03e" stroke-width="1.0" />
<circle cx="156.8" cy="674.0" r="2.8" fill="#fff" stroke="#3ee03e" stroke-width="1.0" />
<circle cx="158.1" cy="676.7" r="2.8" fill="#fff" stroke="#3ee03e" stroke-width="1.0" />
<circle cx="158.3" cy="677.7" r="2.8" fill="#fff" stroke="#3ee03e" stroke-width="1.0" />
<circle cx="159.6" cy="678.6" r="2.8" fill="#fff" stroke="#3ee03e" stroke-width="1.0" />
<circle cx="159.8" cy="680.7" r="2.8" fill="#fff" stroke="#3ee03e" stroke-width="1.0" />
<circle cx="161.3" cy="682.1" r="2.8" fill="#fff" stroke="#3ee03e" stroke-width="1.0" />
<circle cx="161.6" cy="682.3" r="2.8" fill="#fff" stroke="#3ee03e" stroke-width="1.0" />
<circle cx="163.5" cy="683.2" r="2.8" fill="#fff" stroke="#3ee03e" stroke-width="1.0" />
<circle cx="163.5" cy="685.9" r="2.8" fill="#fff" stroke="#3ee03e" stroke-width="1.0" />
<circle cx="166.1" cy="686.6" r="2.8" fill="#fff" stroke="#3ee03e" stroke-width="1.0" />
<circle cx="165.2" cy="688.2" r="2.8" fill="#fff" stroke="#3ee03e" stroke-width="1.0" />
<circle cx="168.2" cy="689.2" r="2.8" fill="#fff" stroke="#3ee03e" stroke-width="1.0" />
<polyline points="167.0,690.0 170.0,683.0 174.0,678.5 177.0,675.0" fill="none" stroke="#50d850" stroke-width="1" stroke-linejoin="round" />
<circle cx="167.1" cy="689.9" r="2.7" fill="#fff" stroke="#3ee03e" stroke-width="1.0" />
<circle cx="167.9" cy="688.0" r="2.7" fill="#fff" stroke="#3ee03e" stroke-width="1.0" />
<circle cx="168.6" cy="686.8" r="2.7" fill="#fff" stroke="#3ee03e" stroke-width="1.0" />
<circle cx="169.5" cy="684.9" r="2.7" fill="#fff" stroke="#3ee03e" stroke-width="1.0" />
<circle cx="170.0" cy="683.1" r="2.7" fill="#fff" stroke="#3ee03e" stroke-width="1.0" />
<circle cx="171.0" cy="681.8" r="2.7" fill="#fff" stroke="#3ee03e" stroke-width="1.0" />
<circle cx="172.8" cy="680.0" r="2.7" fill="#fff" stroke="#3ee03e" stroke-width="1.0" />
<circle cx="174.1" cy="678.4" r="2.7" fill="#fff" stroke="#3ee03e" stroke-width="1.0" />
<circle cx="175.4" cy="676.5" r="2.7" fill="#fff" stroke="#3ee03e" stroke-width="1.0" />
<circle cx="177.1" cy="675.1" r="2.7" fill="#fff" stroke="#3ee03e" stroke-width="1.0" />
<line x1="67.20" y1="519.40" x2="86.70" y2="519.40" stroke="#555555" stroke-width="1" />
<circle cx="77.0" cy="519.4" r="1.9" fill="#fff" stroke="#555555" stroke-width="1.0" />
<text transform="translate(90.90,522.60) scale(0.8850,1)" fill="#000" ><tspan font-size="14.00" font-weight="bold">0~5</tspan></text>
<line x1="67.20" y1="538.00" x2="86.70" y2="538.00" stroke="#c05858" stroke-width="1" />
<circle cx="77.0" cy="538.0" r="1.9" fill="#fff" stroke="#c05858" stroke-width="1.0" />
<text transform="translate(90.90,541.20) scale(0.8850,1)" fill="#000" ><tspan font-size="14.00" font-weight="bold">5~0</tspan></text>
<line x1="67.20" y1="556.40" x2="86.70" y2="556.40" stroke="#4848a8" stroke-width="1" />
<circle cx="77.0" cy="556.4" r="1.9" fill="#fff" stroke="#4848a8" stroke-width="1.0" />
<text transform="translate(90.90,559.60) scale(0.8850,1)" fill="#000" ><tspan font-size="14.00" font-weight="bold">0~-5</tspan></text>
<line x1="67.20" y1="574.80" x2="86.70" y2="574.80" stroke="#60c860" stroke-width="1" />
<circle cx="77.0" cy="574.8" r="1.9" fill="#fff" stroke="#60c860" stroke-width="1.0" />
<text transform="translate(90.90,578.00) scale(0.8850,1)" fill="#000" ><tspan font-size="14.00" font-weight="bold">-5~0</tspan></text>
<text transform="translate(60.00,684.40) scale(0.9952,1)" fill="#1a1a1a" ><tspan font-size="14.50" font-weight="normal" font-style="italic">V</tspan><tspan font-size="11.31" font-weight="normal" font-style="italic" dy="4.80">reset</tspan><tspan font-size="14.50" font-weight="normal" dy="-4.80"> : -3.95 V</tspan></text>
<line x1="94.60" y1="667.30" x2="94.60" y2="634.00" stroke="#000" stroke-width="1.3" />
<polygon points="94.6,629.0 97.3,635.5 91.9,635.5" fill="#000"/>
<text transform="translate(201.60,522.40) scale(1.0988,1)" fill="#d81020" ><tspan font-size="14.00" font-weight="bold">C.C. : 10</tspan><tspan font-size="9.52" font-weight="bold" dy="-5.80">-3</tspan><tspan font-size="14.00" font-weight="bold" dy="5.80"> A</tspan></text>
<text transform="translate(202.10,568.40) scale(0.9692,1)" fill="#1a1a1a" ><tspan font-size="14.50" font-weight="normal" font-style="italic">V</tspan><tspan font-size="11.31" font-weight="normal" font-style="italic" dy="4.80">set</tspan><tspan font-size="14.50" font-weight="normal" dy="-4.80"> : 0.25 V</tspan></text>
<text transform="translate(211.80,593.40) scale(0.9691,1)" fill="#1a1a1a" ><tspan font-size="14.50" font-weight="normal" font-style="italic">V</tspan><tspan font-size="11.31" font-weight="normal" font-style="italic" dy="4.80">forming</tspan></text>
<text transform="translate(209.60,617.60) scale(0.9855,1)" fill="#1a1a1a" ><tspan font-size="14.50" font-weight="normal">: 0.25 V</tspan></text>
<line x1="202.10" y1="597.80" x2="184.26" y2="645.22" stroke="#000" stroke-width="1.3" />
<polygon points="182.5,649.9 182.3,642.9 187.3,644.8" fill="#000"/>
<text transform="translate(200.20,658.60) scale(0.9768,1)" fill="#2c2c88" ><tspan font-size="14.00" font-weight="bold" font-style="italic">I</tspan><tspan font-size="11.48" font-weight="bold" font-style="italic" dy="3.20">on</tspan><tspan font-size="14.00" font-weight="bold" font-style="italic" dy="-3.20">/I</tspan><tspan font-size="11.48" font-weight="bold" font-style="italic" dy="3.20">off</tspan><tspan font-size="14.00" font-weight="bold" dy="-3.20"> ratio:</tspan></text>
<text transform="translate(188.60,687.90) scale(1.1033,1)" fill="#2c2c88" stroke="#2c2c88" stroke-width="0.55"><tspan font-size="14.00" font-weight="normal">2X10</tspan><tspan font-size="8.68" font-weight="normal" dy="-6.20">7</tspan><tspan font-size="14.00" font-weight="normal" dy="6.20"> @ 0.1 V</tspan></text>
<clipPath id="fclip"><rect x="359.5" y="504.5" width="236.0" height="191.0"/></clipPath>
<line x1="359.50" y1="504.50" x2="595.50" y2="504.50" stroke="#333333" stroke-width="1.1" />
<line x1="359.50" y1="504.50" x2="359.50" y2="695.50" stroke="#333333" stroke-width="1.1" />
<line x1="359.50" y1="695.50" x2="595.50" y2="695.50" stroke="#333333" stroke-width="1.1" />
<line x1="595.50" y1="504.00" x2="595.50" y2="696.00" stroke="#d02828" stroke-width="1.1" />
<line x1="372.40" y1="695.50" x2="372.40" y2="699.00" stroke="#333333" stroke-width="1" />
<text transform="translate(369.24,711.30) scale(1.0,1)" font-size="11.4" font-weight="bold" fill="#000">0</text>
<line x1="386.36" y1="695.50" x2="386.36" y2="697.50" stroke="#333333" stroke-width="1" />
<line x1="400.32" y1="695.50" x2="400.32" y2="699.00" stroke="#333333" stroke-width="1" />
<text transform="translate(394.00,711.30) scale(1.0,1)" font-size="11.4" font-weight="bold" fill="#000">10</text>
<line x1="414.29" y1="695.50" x2="414.29" y2="697.50" stroke="#333333" stroke-width="1" />
<line x1="428.25" y1="695.50" x2="428.25" y2="699.00" stroke="#333333" stroke-width="1" />
<text transform="translate(421.92,711.30) scale(1.0,1)" font-size="11.4" font-weight="bold" fill="#000">20</text>
<line x1="442.21" y1="695.50" x2="442.21" y2="697.50" stroke="#333333" stroke-width="1" />
<line x1="456.17" y1="695.50" x2="456.17" y2="699.00" stroke="#333333" stroke-width="1" />
<text transform="translate(449.85,711.30) scale(1.0,1)" font-size="11.4" font-weight="bold" fill="#000">30</text>
<line x1="470.14" y1="695.50" x2="470.14" y2="697.50" stroke="#333333" stroke-width="1" />
<line x1="484.10" y1="695.50" x2="484.10" y2="699.00" stroke="#333333" stroke-width="1" />
<text transform="translate(477.77,711.30) scale(1.0,1)" font-size="11.4" font-weight="bold" fill="#000">40</text>
<line x1="498.06" y1="695.50" x2="498.06" y2="697.50" stroke="#333333" stroke-width="1" />
<line x1="512.02" y1="695.50" x2="512.02" y2="699.00" stroke="#333333" stroke-width="1" />
<text transform="translate(505.70,711.30) scale(1.0,1)" font-size="11.4" font-weight="bold" fill="#000">50</text>
<line x1="525.99" y1="695.50" x2="525.99" y2="697.50" stroke="#333333" stroke-width="1" />
<line x1="539.95" y1="695.50" x2="539.95" y2="699.00" stroke="#333333" stroke-width="1" />
<text transform="translate(533.62,711.30) scale(1.0,1)" font-size="11.4" font-weight="bold" fill="#000">60</text>
<line x1="553.91" y1="695.50" x2="553.91" y2="697.50" stroke="#333333" stroke-width="1" />
<line x1="567.88" y1="695.50" x2="567.88" y2="699.00" stroke="#333333" stroke-width="1" />
<text transform="translate(561.55,711.30) scale(1.0,1)" font-size="11.4" font-weight="bold" fill="#000">70</text>
<line x1="581.84" y1="695.50" x2="581.84" y2="697.50" stroke="#333333" stroke-width="1" />
<line x1="595.80" y1="695.50" x2="595.80" y2="699.00" stroke="#333333" stroke-width="1" />
<text transform="translate(589.47,711.30) scale(1.0,1)" font-size="11.4" font-weight="bold" fill="#000">80</text>
<line x1="359.50" y1="688.31" x2="361.00" y2="688.31" stroke="#333333" stroke-width="0.8" />
<line x1="359.50" y1="684.11" x2="361.00" y2="684.11" stroke="#333333" stroke-width="0.8" />
<line x1="359.50" y1="681.13" x2="361.00" y2="681.13" stroke="#333333" stroke-width="0.8" />
<line x1="359.50" y1="678.81" x2="361.00" y2="678.81" stroke="#333333" stroke-width="0.8" />
<line x1="359.50" y1="676.92" x2="361.00" y2="676.92" stroke="#333333" stroke-width="0.8" />
<line x1="359.50" y1="675.32" x2="361.00" y2="675.32" stroke="#333333" stroke-width="0.8" />
<line x1="359.50" y1="673.94" x2="361.00" y2="673.94" stroke="#333333" stroke-width="0.8" />
<line x1="359.50" y1="672.72" x2="361.00" y2="672.72" stroke="#333333" stroke-width="0.8" />
<text transform="translate(337.24,700.10) scale(0.9,1)" font-size="11.8" font-weight="bold" fill="#000"><tspan>10</tspan><tspan font-size="7.08" dy="-6.2">-9</tspan></text>
<line x1="359.50" y1="671.62" x2="362.50" y2="671.62" stroke="#333333" stroke-width="1" />
<line x1="359.50" y1="664.44" x2="361.00" y2="664.44" stroke="#333333" stroke-width="0.8" />
<line x1="359.50" y1="660.23" x2="361.00" y2="660.23" stroke="#333333" stroke-width="0.8" />
<line x1="359.50" y1="657.25" x2="361.00" y2="657.25" stroke="#333333" stroke-width="0.8" />
<line x1="359.50" y1="654.94" x2="361.00" y2="654.94" stroke="#333333" stroke-width="0.8" />
<line x1="359.50" y1="653.05" x2="361.00" y2="653.05" stroke="#333333" stroke-width="0.8" />
<line x1="359.50" y1="651.45" x2="361.00" y2="651.45" stroke="#333333" stroke-width="0.8" />
<line x1="359.50" y1="650.06" x2="361.00" y2="650.06" stroke="#333333" stroke-width="0.8" />
<line x1="359.50" y1="648.84" x2="361.00" y2="648.84" stroke="#333333" stroke-width="0.8" />
<text transform="translate(337.24,676.23) scale(0.9,1)" font-size="11.8" font-weight="bold" fill="#000"><tspan>10</tspan><tspan font-size="7.08" dy="-6.2">-8</tspan></text>
<line x1="359.50" y1="647.75" x2="362.50" y2="647.75" stroke="#333333" stroke-width="1" />
<line x1="359.50" y1="640.56" x2="361.00" y2="640.56" stroke="#333333" stroke-width="0.8" />
<line x1="359.50" y1="636.36" x2="361.00" y2="636.36" stroke="#333333" stroke-width="0.8" />
<line x1="359.50" y1="633.38" x2="361.00" y2="633.38" stroke="#333333" stroke-width="0.8" />
<line x1="359.50" y1="631.06" x2="361.00" y2="631.06" stroke="#333333" stroke-width="0.8" />
<line x1="359.50" y1="629.17" x2="361.00" y2="629.17" stroke="#333333" stroke-width="0.8" />
<line x1="359.50" y1="627.57" x2="361.00" y2="627.57" stroke="#333333" stroke-width="0.8" />
<line x1="359.50" y1="626.19" x2="361.00" y2="626.19" stroke="#333333" stroke-width="0.8" />
<line x1="359.50" y1="624.97" x2="361.00" y2="624.97" stroke="#333333" stroke-width="0.8" />
<text transform="translate(337.24,652.35) scale(0.9,1)" font-size="11.8" font-weight="bold" fill="#000"><tspan>10</tspan><tspan font-size="7.08" dy="-6.2">-7</tspan></text>
<line x1="359.50" y1="623.88" x2="362.50" y2="623.88" stroke="#333333" stroke-width="1" />
<line x1="359.50" y1="616.69" x2="361.00" y2="616.69" stroke="#333333" stroke-width="0.8" />
<line x1="359.50" y1="612.48" x2="361.00" y2="612.48" stroke="#333333" stroke-width="0.8" />
<line x1="359.50" y1="609.50" x2="361.00" y2="609.50" stroke="#333333" stroke-width="0.8" />
<line x1="359.50" y1="607.19" x2="361.00" y2="607.19" stroke="#333333" stroke-width="0.8" />
<line x1="359.50" y1="605.30" x2="361.00" y2="605.30" stroke="#333333" stroke-width="0.8" />
<line x1="359.50" y1="603.70" x2="361.00" y2="603.70" stroke="#333333" stroke-width="0.8" />
<line x1="359.50" y1="602.31" x2="361.00" y2="602.31" stroke="#333333" stroke-width="0.8" />
<line x1="359.50" y1="601.09" x2="361.00" y2="601.09" stroke="#333333" stroke-width="0.8" />
<text transform="translate(337.24,628.48) scale(0.9,1)" font-size="11.8" font-weight="bold" fill="#000"><tspan>10</tspan><tspan font-size="7.08" dy="-6.2">-6</tspan></text>
<line x1="359.50" y1="600.00" x2="362.50" y2="600.00" stroke="#333333" stroke-width="1" />
<line x1="359.50" y1="592.81" x2="361.00" y2="592.81" stroke="#333333" stroke-width="0.8" />
<line x1="359.50" y1="588.61" x2="361.00" y2="588.61" stroke="#333333" stroke-width="0.8" />
<line x1="359.50" y1="585.63" x2="361.00" y2="585.63" stroke="#333333" stroke-width="0.8" />
<line x1="359.50" y1="583.31" x2="361.00" y2="583.31" stroke="#333333" stroke-width="0.8" />
<line x1="359.50" y1="581.42" x2="361.00" y2="581.42" stroke="#333333" stroke-width="0.8" />
<line x1="359.50" y1="579.82" x2="361.00" y2="579.82" stroke="#333333" stroke-width="0.8" />
<line x1="359.50" y1="578.44" x2="361.00" y2="578.44" stroke="#333333" stroke-width="0.8" />
<line x1="359.50" y1="577.22" x2="361.00" y2="577.22" stroke="#333333" stroke-width="0.8" />
<text transform="translate(337.24,604.60) scale(0.9,1)" font-size="11.8" font-weight="bold" fill="#000"><tspan>10</tspan><tspan font-size="7.08" dy="-6.2">-5</tspan></text>
<line x1="359.50" y1="576.12" x2="362.50" y2="576.12" stroke="#333333" stroke-width="1" />
<line x1="359.50" y1="568.94" x2="361.00" y2="568.94" stroke="#333333" stroke-width="0.8" />
<line x1="359.50" y1="564.73" x2="361.00" y2="564.73" stroke="#333333" stroke-width="0.8" />
<line x1="359.50" y1="561.75" x2="361.00" y2="561.75" stroke="#333333" stroke-width="0.8" />
<line x1="359.50" y1="559.44" x2="361.00" y2="559.44" stroke="#333333" stroke-width="0.8" />
<line x1="359.50" y1="557.55" x2="361.00" y2="557.55" stroke="#333333" stroke-width="0.8" />
<line x1="359.50" y1="555.95" x2="361.00" y2="555.95" stroke="#333333" stroke-width="0.8" />
<line x1="359.50" y1="554.56" x2="361.00" y2="554.56" stroke="#333333" stroke-width="0.8" />
<line x1="359.50" y1="553.34" x2="361.00" y2="553.34" stroke="#333333" stroke-width="0.8" />
<text transform="translate(337.24,580.73) scale(0.9,1)" font-size="11.8" font-weight="bold" fill="#000"><tspan>10</tspan><tspan font-size="7.08" dy="-6.2">-4</tspan></text>
<line x1="359.50" y1="552.25" x2="362.50" y2="552.25" stroke="#333333" stroke-width="1" />
<line x1="359.50" y1="545.06" x2="361.00" y2="545.06" stroke="#333333" stroke-width="0.8" />
<line x1="359.50" y1="540.86" x2="361.00" y2="540.86" stroke="#333333" stroke-width="0.8" />
<line x1="359.50" y1="537.88" x2="361.00" y2="537.88" stroke="#333333" stroke-width="0.8" />
<line x1="359.50" y1="535.56" x2="361.00" y2="535.56" stroke="#333333" stroke-width="0.8" />
<line x1="359.50" y1="533.67" x2="361.00" y2="533.67" stroke="#333333" stroke-width="0.8" />
<line x1="359.50" y1="532.07" x2="361.00" y2="532.07" stroke="#333333" stroke-width="0.8" />
<line x1="359.50" y1="530.69" x2="361.00" y2="530.69" stroke="#333333" stroke-width="0.8" />
<line x1="359.50" y1="529.47" x2="361.00" y2="529.47" stroke="#333333" stroke-width="0.8" />
<text transform="translate(337.24,556.85) scale(0.9,1)" font-size="11.8" font-weight="bold" fill="#000"><tspan>10</tspan><tspan font-size="7.08" dy="-6.2">-3</tspan></text>
<line x1="359.50" y1="528.38" x2="362.50" y2="528.38" stroke="#333333" stroke-width="1" />
<line x1="359.50" y1="521.19" x2="361.00" y2="521.19" stroke="#333333" stroke-width="0.8" />
<line x1="359.50" y1="516.98" x2="361.00" y2="516.98" stroke="#333333" stroke-width="0.8" />
<line x1="359.50" y1="514.00" x2="361.00" y2="514.00" stroke="#333333" stroke-width="0.8" />
<line x1="359.50" y1="511.69" x2="361.00" y2="511.69" stroke="#333333" stroke-width="0.8" />
<line x1="359.50" y1="509.80" x2="361.00" y2="509.80" stroke="#333333" stroke-width="0.8" />
<line x1="359.50" y1="508.20" x2="361.00" y2="508.20" stroke="#333333" stroke-width="0.8" />
<line x1="359.50" y1="506.81" x2="361.00" y2="506.81" stroke="#333333" stroke-width="0.8" />
<line x1="359.50" y1="505.59" x2="361.00" y2="505.59" stroke="#333333" stroke-width="0.8" />
<text transform="translate(337.24,532.98) scale(0.9,1)" font-size="11.8" font-weight="bold" fill="#000"><tspan>10</tspan><tspan font-size="7.08" dy="-6.2">-2</tspan></text>
<text transform="translate(337.24,509.10) scale(0.9,1)" font-size="11.8" font-weight="bold" fill="#000"><tspan>10</tspan><tspan font-size="7.08" dy="-6.2">-1</tspan></text>
<line x1="595.50" y1="676.40" x2="593.70" y2="676.40" stroke="#d02828" stroke-width="0.9" />
<text transform="translate(599.33,698.50) scale(0.95,1)" font-size="12.4" font-weight="bold" fill="#d02828">0</text>
<line x1="595.50" y1="657.30" x2="592.50" y2="657.30" stroke="#d02828" stroke-width="1" />
<line x1="595.50" y1="638.20" x2="593.70" y2="638.20" stroke="#d02828" stroke-width="0.9" />
<text transform="translate(599.33,660.30) scale(0.95,1)" font-size="12.4" font-weight="bold" fill="#d02828">1</text>
<line x1="595.50" y1="619.10" x2="592.50" y2="619.10" stroke="#d02828" stroke-width="1" />
<line x1="595.50" y1="600.00" x2="593.70" y2="600.00" stroke="#d02828" stroke-width="0.9" />
<text transform="translate(599.33,622.10) scale(0.95,1)" font-size="12.4" font-weight="bold" fill="#d02828">2</text>
<line x1="595.50" y1="580.90" x2="592.50" y2="580.90" stroke="#d02828" stroke-width="1" />
<line x1="595.50" y1="561.80" x2="593.70" y2="561.80" stroke="#d02828" stroke-width="0.9" />
<text transform="translate(599.33,583.90) scale(0.95,1)" font-size="12.4" font-weight="bold" fill="#d02828">3</text>
<line x1="595.50" y1="542.70" x2="592.50" y2="542.70" stroke="#d02828" stroke-width="1" />
<line x1="595.50" y1="523.60" x2="593.70" y2="523.60" stroke="#d02828" stroke-width="0.9" />
<text transform="translate(599.33,545.70) scale(0.95,1)" font-size="12.4" font-weight="bold" fill="#d02828">4</text>
<text transform="translate(599.33,507.50) scale(0.95,1)" font-size="12.4" font-weight="bold" fill="#d02828">5</text>
<line x1="629.80" y1="504.00" x2="629.80" y2="696.00" stroke="#2323a8" stroke-width="1.1" />
<line x1="629.80" y1="695.50" x2="626.80" y2="695.50" stroke="#2323a8" stroke-width="1" />
<line x1="629.80" y1="684.00" x2="628.30" y2="684.00" stroke="#2323a8" stroke-width="0.8" />
<line x1="629.80" y1="677.27" x2="628.30" y2="677.27" stroke="#2323a8" stroke-width="0.8" />
<line x1="629.80" y1="672.50" x2="628.30" y2="672.50" stroke="#2323a8" stroke-width="0.8" />
<line x1="629.80" y1="668.80" x2="628.30" y2="668.80" stroke="#2323a8" stroke-width="0.8" />
<line x1="629.80" y1="665.77" x2="628.30" y2="665.77" stroke="#2323a8" stroke-width="0.8" />
<line x1="629.80" y1="663.22" x2="628.30" y2="663.22" stroke="#2323a8" stroke-width="0.8" />
<line x1="629.80" y1="661.00" x2="628.30" y2="661.00" stroke="#2323a8" stroke-width="0.8" />
<line x1="629.80" y1="659.05" x2="628.30" y2="659.05" stroke="#2323a8" stroke-width="0.8" />
<text transform="translate(635.58,699.70) scale(0.84,1)" font-size="12.8" font-weight="bold" fill="#2323a8"><tspan>10</tspan><tspan font-size="7.04" dy="-5.5">3</tspan></text>
<line x1="629.80" y1="657.30" x2="626.80" y2="657.30" stroke="#2323a8" stroke-width="1" />
<line x1="629.80" y1="645.80" x2="628.30" y2="645.80" stroke="#2323a8" stroke-width="0.8" />
<line x1="629.80" y1="639.07" x2="628.30" y2="639.07" stroke="#2323a8" stroke-width="0.8" />
<line x1="629.80" y1="634.30" x2="628.30" y2="634.30" stroke="#2323a8" stroke-width="0.8" />
<line x1="629.80" y1="630.60" x2="628.30" y2="630.60" stroke="#2323a8" stroke-width="0.8" />
<line x1="629.80" y1="627.57" x2="628.30" y2="627.57" stroke="#2323a8" stroke-width="0.8" />
<line x1="629.80" y1="625.02" x2="628.30" y2="625.02" stroke="#2323a8" stroke-width="0.8" />
<line x1="629.80" y1="622.80" x2="628.30" y2="622.80" stroke="#2323a8" stroke-width="0.8" />
<line x1="629.80" y1="620.85" x2="628.30" y2="620.85" stroke="#2323a8" stroke-width="0.8" />
<text transform="translate(635.58,661.50) scale(0.84,1)" font-size="12.8" font-weight="bold" fill="#2323a8"><tspan>10</tspan><tspan font-size="7.04" dy="-5.5">4</tspan></text>
<line x1="629.80" y1="619.10" x2="626.80" y2="619.10" stroke="#2323a8" stroke-width="1" />
<line x1="629.80" y1="607.60" x2="628.30" y2="607.60" stroke="#2323a8" stroke-width="0.8" />
<line x1="629.80" y1="600.87" x2="628.30" y2="600.87" stroke="#2323a8" stroke-width="0.8" />
<line x1="629.80" y1="596.10" x2="628.30" y2="596.10" stroke="#2323a8" stroke-width="0.8" />
<line x1="629.80" y1="592.40" x2="628.30" y2="592.40" stroke="#2323a8" stroke-width="0.8" />
<line x1="629.80" y1="589.37" x2="628.30" y2="589.37" stroke="#2323a8" stroke-width="0.8" />
<line x1="629.80" y1="586.82" x2="628.30" y2="586.82" stroke="#2323a8" stroke-width="0.8" />
<line x1="629.80" y1="584.60" x2="628.30" y2="584.60" stroke="#2323a8" stroke-width="0.8" />
<line x1="629.80" y1="582.65" x2="628.30" y2="582.65" stroke="#2323a8" stroke-width="0.8" />
<text transform="translate(635.58,623.30) scale(0.84,1)" font-size="12.8" font-weight="bold" fill="#2323a8"><tspan>10</tspan><tspan font-size="7.04" dy="-5.5">5</tspan></text>
<line x1="629.80" y1="580.90" x2="626.80" y2="580.90" stroke="#2323a8" stroke-width="1" />
<line x1="629.80" y1="569.40" x2="628.30" y2="569.40" stroke="#2323a8" stroke-width="0.8" />
<line x1="629.80" y1="562.67" x2="628.30" y2="562.67" stroke="#2323a8" stroke-width="0.8" />
<line x1="629.80" y1="557.90" x2="628.30" y2="557.90" stroke="#2323a8" stroke-width="0.8" />
<line x1="629.80" y1="554.20" x2="628.30" y2="554.20" stroke="#2323a8" stroke-width="0.8" />
<line x1="629.80" y1="551.17" x2="628.30" y2="551.17" stroke="#2323a8" stroke-width="0.8" />
<line x1="629.80" y1="548.62" x2="628.30" y2="548.62" stroke="#2323a8" stroke-width="0.8" />
<line x1="629.80" y1="546.40" x2="628.30" y2="546.40" stroke="#2323a8" stroke-width="0.8" />
<line x1="629.80" y1="544.45" x2="628.30" y2="544.45" stroke="#2323a8" stroke-width="0.8" />
<text transform="translate(635.58,585.10) scale(0.84,1)" font-size="12.8" font-weight="bold" fill="#2323a8"><tspan>10</tspan><tspan font-size="7.04" dy="-5.5">6</tspan></text>
<line x1="629.80" y1="542.70" x2="626.80" y2="542.70" stroke="#2323a8" stroke-width="1" />
<line x1="629.80" y1="531.20" x2="628.30" y2="531.20" stroke="#2323a8" stroke-width="0.8" />
<line x1="629.80" y1="524.47" x2="628.30" y2="524.47" stroke="#2323a8" stroke-width="0.8" />
<line x1="629.80" y1="519.70" x2="628.30" y2="519.70" stroke="#2323a8" stroke-width="0.8" />
<line x1="629.80" y1="516.00" x2="628.30" y2="516.00" stroke="#2323a8" stroke-width="0.8" />
<line x1="629.80" y1="512.97" x2="628.30" y2="512.97" stroke="#2323a8" stroke-width="0.8" />
<line x1="629.80" y1="510.42" x2="628.30" y2="510.42" stroke="#2323a8" stroke-width="0.8" />
<line x1="629.80" y1="508.20" x2="628.30" y2="508.20" stroke="#2323a8" stroke-width="0.8" />
<line x1="629.80" y1="506.25" x2="628.30" y2="506.25" stroke="#2323a8" stroke-width="0.8" />
<text transform="translate(635.58,546.90) scale(0.84,1)" font-size="12.8" font-weight="bold" fill="#2323a8"><tspan>10</tspan><tspan font-size="7.04" dy="-5.5">7</tspan></text>
<line x1="629.80" y1="504.50" x2="626.80" y2="504.50" stroke="#2323a8" stroke-width="1" />
<text transform="translate(635.58,508.70) scale(0.84,1)" font-size="12.8" font-weight="bold" fill="#2323a8"><tspan>10</tspan><tspan font-size="7.04" dy="-5.5">8</tspan></text>
<text transform="translate(325.20,611.40) rotate(-90) scale(0.8903,1) translate(-44.09,0)" fill="#000"><tspan font-size="16.70" font-weight="bold">Current [A]</tspan></text>
<text transform="translate(619.60,608.10) rotate(-90) scale(1.0094,1) translate(-38.14,0)" fill="#d02828"><tspan font-size="14.60" font-weight="bold">Voltage [V]</tspan></text>
<text transform="translate(667.40,600.00) rotate(-90) scale(0.9121,1) translate(-46.32,0)" fill="#2323a8"><tspan font-size="16.00" font-weight="bold">Ion/Ioff ratio</tspan></text>
<text transform="translate(375.80,725.20) scale(0.9618,1)" fill="#000" stroke="#000" stroke-width="0.3"><tspan font-size="14.60" font-weight="normal">AgNO</tspan><tspan font-size="9.05" font-weight="normal" dy="5.00">3</tspan><tspan font-size="14.60" font-weight="normal" dy="-5.00"> doping concentration [%]</tspan></text>
<g clip-path="url(#fclip)">
<polyline points="372.4,746.7 414.3,623.5 456.2,599.0 540.0,551.5 581.8,551.5" fill="none" stroke="#202020" stroke-width="1.1" stroke-linejoin="round" />
<polyline points="372.4,694.4 414.3,631.8 456.2,652.6 540.0,679.6 581.8,685.6" fill="none" stroke="#c8404a" stroke-width="1.1" stroke-linejoin="round" />
<polyline points="372.4,694.4 414.3,675.8 456.2,631.8 540.0,588.1 581.8,544.5" fill="none" stroke="#3c3c98" stroke-width="1.1" stroke-linejoin="round" />
<polyline points="414.3,639.2 456.2,657.0 540.0,563.9 581.8,532.2" fill="none" stroke="#58d058" stroke-width="1.1" stroke-linejoin="round" />
<circle cx="414.3" cy="623.5" r="3.5" fill="#fff" stroke="#202020" stroke-width="1.3" />
<circle cx="456.2" cy="599.0" r="3.5" fill="#fff" stroke="#202020" stroke-width="1.3" />
<circle cx="540.0" cy="551.5" r="3.5" fill="#fff" stroke="#202020" stroke-width="1.3" />
<circle cx="581.8" cy="551.5" r="3.5" fill="#fff" stroke="#202020" stroke-width="1.3" />
<circle cx="372.4" cy="694.4" r="3.5" fill="#fff" stroke="#c8404a" stroke-width="1.3" />
<circle cx="414.3" cy="631.8" r="3.5" fill="#fff" stroke="#c8404a" stroke-width="1.3" />
<circle cx="456.2" cy="652.6" r="3.5" fill="#fff" stroke="#c8404a" stroke-width="1.3" />
<circle cx="540.0" cy="679.6" r="3.5" fill="#fff" stroke="#c8404a" stroke-width="1.3" />
<circle cx="581.8" cy="685.6" r="3.5" fill="#fff" stroke="#c8404a" stroke-width="1.3" />
<circle cx="372.4" cy="694.4" r="3.5" fill="#fff" stroke="#3c3c98" stroke-width="1.3" />
<circle cx="414.3" cy="675.8" r="3.5" fill="#fff" stroke="#3c3c98" stroke-width="1.3" />
<circle cx="456.2" cy="631.8" r="3.5" fill="#fff" stroke="#3c3c98" stroke-width="1.3" />
<circle cx="540.0" cy="588.1" r="3.5" fill="#fff" stroke="#3c3c98" stroke-width="1.3" />
<circle cx="581.8" cy="544.5" r="3.5" fill="#fff" stroke="#3c3c98" stroke-width="1.3" />
<circle cx="414.3" cy="639.2" r="3.5" fill="#fff" stroke="#58d058" stroke-width="1.3" />
<circle cx="456.2" cy="657.0" r="3.5" fill="#fff" stroke="#58d058" stroke-width="1.3" />
<circle cx="540.0" cy="563.9" r="3.5" fill="#fff" stroke="#58d058" stroke-width="1.3" />
<circle cx="581.8" cy="532.2" r="3.5" fill="#fff" stroke="#58d058" stroke-width="1.3" />
</g>
<line x1="362.70" y1="515.60" x2="373.60" y2="515.60" stroke="#555555" stroke-width="1.2" />
<line x1="384.00" y1="515.60" x2="395.50" y2="515.60" stroke="#555555" stroke-width="1.2" />
<circle cx="378.8" cy="515.6" r="3.5" fill="#fff" stroke="#202020" stroke-width="1.3" />
<line x1="362.70" y1="535.80" x2="373.60" y2="535.80" stroke="#c86070" stroke-width="1.2" />
<line x1="384.00" y1="535.80" x2="395.50" y2="535.80" stroke="#c86070" stroke-width="1.2" />
<circle cx="378.8" cy="535.8" r="3.5" fill="#fff" stroke="#c8404a" stroke-width="1.3" />
<line x1="362.70" y1="556.10" x2="373.60" y2="556.10" stroke="#5454a4" stroke-width="1.2" />
<line x1="384.00" y1="556.10" x2="395.50" y2="556.10" stroke="#5454a4" stroke-width="1.2" />
<circle cx="378.8" cy="556.1" r="3.5" fill="#fff" stroke="#3c3c98" stroke-width="1.3" />
<line x1="362.70" y1="575.90" x2="373.60" y2="575.90" stroke="#74d474" stroke-width="1.2" />
<line x1="384.00" y1="575.90" x2="395.50" y2="575.90" stroke="#74d474" stroke-width="1.2" />
<circle cx="378.8" cy="575.9" r="3.5" fill="#fff" stroke="#58d058" stroke-width="1.3" />
<text transform="translate(400.60,520.60) scale(0.9212,1)" fill="#000" ><tspan font-size="14.60" font-weight="bold">C.C.</tspan></text>
<text transform="translate(401.50,540.60) scale(0.9341,1)" fill="#000" stroke="#000" stroke-width="0.35"><tspan font-size="13.80" font-weight="normal" font-style="italic">V</tspan><tspan font-size="11.04" font-weight="normal" font-style="italic" dy="1.00">set</tspan></text>
<text transform="translate(401.50,560.90) scale(0.9433,1)" fill="#000" stroke="#000" stroke-width="0.35"><tspan font-size="13.80" font-weight="normal" font-style="italic">V</tspan><tspan font-size="11.04" font-weight="normal" font-style="italic" dy="1.00">Reset</tspan></text>
<text transform="translate(401.50,580.10) scale(0.9991,1)" fill="#000" stroke="#000" stroke-width="0.35"><tspan font-size="13.80" font-weight="normal" font-style="italic">I</tspan><tspan font-size="11.04" font-weight="normal" font-style="italic" dy="1.00">on</tspan><tspan font-size="13.80" font-weight="normal" font-style="italic" dy="-1.00">/I</tspan><tspan font-size="11.04" font-weight="normal" font-style="italic" dy="1.00">off</tspan><tspan font-size="13.80" font-weight="bold" dy="-1.00" fill="#000"> ratio</tspan></text>
</svg>
</body></html>
